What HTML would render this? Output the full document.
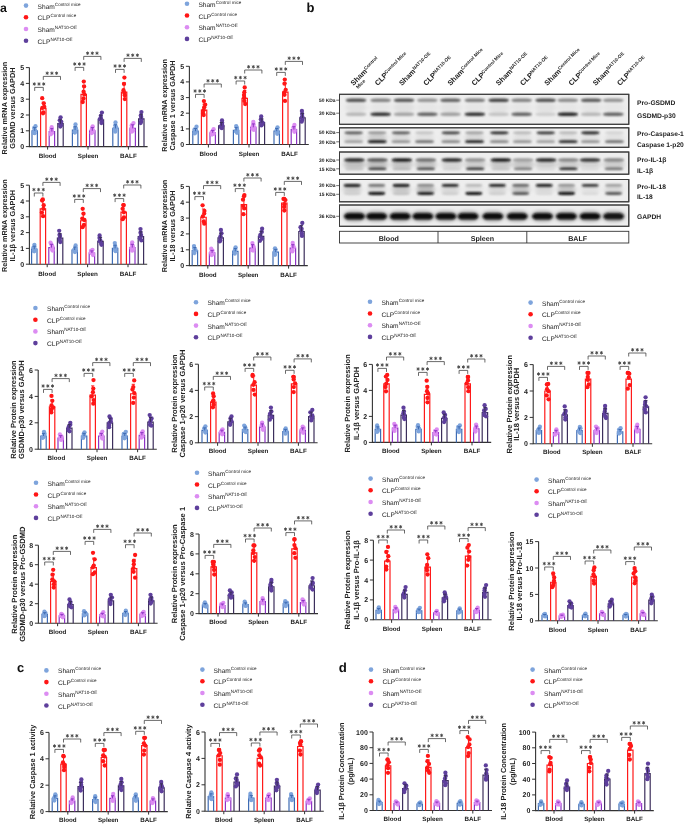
<!DOCTYPE html>
<html><head><meta charset="utf-8"><style>
html,body{margin:0;padding:0;background:#fff;}
svg{display:block;font-family:"Liberation Sans", sans-serif;will-change:transform;text-rendering:geometricPrecision;}
</style></head><body>
<svg width="685" height="824" viewBox="0 0 685 824">
<rect width="685" height="824" fill="#fff"/>
<text transform="translate(6.5,108.1) rotate(-90)" text-anchor="middle" font-size="7.3" font-weight="bold" fill="#222">Relative mRNA expression</text>
<text transform="translate(14.5,108.1) rotate(-90)" text-anchor="middle" font-size="7.3" font-weight="bold" fill="#222">GSDMD versus GAPDH</text>
<path d="M29.4,67.6V146.6H147.6" stroke="#333333" stroke-width="1.1" fill="none"/>
<path d="M25.9,146.6H29.4" stroke="#333333" stroke-width="1"/>
<text x="24.2" y="149.1" text-anchor="end" font-size="7" font-weight="bold" fill="#222">0</text>
<path d="M25.9,130.8H29.4" stroke="#333333" stroke-width="1"/>
<text x="24.2" y="133.3" text-anchor="end" font-size="7" font-weight="bold" fill="#222">1</text>
<path d="M25.9,115.0H29.4" stroke="#333333" stroke-width="1"/>
<text x="24.2" y="117.5" text-anchor="end" font-size="7" font-weight="bold" fill="#222">2</text>
<path d="M25.9,99.2H29.4" stroke="#333333" stroke-width="1"/>
<text x="24.2" y="101.7" text-anchor="end" font-size="7" font-weight="bold" fill="#222">3</text>
<path d="M25.9,83.4H29.4" stroke="#333333" stroke-width="1"/>
<text x="24.2" y="85.9" text-anchor="end" font-size="7" font-weight="bold" fill="#222">4</text>
<path d="M25.9,67.6H29.4" stroke="#333333" stroke-width="1"/>
<text x="24.2" y="70.1" text-anchor="end" font-size="7" font-weight="bold" fill="#222">5</text>
<path d="M47.6,146.6v3" stroke="#333333" stroke-width="1"/>
<text x="47.6" y="157.9" text-anchor="middle" font-size="6.25" font-weight="bold" fill="#222">Blood</text>
<path d="M32.00,146.60V130.80H37.40V146.60" fill="none" stroke="#3f6cb4" stroke-width="1.2"/>
<circle cx="35.5" cy="126.2" r="2.15" fill="#7ea4dc"/>
<circle cx="34.2" cy="127.9" r="2.15" fill="#7ea4dc"/>
<circle cx="34.6" cy="129.7" r="2.15" fill="#7ea4dc"/>
<circle cx="35.3" cy="130.7" r="2.15" fill="#7ea4dc"/>
<circle cx="33.7" cy="132.6" r="2.15" fill="#7ea4dc"/>
<circle cx="34.6" cy="133.2" r="2.15" fill="#7ea4dc"/>
<path d="M34.7,130.8V127.6M33.1,127.6h3.2" stroke="#3f6cb4" stroke-width="1"/>
<path d="M40.60,146.60V108.68H46.00V146.60" fill="none" stroke="#ff1a1a" stroke-width="1.2"/>
<circle cx="42.2" cy="98.2" r="2.15" fill="#ff1616"/>
<circle cx="43.8" cy="103.3" r="2.15" fill="#ff1616"/>
<circle cx="44.3" cy="106.9" r="2.15" fill="#ff1616"/>
<circle cx="42.3" cy="107.9" r="2.15" fill="#ff1616"/>
<circle cx="43.4" cy="112.5" r="2.15" fill="#ff1616"/>
<circle cx="43.0" cy="113.3" r="2.15" fill="#ff1616"/>
<path d="M43.3,108.7V102.2M41.7,102.2h3.2" stroke="#ff1a1a" stroke-width="1"/>
<path d="M49.20,146.60V131.59H54.60V146.60" fill="none" stroke="#8e34c4" stroke-width="1.2"/>
<circle cx="51.7" cy="127.2" r="2.15" fill="#dc8cf2"/>
<circle cx="51.3" cy="129.5" r="2.15" fill="#dc8cf2"/>
<circle cx="51.9" cy="130.6" r="2.15" fill="#dc8cf2"/>
<circle cx="51.3" cy="131.8" r="2.15" fill="#dc8cf2"/>
<circle cx="51.8" cy="133.2" r="2.15" fill="#dc8cf2"/>
<circle cx="50.8" cy="134.3" r="2.15" fill="#dc8cf2"/>
<path d="M51.9,131.6V128.6M50.3,128.6h3.2" stroke="#8e34c4" stroke-width="1"/>
<path d="M57.80,146.60V123.69H63.20V146.60" fill="none" stroke="#3c2f5c" stroke-width="1.2"/>
<circle cx="60.6" cy="117.3" r="2.15" fill="#5e3f9c"/>
<circle cx="59.8" cy="120.2" r="2.15" fill="#5e3f9c"/>
<circle cx="61.3" cy="121.8" r="2.15" fill="#5e3f9c"/>
<circle cx="60.1" cy="124.1" r="2.15" fill="#5e3f9c"/>
<circle cx="61.0" cy="125.2" r="2.15" fill="#5e3f9c"/>
<circle cx="60.3" cy="126.5" r="2.15" fill="#5e3f9c"/>
<path d="M60.5,123.7V119.8M58.9,119.8h3.2" stroke="#3c2f5c" stroke-width="1"/>
<path d="M34.7,90.9V87.4H43.3V90.9" stroke="#444" stroke-width="0.8" fill="none"/>
<path d="M34.30,82.30L34.30,85.70M32.83,83.15L35.77,84.85M32.83,84.85L35.77,83.15M39.00,82.30L39.00,85.70M37.53,83.15L40.47,84.85M37.53,84.85L40.47,83.15M43.70,82.30L43.70,85.70M42.23,83.15L45.17,84.85M42.23,84.85L45.17,83.15" stroke="#444" stroke-width="0.9" fill="none"/>
<path d="M43.3,79.9V76.4H60.5V79.9" stroke="#444" stroke-width="0.8" fill="none"/>
<path d="M47.20,71.50L47.20,74.90M45.73,72.35L48.67,74.05M45.73,74.05L48.67,72.35M51.90,71.50L51.90,74.90M50.43,72.35L53.37,74.05M50.43,74.05L53.37,72.35M56.60,71.50L56.60,74.90M55.13,72.35L58.07,74.05M55.13,74.05L58.07,72.35" stroke="#444" stroke-width="0.9" fill="none"/>
<path d="M88.0,146.6v3" stroke="#333333" stroke-width="1"/>
<text x="88.0" y="157.9" text-anchor="middle" font-size="6.25" font-weight="bold" fill="#222">Spleen</text>
<path d="M72.40,146.60V130.01H77.80V146.60" fill="none" stroke="#3f6cb4" stroke-width="1.2"/>
<circle cx="75.5" cy="124.5" r="2.15" fill="#7ea4dc"/>
<circle cx="75.3" cy="127.4" r="2.15" fill="#7ea4dc"/>
<circle cx="75.9" cy="128.5" r="2.15" fill="#7ea4dc"/>
<circle cx="75.3" cy="130.0" r="2.15" fill="#7ea4dc"/>
<circle cx="74.5" cy="132.0" r="2.15" fill="#7ea4dc"/>
<circle cx="74.9" cy="132.5" r="2.15" fill="#7ea4dc"/>
<path d="M75.1,130.0V126.7M73.5,126.7h3.2" stroke="#3f6cb4" stroke-width="1"/>
<path d="M81.00,146.60V94.46H86.40V146.60" fill="none" stroke="#ff1a1a" stroke-width="1.2"/>
<circle cx="83.8" cy="81.6" r="2.15" fill="#ff1616"/>
<circle cx="84.1" cy="86.4" r="2.15" fill="#ff1616"/>
<circle cx="83.6" cy="91.7" r="2.15" fill="#ff1616"/>
<circle cx="84.3" cy="94.4" r="2.15" fill="#ff1616"/>
<circle cx="83.5" cy="98.4" r="2.15" fill="#ff1616"/>
<circle cx="82.7" cy="102.0" r="2.15" fill="#ff1616"/>
<path d="M83.7,94.5V85.6M82.1,85.6h3.2" stroke="#ff1a1a" stroke-width="1"/>
<path d="M89.60,146.60V130.80H95.00V146.60" fill="none" stroke="#8e34c4" stroke-width="1.2"/>
<circle cx="92.7" cy="126.3" r="2.15" fill="#dc8cf2"/>
<circle cx="92.5" cy="127.7" r="2.15" fill="#dc8cf2"/>
<circle cx="91.6" cy="129.8" r="2.15" fill="#dc8cf2"/>
<circle cx="93.4" cy="130.8" r="2.15" fill="#dc8cf2"/>
<circle cx="92.4" cy="132.0" r="2.15" fill="#dc8cf2"/>
<circle cx="91.7" cy="133.1" r="2.15" fill="#dc8cf2"/>
<path d="M92.3,130.8V127.6M90.7,127.6h3.2" stroke="#8e34c4" stroke-width="1"/>
<path d="M98.20,146.60V119.74H103.60V146.60" fill="none" stroke="#3c2f5c" stroke-width="1.2"/>
<circle cx="101.9" cy="112.6" r="2.15" fill="#5e3f9c"/>
<circle cx="100.8" cy="115.8" r="2.15" fill="#5e3f9c"/>
<circle cx="101.0" cy="118.5" r="2.15" fill="#5e3f9c"/>
<circle cx="99.8" cy="119.1" r="2.15" fill="#5e3f9c"/>
<circle cx="101.6" cy="121.4" r="2.15" fill="#5e3f9c"/>
<circle cx="101.4" cy="123.1" r="2.15" fill="#5e3f9c"/>
<path d="M100.9,119.7V115.2M99.3,115.2h3.2" stroke="#3c2f5c" stroke-width="1"/>
<path d="M75.1,70.9V67.4H83.7V70.9" stroke="#444" stroke-width="0.8" fill="none"/>
<path d="M74.70,62.30L74.70,65.70M73.23,63.15L76.17,64.85M73.23,64.85L76.17,63.15M79.40,62.30L79.40,65.70M77.93,63.15L80.87,64.85M77.93,64.85L80.87,63.15M84.10,62.30L84.10,65.70M82.63,63.15L85.57,64.85M82.63,64.85L85.57,63.15" stroke="#444" stroke-width="0.9" fill="none"/>
<path d="M83.7,59.9V56.4H100.9V59.9" stroke="#444" stroke-width="0.8" fill="none"/>
<path d="M87.60,51.50L87.60,54.90M86.13,52.35L89.07,54.05M86.13,54.05L89.07,52.35M92.30,51.50L92.30,54.90M90.83,52.35L93.77,54.05M90.83,54.05L93.77,52.35M97.00,51.50L97.00,54.90M95.53,52.35L98.47,54.05M95.53,54.05L98.47,52.35" stroke="#444" stroke-width="0.9" fill="none"/>
<path d="M128.4,146.6v3" stroke="#333333" stroke-width="1"/>
<text x="128.4" y="157.9" text-anchor="middle" font-size="6.25" font-weight="bold" fill="#222">BALF</text>
<path d="M112.80,146.60V128.43H118.20V146.60" fill="none" stroke="#3f6cb4" stroke-width="1.2"/>
<circle cx="115.5" cy="122.5" r="2.15" fill="#7ea4dc"/>
<circle cx="115.3" cy="125.3" r="2.15" fill="#7ea4dc"/>
<circle cx="116.3" cy="127.6" r="2.15" fill="#7ea4dc"/>
<circle cx="114.8" cy="128.4" r="2.15" fill="#7ea4dc"/>
<circle cx="115.5" cy="130.1" r="2.15" fill="#7ea4dc"/>
<circle cx="115.2" cy="131.7" r="2.15" fill="#7ea4dc"/>
<path d="M115.5,128.4V124.8M113.9,124.8h3.2" stroke="#3f6cb4" stroke-width="1"/>
<path d="M121.40,146.60V92.09H126.80V146.60" fill="none" stroke="#ff1a1a" stroke-width="1.2"/>
<circle cx="124.4" cy="77.6" r="2.15" fill="#ff1616"/>
<circle cx="124.0" cy="83.9" r="2.15" fill="#ff1616"/>
<circle cx="123.5" cy="90.2" r="2.15" fill="#ff1616"/>
<circle cx="124.3" cy="93.0" r="2.15" fill="#ff1616"/>
<circle cx="124.8" cy="95.3" r="2.15" fill="#ff1616"/>
<circle cx="124.8" cy="99.1" r="2.15" fill="#ff1616"/>
<path d="M124.1,92.1V82.8M122.5,82.8h3.2" stroke="#ff1a1a" stroke-width="1"/>
<path d="M130.00,146.60V128.43H135.40V146.60" fill="none" stroke="#8e34c4" stroke-width="1.2"/>
<circle cx="133.5" cy="123.1" r="2.15" fill="#dc8cf2"/>
<circle cx="131.8" cy="125.2" r="2.15" fill="#dc8cf2"/>
<circle cx="131.6" cy="127.7" r="2.15" fill="#dc8cf2"/>
<circle cx="132.1" cy="128.2" r="2.15" fill="#dc8cf2"/>
<circle cx="133.0" cy="130.5" r="2.15" fill="#dc8cf2"/>
<circle cx="131.8" cy="131.7" r="2.15" fill="#dc8cf2"/>
<path d="M132.7,128.4V124.8M131.1,124.8h3.2" stroke="#8e34c4" stroke-width="1"/>
<path d="M138.60,146.60V118.95H144.00V146.60" fill="none" stroke="#3c2f5c" stroke-width="1.2"/>
<circle cx="141.4" cy="112.1" r="2.15" fill="#5e3f9c"/>
<circle cx="140.8" cy="115.4" r="2.15" fill="#5e3f9c"/>
<circle cx="141.2" cy="117.0" r="2.15" fill="#5e3f9c"/>
<circle cx="141.2" cy="119.2" r="2.15" fill="#5e3f9c"/>
<circle cx="141.1" cy="121.7" r="2.15" fill="#5e3f9c"/>
<circle cx="140.6" cy="123.1" r="2.15" fill="#5e3f9c"/>
<path d="M141.3,118.9V114.2M139.7,114.2h3.2" stroke="#3c2f5c" stroke-width="1"/>
<path d="M115.5,72.9V69.4H124.1V72.9" stroke="#444" stroke-width="0.8" fill="none"/>
<path d="M115.10,64.30L115.10,67.70M113.63,65.15L116.57,66.85M113.63,66.85L116.57,65.15M119.80,64.30L119.80,67.70M118.33,65.15L121.27,66.85M118.33,66.85L121.27,65.15M124.50,64.30L124.50,67.70M123.03,65.15L125.97,66.85M123.03,66.85L125.97,65.15" stroke="#444" stroke-width="0.9" fill="none"/>
<path d="M124.1,61.9V58.4H141.3V61.9" stroke="#444" stroke-width="0.8" fill="none"/>
<path d="M128.00,53.50L128.00,56.90M126.53,54.35L129.47,56.05M126.53,56.05L129.47,54.35M132.70,53.50L132.70,56.90M131.23,54.35L134.17,56.05M131.23,56.05L134.17,54.35M137.40,53.50L137.40,56.90M135.93,54.35L138.87,56.05M135.93,56.05L138.87,54.35" stroke="#444" stroke-width="0.9" fill="none"/>
<circle cx="26.0" cy="5.6" r="2.3" fill="#7ea4dc"/>
<text x="37.6" y="8.6" font-size="6.6" fill="#222">Sham<tspan font-size="4.6" dy="-3.0">Control mice</tspan></text>
<circle cx="26.0" cy="17.3" r="2.3" fill="#ff1616"/>
<text x="37.6" y="20.3" font-size="6.6" fill="#222">CLP<tspan font-size="4.6" dy="-3.0">Control mice</tspan></text>
<circle cx="26.0" cy="29.0" r="2.3" fill="#dc8cf2"/>
<text x="37.6" y="32.0" font-size="6.6" fill="#222">Sham<tspan font-size="4.6" dy="-3.0">NAT10-OE</tspan></text>
<circle cx="26.0" cy="40.7" r="2.3" fill="#5e3f9c"/>
<text x="37.6" y="43.7" font-size="6.6" fill="#222">CLP<tspan font-size="4.6" dy="-3.0">NAT10-OE</tspan></text>
<text transform="translate(167.0,105.4) rotate(-90)" text-anchor="middle" font-size="7.3" font-weight="bold" fill="#222">Relative mRNA expression</text>
<text transform="translate(175.0,105.4) rotate(-90)" text-anchor="middle" font-size="7.3" font-weight="bold" fill="#222">Caspase 1 versus GAPDH</text>
<path d="M189.4,66.3V144.5H308.8" stroke="#333333" stroke-width="1.1" fill="none"/>
<path d="M185.9,144.5H189.4" stroke="#333333" stroke-width="1"/>
<text x="184.2" y="147.0" text-anchor="end" font-size="7" font-weight="bold" fill="#222">0</text>
<path d="M185.9,128.9H189.4" stroke="#333333" stroke-width="1"/>
<text x="184.2" y="131.4" text-anchor="end" font-size="7" font-weight="bold" fill="#222">1</text>
<path d="M185.9,113.2H189.4" stroke="#333333" stroke-width="1"/>
<text x="184.2" y="115.7" text-anchor="end" font-size="7" font-weight="bold" fill="#222">2</text>
<path d="M185.9,97.6H189.4" stroke="#333333" stroke-width="1"/>
<text x="184.2" y="100.1" text-anchor="end" font-size="7" font-weight="bold" fill="#222">3</text>
<path d="M185.9,81.9H189.4" stroke="#333333" stroke-width="1"/>
<text x="184.2" y="84.4" text-anchor="end" font-size="7" font-weight="bold" fill="#222">4</text>
<path d="M185.9,66.3H189.4" stroke="#333333" stroke-width="1"/>
<text x="184.2" y="68.8" text-anchor="end" font-size="7" font-weight="bold" fill="#222">5</text>
<path d="M208.4,144.5v3" stroke="#333333" stroke-width="1"/>
<text x="208.4" y="155.8" text-anchor="middle" font-size="6.25" font-weight="bold" fill="#222">Blood</text>
<path d="M192.80,144.50V131.21H198.20V144.50" fill="none" stroke="#3f6cb4" stroke-width="1.2"/>
<circle cx="196.5" cy="126.7" r="2.15" fill="#7ea4dc"/>
<circle cx="194.6" cy="129.3" r="2.15" fill="#7ea4dc"/>
<circle cx="196.0" cy="130.0" r="2.15" fill="#7ea4dc"/>
<circle cx="195.1" cy="131.1" r="2.15" fill="#7ea4dc"/>
<circle cx="195.7" cy="132.3" r="2.15" fill="#7ea4dc"/>
<circle cx="194.7" cy="133.4" r="2.15" fill="#7ea4dc"/>
<path d="M195.5,131.2V128.5M193.9,128.5h3.2" stroke="#3f6cb4" stroke-width="1"/>
<path d="M201.40,144.50V110.09H206.80V144.50" fill="none" stroke="#ff1a1a" stroke-width="1.2"/>
<circle cx="203.9" cy="101.1" r="2.15" fill="#ff1616"/>
<circle cx="205.2" cy="104.7" r="2.15" fill="#ff1616"/>
<circle cx="204.2" cy="107.3" r="2.15" fill="#ff1616"/>
<circle cx="203.6" cy="110.2" r="2.15" fill="#ff1616"/>
<circle cx="203.1" cy="113.5" r="2.15" fill="#ff1616"/>
<circle cx="203.7" cy="115.1" r="2.15" fill="#ff1616"/>
<path d="M204.1,110.1V104.2M202.5,104.2h3.2" stroke="#ff1a1a" stroke-width="1"/>
<path d="M210.00,144.50V132.77H215.40V144.50" fill="none" stroke="#8e34c4" stroke-width="1.2"/>
<circle cx="213.6" cy="129.2" r="2.15" fill="#dc8cf2"/>
<circle cx="212.8" cy="130.8" r="2.15" fill="#dc8cf2"/>
<circle cx="211.7" cy="132.1" r="2.15" fill="#dc8cf2"/>
<circle cx="211.9" cy="132.9" r="2.15" fill="#dc8cf2"/>
<circle cx="213.8" cy="133.8" r="2.15" fill="#dc8cf2"/>
<circle cx="212.0" cy="134.6" r="2.15" fill="#dc8cf2"/>
<path d="M212.7,132.8V130.4M211.1,130.4h3.2" stroke="#8e34c4" stroke-width="1"/>
<path d="M218.60,144.50V125.73H224.00V144.50" fill="none" stroke="#3c2f5c" stroke-width="1.2"/>
<circle cx="222.0" cy="120.4" r="2.15" fill="#5e3f9c"/>
<circle cx="222.2" cy="122.8" r="2.15" fill="#5e3f9c"/>
<circle cx="221.9" cy="124.4" r="2.15" fill="#5e3f9c"/>
<circle cx="222.4" cy="125.9" r="2.15" fill="#5e3f9c"/>
<circle cx="220.6" cy="126.7" r="2.15" fill="#5e3f9c"/>
<circle cx="221.8" cy="128.2" r="2.15" fill="#5e3f9c"/>
<path d="M221.3,125.7V122.5M219.7,122.5h3.2" stroke="#3c2f5c" stroke-width="1"/>
<path d="M195.5,97.9V94.4H204.1V97.9" stroke="#444" stroke-width="0.8" fill="none"/>
<path d="M195.10,89.30L195.10,92.70M193.63,90.15L196.57,91.85M193.63,91.85L196.57,90.15M199.80,89.30L199.80,92.70M198.33,90.15L201.27,91.85M198.33,91.85L201.27,90.15M204.50,89.30L204.50,92.70M203.03,90.15L205.97,91.85M203.03,91.85L205.97,90.15" stroke="#444" stroke-width="0.9" fill="none"/>
<path d="M204.1,87.5V84.0H221.3V87.5" stroke="#444" stroke-width="0.8" fill="none"/>
<path d="M208.00,79.10L208.00,82.50M206.53,79.95L209.47,81.65M206.53,81.65L209.47,79.95M212.70,79.10L212.70,82.50M211.23,79.95L214.17,81.65M211.23,81.65L214.17,79.95M217.40,79.10L217.40,82.50M215.93,79.95L218.87,81.65M215.93,81.65L218.87,79.95" stroke="#444" stroke-width="0.9" fill="none"/>
<path d="M249.0,144.5v3" stroke="#333333" stroke-width="1"/>
<text x="249.0" y="155.8" text-anchor="middle" font-size="6.25" font-weight="bold" fill="#222">Spleen</text>
<path d="M233.40,144.50V130.42H238.80V144.50" fill="none" stroke="#3f6cb4" stroke-width="1.2"/>
<circle cx="236.2" cy="126.1" r="2.15" fill="#7ea4dc"/>
<circle cx="237.0" cy="128.0" r="2.15" fill="#7ea4dc"/>
<circle cx="236.8" cy="129.4" r="2.15" fill="#7ea4dc"/>
<circle cx="236.9" cy="130.5" r="2.15" fill="#7ea4dc"/>
<circle cx="236.0" cy="131.4" r="2.15" fill="#7ea4dc"/>
<circle cx="237.0" cy="132.8" r="2.15" fill="#7ea4dc"/>
<path d="M236.1,130.4V127.6M234.5,127.6h3.2" stroke="#3f6cb4" stroke-width="1"/>
<path d="M242.00,144.50V98.36H247.40V144.50" fill="none" stroke="#ff1a1a" stroke-width="1.2"/>
<circle cx="244.7" cy="87.5" r="2.15" fill="#ff1616"/>
<circle cx="244.3" cy="92.3" r="2.15" fill="#ff1616"/>
<circle cx="244.0" cy="95.1" r="2.15" fill="#ff1616"/>
<circle cx="244.2" cy="97.4" r="2.15" fill="#ff1616"/>
<circle cx="244.3" cy="100.9" r="2.15" fill="#ff1616"/>
<circle cx="245.2" cy="104.0" r="2.15" fill="#ff1616"/>
<path d="M244.7,98.4V90.5M243.1,90.5h3.2" stroke="#ff1a1a" stroke-width="1"/>
<path d="M250.60,144.50V127.30H256.00V144.50" fill="none" stroke="#8e34c4" stroke-width="1.2"/>
<circle cx="253.3" cy="122.0" r="2.15" fill="#dc8cf2"/>
<circle cx="253.5" cy="124.2" r="2.15" fill="#dc8cf2"/>
<circle cx="252.7" cy="126.3" r="2.15" fill="#dc8cf2"/>
<circle cx="254.3" cy="127.3" r="2.15" fill="#dc8cf2"/>
<circle cx="252.4" cy="128.7" r="2.15" fill="#dc8cf2"/>
<circle cx="253.8" cy="129.9" r="2.15" fill="#dc8cf2"/>
<path d="M253.3,127.3V123.9M251.7,123.9h3.2" stroke="#8e34c4" stroke-width="1"/>
<path d="M259.20,144.50V122.60H264.60V144.50" fill="none" stroke="#3c2f5c" stroke-width="1.2"/>
<circle cx="261.2" cy="116.4" r="2.15" fill="#5e3f9c"/>
<circle cx="260.9" cy="119.2" r="2.15" fill="#5e3f9c"/>
<circle cx="261.4" cy="121.1" r="2.15" fill="#5e3f9c"/>
<circle cx="262.7" cy="122.9" r="2.15" fill="#5e3f9c"/>
<circle cx="261.9" cy="124.7" r="2.15" fill="#5e3f9c"/>
<circle cx="261.3" cy="125.4" r="2.15" fill="#5e3f9c"/>
<path d="M261.9,122.6V118.9M260.3,118.9h3.2" stroke="#3c2f5c" stroke-width="1"/>
<path d="M236.1,84.5V81.0H244.7V84.5" stroke="#444" stroke-width="0.8" fill="none"/>
<path d="M235.70,75.90L235.70,79.30M234.23,76.75L237.17,78.45M234.23,78.45L237.17,76.75M240.40,75.90L240.40,79.30M238.93,76.75L241.87,78.45M238.93,78.45L241.87,76.75M245.10,75.90L245.10,79.30M243.63,76.75L246.57,78.45M243.63,78.45L246.57,76.75" stroke="#444" stroke-width="0.9" fill="none"/>
<path d="M244.7,73.5V70.0H261.9V73.5" stroke="#444" stroke-width="0.8" fill="none"/>
<path d="M248.60,65.10L248.60,68.50M247.13,65.95L250.07,67.65M247.13,67.65L250.07,65.95M253.30,65.10L253.30,68.50M251.83,65.95L254.77,67.65M251.83,67.65L254.77,65.95M258.00,65.10L258.00,68.50M256.53,65.95L259.47,67.65M256.53,67.65L259.47,65.95" stroke="#444" stroke-width="0.9" fill="none"/>
<path d="M289.6,144.5v3" stroke="#333333" stroke-width="1"/>
<text x="289.6" y="155.8" text-anchor="middle" font-size="6.25" font-weight="bold" fill="#222">BALF</text>
<path d="M274.00,144.50V131.21H279.40V144.50" fill="none" stroke="#3f6cb4" stroke-width="1.2"/>
<circle cx="277.5" cy="127.3" r="2.15" fill="#7ea4dc"/>
<circle cx="277.2" cy="129.0" r="2.15" fill="#7ea4dc"/>
<circle cx="276.4" cy="130.6" r="2.15" fill="#7ea4dc"/>
<circle cx="277.1" cy="131.5" r="2.15" fill="#7ea4dc"/>
<circle cx="277.7" cy="132.7" r="2.15" fill="#7ea4dc"/>
<circle cx="277.2" cy="133.8" r="2.15" fill="#7ea4dc"/>
<path d="M276.7,131.2V128.5M275.1,128.5h3.2" stroke="#3f6cb4" stroke-width="1"/>
<path d="M282.60,144.50V92.11H288.00V144.50" fill="none" stroke="#ff1a1a" stroke-width="1.2"/>
<circle cx="284.8" cy="79.6" r="2.15" fill="#ff1616"/>
<circle cx="284.5" cy="83.7" r="2.15" fill="#ff1616"/>
<circle cx="285.7" cy="89.8" r="2.15" fill="#ff1616"/>
<circle cx="284.3" cy="92.4" r="2.15" fill="#ff1616"/>
<circle cx="284.5" cy="94.8" r="2.15" fill="#ff1616"/>
<circle cx="285.0" cy="100.9" r="2.15" fill="#ff1616"/>
<path d="M285.3,92.1V83.2M283.7,83.2h3.2" stroke="#ff1a1a" stroke-width="1"/>
<path d="M291.20,144.50V129.64H296.60V144.50" fill="none" stroke="#8e34c4" stroke-width="1.2"/>
<circle cx="294.4" cy="124.9" r="2.15" fill="#dc8cf2"/>
<circle cx="293.5" cy="127.5" r="2.15" fill="#dc8cf2"/>
<circle cx="293.8" cy="129.0" r="2.15" fill="#dc8cf2"/>
<circle cx="294.4" cy="129.4" r="2.15" fill="#dc8cf2"/>
<circle cx="294.5" cy="130.6" r="2.15" fill="#dc8cf2"/>
<circle cx="294.4" cy="131.8" r="2.15" fill="#dc8cf2"/>
<path d="M293.9,129.6V126.7M292.3,126.7h3.2" stroke="#8e34c4" stroke-width="1"/>
<path d="M299.80,144.50V117.91H305.20V144.50" fill="none" stroke="#3c2f5c" stroke-width="1.2"/>
<circle cx="301.9" cy="110.9" r="2.15" fill="#5e3f9c"/>
<circle cx="302.1" cy="113.9" r="2.15" fill="#5e3f9c"/>
<circle cx="302.4" cy="116.9" r="2.15" fill="#5e3f9c"/>
<circle cx="301.7" cy="117.4" r="2.15" fill="#5e3f9c"/>
<circle cx="302.3" cy="119.8" r="2.15" fill="#5e3f9c"/>
<circle cx="301.7" cy="121.7" r="2.15" fill="#5e3f9c"/>
<path d="M302.5,117.9V113.4M300.9,113.4h3.2" stroke="#3c2f5c" stroke-width="1"/>
<path d="M276.7,75.9V72.4H285.3V75.9" stroke="#444" stroke-width="0.8" fill="none"/>
<path d="M276.30,67.30L276.30,70.70M274.83,68.15L277.77,69.85M274.83,69.85L277.77,68.15M281.00,67.30L281.00,70.70M279.53,68.15L282.47,69.85M279.53,69.85L282.47,68.15M285.70,67.30L285.70,70.70M284.23,68.15L287.17,69.85M284.23,69.85L287.17,68.15" stroke="#444" stroke-width="0.9" fill="none"/>
<path d="M285.3,64.9V61.4H302.5V64.9" stroke="#444" stroke-width="0.8" fill="none"/>
<path d="M289.20,56.50L289.20,59.90M287.73,57.35L290.67,59.05M287.73,59.05L290.67,57.35M293.90,56.50L293.90,59.90M292.43,57.35L295.37,59.05M292.43,59.05L295.37,57.35M298.60,56.50L298.60,59.90M297.13,57.35L300.07,59.05M297.13,59.05L300.07,57.35" stroke="#444" stroke-width="0.9" fill="none"/>
<circle cx="187.0" cy="3.8" r="2.3" fill="#7ea4dc"/>
<text x="198.4" y="6.8" font-size="6.6" fill="#222">Sham<tspan font-size="4.6" dy="-3.0">Control mice</tspan></text>
<circle cx="187.0" cy="15.5" r="2.3" fill="#ff1616"/>
<text x="198.4" y="18.5" font-size="6.6" fill="#222">CLP<tspan font-size="4.6" dy="-3.0">Control mice</tspan></text>
<circle cx="187.0" cy="27.2" r="2.3" fill="#dc8cf2"/>
<text x="198.4" y="30.2" font-size="6.6" fill="#222">Sham<tspan font-size="4.6" dy="-3.0">NAT10-OE</tspan></text>
<circle cx="187.0" cy="38.9" r="2.3" fill="#5e3f9c"/>
<text x="198.4" y="41.9" font-size="6.6" fill="#222">CLP<tspan font-size="4.6" dy="-3.0">NAT10-OE</tspan></text>
<text transform="translate(6.5,225.7) rotate(-90)" text-anchor="middle" font-size="7.3" font-weight="bold" fill="#222">Relative mRNA expression</text>
<text transform="translate(14.5,225.7) rotate(-90)" text-anchor="middle" font-size="7.3" font-weight="bold" fill="#222">IL-1β versus GAPDH</text>
<path d="M29.4,185.2V264.2H147.2" stroke="#333333" stroke-width="1.1" fill="none"/>
<path d="M25.9,264.2H29.4" stroke="#333333" stroke-width="1"/>
<text x="24.2" y="266.7" text-anchor="end" font-size="7" font-weight="bold" fill="#222">0</text>
<path d="M25.9,248.4H29.4" stroke="#333333" stroke-width="1"/>
<text x="24.2" y="250.9" text-anchor="end" font-size="7" font-weight="bold" fill="#222">1</text>
<path d="M25.9,232.6H29.4" stroke="#333333" stroke-width="1"/>
<text x="24.2" y="235.1" text-anchor="end" font-size="7" font-weight="bold" fill="#222">2</text>
<path d="M25.9,216.8H29.4" stroke="#333333" stroke-width="1"/>
<text x="24.2" y="219.3" text-anchor="end" font-size="7" font-weight="bold" fill="#222">3</text>
<path d="M25.9,201.0H29.4" stroke="#333333" stroke-width="1"/>
<text x="24.2" y="203.5" text-anchor="end" font-size="7" font-weight="bold" fill="#222">4</text>
<path d="M25.9,185.2H29.4" stroke="#333333" stroke-width="1"/>
<text x="24.2" y="187.7" text-anchor="end" font-size="7" font-weight="bold" fill="#222">5</text>
<path d="M47.2,264.2v3" stroke="#333333" stroke-width="1"/>
<text x="47.2" y="275.5" text-anchor="middle" font-size="6.25" font-weight="bold" fill="#222">Blood</text>
<path d="M31.60,264.20V249.19H37.00V264.20" fill="none" stroke="#3f6cb4" stroke-width="1.2"/>
<circle cx="34.4" cy="244.8" r="2.15" fill="#7ea4dc"/>
<circle cx="34.5" cy="246.8" r="2.15" fill="#7ea4dc"/>
<circle cx="33.3" cy="248.0" r="2.15" fill="#7ea4dc"/>
<circle cx="35.0" cy="249.6" r="2.15" fill="#7ea4dc"/>
<circle cx="33.7" cy="250.8" r="2.15" fill="#7ea4dc"/>
<circle cx="34.2" cy="251.3" r="2.15" fill="#7ea4dc"/>
<path d="M34.3,249.2V246.2M32.7,246.2h3.2" stroke="#3f6cb4" stroke-width="1"/>
<path d="M40.20,264.20V208.90H45.60V264.20" fill="none" stroke="#ff1a1a" stroke-width="1.2"/>
<circle cx="42.8" cy="199.5" r="2.15" fill="#ff1616"/>
<circle cx="42.1" cy="200.5" r="2.15" fill="#ff1616"/>
<circle cx="43.7" cy="205.2" r="2.15" fill="#ff1616"/>
<circle cx="43.4" cy="208.8" r="2.15" fill="#ff1616"/>
<circle cx="41.9" cy="212.6" r="2.15" fill="#ff1616"/>
<circle cx="43.1" cy="216.2" r="2.15" fill="#ff1616"/>
<path d="M42.9,208.9V200.5M41.3,200.5h3.2" stroke="#ff1a1a" stroke-width="1"/>
<path d="M48.80,264.20V247.61H54.20V264.20" fill="none" stroke="#8e34c4" stroke-width="1.2"/>
<circle cx="50.5" cy="242.7" r="2.15" fill="#dc8cf2"/>
<circle cx="51.4" cy="244.4" r="2.15" fill="#dc8cf2"/>
<circle cx="52.3" cy="246.2" r="2.15" fill="#dc8cf2"/>
<circle cx="52.4" cy="247.4" r="2.15" fill="#dc8cf2"/>
<circle cx="52.2" cy="249.2" r="2.15" fill="#dc8cf2"/>
<circle cx="52.5" cy="250.5" r="2.15" fill="#dc8cf2"/>
<path d="M51.5,247.6V244.3M49.9,244.3h3.2" stroke="#8e34c4" stroke-width="1"/>
<path d="M57.40,264.20V238.13H62.80V264.20" fill="none" stroke="#3c2f5c" stroke-width="1.2"/>
<circle cx="59.2" cy="230.8" r="2.15" fill="#5e3f9c"/>
<circle cx="59.5" cy="234.8" r="2.15" fill="#5e3f9c"/>
<circle cx="60.0" cy="236.0" r="2.15" fill="#5e3f9c"/>
<circle cx="59.7" cy="238.0" r="2.15" fill="#5e3f9c"/>
<circle cx="59.8" cy="240.1" r="2.15" fill="#5e3f9c"/>
<circle cx="60.3" cy="242.1" r="2.15" fill="#5e3f9c"/>
<path d="M60.1,238.1V233.7M58.5,233.7h3.2" stroke="#3c2f5c" stroke-width="1"/>
<path d="M34.3,196.5V193.0H42.9V196.5" stroke="#444" stroke-width="0.8" fill="none"/>
<path d="M33.90,187.90L33.90,191.30M32.43,188.75L35.37,190.45M32.43,190.45L35.37,188.75M38.60,187.90L38.60,191.30M37.13,188.75L40.07,190.45M37.13,190.45L40.07,188.75M43.30,187.90L43.30,191.30M41.83,188.75L44.77,190.45M41.83,190.45L44.77,188.75" stroke="#444" stroke-width="0.9" fill="none"/>
<path d="M42.9,185.9V182.4H60.1V185.9" stroke="#444" stroke-width="0.8" fill="none"/>
<path d="M46.80,177.50L46.80,180.90M45.33,178.35L48.27,180.05M45.33,180.05L48.27,178.35M51.50,177.50L51.50,180.90M50.03,178.35L52.97,180.05M50.03,180.05L52.97,178.35M56.20,177.50L56.20,180.90M54.73,178.35L57.67,180.05M54.73,180.05L57.67,178.35" stroke="#444" stroke-width="0.9" fill="none"/>
<path d="M87.6,264.2v3" stroke="#333333" stroke-width="1"/>
<text x="87.6" y="275.5" text-anchor="middle" font-size="6.25" font-weight="bold" fill="#222">Spleen</text>
<path d="M72.00,264.20V249.98H77.40V264.20" fill="none" stroke="#3f6cb4" stroke-width="1.2"/>
<circle cx="75.6" cy="245.5" r="2.15" fill="#7ea4dc"/>
<circle cx="75.6" cy="247.4" r="2.15" fill="#7ea4dc"/>
<circle cx="75.8" cy="248.7" r="2.15" fill="#7ea4dc"/>
<circle cx="74.0" cy="249.8" r="2.15" fill="#7ea4dc"/>
<circle cx="75.7" cy="251.0" r="2.15" fill="#7ea4dc"/>
<circle cx="74.9" cy="252.1" r="2.15" fill="#7ea4dc"/>
<path d="M74.7,250.0V247.1M73.1,247.1h3.2" stroke="#3f6cb4" stroke-width="1"/>
<path d="M80.60,264.20V220.75H86.00V264.20" fill="none" stroke="#ff1a1a" stroke-width="1.2"/>
<circle cx="82.7" cy="208.8" r="2.15" fill="#ff1616"/>
<circle cx="83.5" cy="213.7" r="2.15" fill="#ff1616"/>
<circle cx="82.3" cy="218.6" r="2.15" fill="#ff1616"/>
<circle cx="84.4" cy="220.0" r="2.15" fill="#ff1616"/>
<circle cx="84.0" cy="225.0" r="2.15" fill="#ff1616"/>
<circle cx="82.5" cy="227.2" r="2.15" fill="#ff1616"/>
<path d="M83.3,220.8V213.4M81.7,213.4h3.2" stroke="#ff1a1a" stroke-width="1"/>
<path d="M89.20,264.20V253.14H94.60V264.20" fill="none" stroke="#8e34c4" stroke-width="1.2"/>
<circle cx="92.5" cy="249.8" r="2.15" fill="#dc8cf2"/>
<circle cx="90.9" cy="251.0" r="2.15" fill="#dc8cf2"/>
<circle cx="90.9" cy="252.3" r="2.15" fill="#dc8cf2"/>
<circle cx="91.5" cy="253.0" r="2.15" fill="#dc8cf2"/>
<circle cx="93.0" cy="253.9" r="2.15" fill="#dc8cf2"/>
<circle cx="93.0" cy="255.0" r="2.15" fill="#dc8cf2"/>
<path d="M91.9,253.1V250.9M90.3,250.9h3.2" stroke="#8e34c4" stroke-width="1"/>
<path d="M97.80,264.20V241.29H103.20V264.20" fill="none" stroke="#3c2f5c" stroke-width="1.2"/>
<circle cx="99.6" cy="235.5" r="2.15" fill="#5e3f9c"/>
<circle cx="99.5" cy="237.9" r="2.15" fill="#5e3f9c"/>
<circle cx="100.3" cy="240.3" r="2.15" fill="#5e3f9c"/>
<circle cx="99.7" cy="241.2" r="2.15" fill="#5e3f9c"/>
<circle cx="101.3" cy="243.6" r="2.15" fill="#5e3f9c"/>
<circle cx="101.5" cy="244.8" r="2.15" fill="#5e3f9c"/>
<path d="M100.5,241.3V237.4M98.9,237.4h3.2" stroke="#3c2f5c" stroke-width="1"/>
<path d="M74.7,202.9V199.4H83.3V202.9" stroke="#444" stroke-width="0.8" fill="none"/>
<path d="M74.30,194.30L74.30,197.70M72.83,195.15L75.77,196.85M72.83,196.85L75.77,195.15M79.00,194.30L79.00,197.70M77.53,195.15L80.47,196.85M77.53,196.85L80.47,195.15M83.70,194.30L83.70,197.70M82.23,195.15L85.17,196.85M82.23,196.85L85.17,195.15" stroke="#444" stroke-width="0.9" fill="none"/>
<path d="M83.3,192.1V188.6H100.5V192.1" stroke="#444" stroke-width="0.8" fill="none"/>
<path d="M87.20,183.70L87.20,187.10M85.73,184.55L88.67,186.25M85.73,186.25L88.67,184.55M91.90,183.70L91.90,187.10M90.43,184.55L93.37,186.25M90.43,186.25L93.37,184.55M96.60,183.70L96.60,187.10M95.13,184.55L98.07,186.25M95.13,186.25L98.07,184.55" stroke="#444" stroke-width="0.9" fill="none"/>
<path d="M128.0,264.2v3" stroke="#333333" stroke-width="1"/>
<text x="128.0" y="275.5" text-anchor="middle" font-size="6.25" font-weight="bold" fill="#222">BALF</text>
<path d="M112.40,264.20V248.40H117.80V264.20" fill="none" stroke="#3f6cb4" stroke-width="1.2"/>
<circle cx="114.8" cy="243.1" r="2.15" fill="#7ea4dc"/>
<circle cx="115.1" cy="245.8" r="2.15" fill="#7ea4dc"/>
<circle cx="115.3" cy="247.2" r="2.15" fill="#7ea4dc"/>
<circle cx="115.4" cy="248.3" r="2.15" fill="#7ea4dc"/>
<circle cx="115.1" cy="249.4" r="2.15" fill="#7ea4dc"/>
<circle cx="115.6" cy="251.2" r="2.15" fill="#7ea4dc"/>
<path d="M115.1,248.4V245.2M113.5,245.2h3.2" stroke="#3f6cb4" stroke-width="1"/>
<path d="M121.00,264.20V212.06H126.40V264.20" fill="none" stroke="#ff1a1a" stroke-width="1.2"/>
<circle cx="123.3" cy="205.1" r="2.15" fill="#ff1616"/>
<circle cx="123.7" cy="205.1" r="2.15" fill="#ff1616"/>
<circle cx="122.6" cy="208.8" r="2.15" fill="#ff1616"/>
<circle cx="123.9" cy="212.3" r="2.15" fill="#ff1616"/>
<circle cx="124.0" cy="217.3" r="2.15" fill="#ff1616"/>
<circle cx="122.7" cy="219.2" r="2.15" fill="#ff1616"/>
<path d="M123.7,212.1V206.1M122.1,206.1h3.2" stroke="#ff1a1a" stroke-width="1"/>
<path d="M129.60,264.20V247.61H135.00V264.20" fill="none" stroke="#8e34c4" stroke-width="1.2"/>
<circle cx="132.2" cy="242.3" r="2.15" fill="#dc8cf2"/>
<circle cx="132.0" cy="244.6" r="2.15" fill="#dc8cf2"/>
<circle cx="132.8" cy="246.2" r="2.15" fill="#dc8cf2"/>
<circle cx="131.3" cy="248.1" r="2.15" fill="#dc8cf2"/>
<circle cx="133.3" cy="248.9" r="2.15" fill="#dc8cf2"/>
<circle cx="132.2" cy="250.7" r="2.15" fill="#dc8cf2"/>
<path d="M132.3,247.6V244.3M130.7,244.3h3.2" stroke="#8e34c4" stroke-width="1"/>
<path d="M138.20,264.20V236.55H143.60V264.20" fill="none" stroke="#3c2f5c" stroke-width="1.2"/>
<circle cx="140.5" cy="229.1" r="2.15" fill="#5e3f9c"/>
<circle cx="140.5" cy="232.7" r="2.15" fill="#5e3f9c"/>
<circle cx="141.1" cy="235.1" r="2.15" fill="#5e3f9c"/>
<circle cx="140.6" cy="236.8" r="2.15" fill="#5e3f9c"/>
<circle cx="139.9" cy="238.3" r="2.15" fill="#5e3f9c"/>
<circle cx="141.4" cy="240.4" r="2.15" fill="#5e3f9c"/>
<path d="M140.9,236.5V231.8M139.3,231.8h3.2" stroke="#3c2f5c" stroke-width="1"/>
<path d="M115.1,202.1V198.6H123.7V202.1" stroke="#444" stroke-width="0.8" fill="none"/>
<path d="M114.70,193.50L114.70,196.90M113.23,194.35L116.17,196.05M113.23,196.05L116.17,194.35M119.40,193.50L119.40,196.90M117.93,194.35L120.87,196.05M117.93,196.05L120.87,194.35M124.10,193.50L124.10,196.90M122.63,194.35L125.57,196.05M122.63,196.05L125.57,194.35" stroke="#444" stroke-width="0.9" fill="none"/>
<path d="M123.7,188.5V185.0H140.9V188.5" stroke="#444" stroke-width="0.8" fill="none"/>
<path d="M127.60,180.10L127.60,183.50M126.13,180.95L129.07,182.65M126.13,182.65L129.07,180.95M132.30,180.10L132.30,183.50M130.83,180.95L133.77,182.65M130.83,182.65L133.77,180.95M137.00,180.10L137.00,183.50M135.53,180.95L138.47,182.65M135.53,182.65L138.47,180.95" stroke="#444" stroke-width="0.9" fill="none"/>
<text transform="translate(167.0,226.0) rotate(-90)" text-anchor="middle" font-size="7.3" font-weight="bold" fill="#222">Relative mRNA expression</text>
<text transform="translate(175.0,226.0) rotate(-90)" text-anchor="middle" font-size="7.3" font-weight="bold" fill="#222">IL-18 versus GAPDH</text>
<path d="M189.4,186.4V265.6H307.8" stroke="#333333" stroke-width="1.1" fill="none"/>
<path d="M185.9,265.6H189.4" stroke="#333333" stroke-width="1"/>
<text x="184.2" y="268.1" text-anchor="end" font-size="7" font-weight="bold" fill="#222">0</text>
<path d="M185.9,249.8H189.4" stroke="#333333" stroke-width="1"/>
<text x="184.2" y="252.3" text-anchor="end" font-size="7" font-weight="bold" fill="#222">1</text>
<path d="M185.9,233.9H189.4" stroke="#333333" stroke-width="1"/>
<text x="184.2" y="236.4" text-anchor="end" font-size="7" font-weight="bold" fill="#222">2</text>
<path d="M185.9,218.1H189.4" stroke="#333333" stroke-width="1"/>
<text x="184.2" y="220.6" text-anchor="end" font-size="7" font-weight="bold" fill="#222">3</text>
<path d="M185.9,202.2H189.4" stroke="#333333" stroke-width="1"/>
<text x="184.2" y="204.7" text-anchor="end" font-size="7" font-weight="bold" fill="#222">4</text>
<path d="M185.9,186.4H189.4" stroke="#333333" stroke-width="1"/>
<text x="184.2" y="188.9" text-anchor="end" font-size="7" font-weight="bold" fill="#222">5</text>
<path d="M207.8,265.6v3" stroke="#333333" stroke-width="1"/>
<text x="207.8" y="276.9" text-anchor="middle" font-size="6.25" font-weight="bold" fill="#222">Blood</text>
<path d="M192.20,265.60V250.54H197.60V265.60" fill="none" stroke="#3f6cb4" stroke-width="1.2"/>
<circle cx="194.0" cy="246.1" r="2.15" fill="#7ea4dc"/>
<circle cx="194.1" cy="248.1" r="2.15" fill="#7ea4dc"/>
<circle cx="194.7" cy="249.9" r="2.15" fill="#7ea4dc"/>
<circle cx="195.6" cy="250.2" r="2.15" fill="#7ea4dc"/>
<circle cx="194.3" cy="251.7" r="2.15" fill="#7ea4dc"/>
<circle cx="194.4" cy="253.1" r="2.15" fill="#7ea4dc"/>
<path d="M194.9,250.5V247.5M193.3,247.5h3.2" stroke="#3f6cb4" stroke-width="1"/>
<path d="M200.80,265.60V217.26H206.20V265.60" fill="none" stroke="#ff1a1a" stroke-width="1.2"/>
<circle cx="202.6" cy="205.3" r="2.15" fill="#ff1616"/>
<circle cx="204.4" cy="211.0" r="2.15" fill="#ff1616"/>
<circle cx="204.2" cy="213.6" r="2.15" fill="#ff1616"/>
<circle cx="202.8" cy="216.5" r="2.15" fill="#ff1616"/>
<circle cx="203.8" cy="221.4" r="2.15" fill="#ff1616"/>
<circle cx="204.3" cy="223.7" r="2.15" fill="#ff1616"/>
<path d="M203.5,217.3V209.0M201.9,209.0h3.2" stroke="#ff1a1a" stroke-width="1"/>
<path d="M209.40,265.60V252.92H214.80V265.60" fill="none" stroke="#8e34c4" stroke-width="1.2"/>
<circle cx="211.2" cy="248.7" r="2.15" fill="#dc8cf2"/>
<circle cx="212.5" cy="250.7" r="2.15" fill="#dc8cf2"/>
<circle cx="211.4" cy="252.0" r="2.15" fill="#dc8cf2"/>
<circle cx="211.2" cy="252.9" r="2.15" fill="#dc8cf2"/>
<circle cx="212.9" cy="253.7" r="2.15" fill="#dc8cf2"/>
<circle cx="211.7" cy="255.0" r="2.15" fill="#dc8cf2"/>
<path d="M212.1,252.9V250.4M210.5,250.4h3.2" stroke="#8e34c4" stroke-width="1"/>
<path d="M218.00,265.60V237.86H223.40V265.60" fill="none" stroke="#3c2f5c" stroke-width="1.2"/>
<circle cx="220.9" cy="230.0" r="2.15" fill="#5e3f9c"/>
<circle cx="221.5" cy="233.3" r="2.15" fill="#5e3f9c"/>
<circle cx="220.5" cy="236.2" r="2.15" fill="#5e3f9c"/>
<circle cx="220.5" cy="237.7" r="2.15" fill="#5e3f9c"/>
<circle cx="220.3" cy="240.5" r="2.15" fill="#5e3f9c"/>
<circle cx="219.7" cy="241.4" r="2.15" fill="#5e3f9c"/>
<path d="M220.7,237.9V233.1M219.1,233.1h3.2" stroke="#3c2f5c" stroke-width="1"/>
<path d="M194.9,200.1V196.6H203.5V200.1" stroke="#444" stroke-width="0.8" fill="none"/>
<path d="M194.50,191.50L194.50,194.90M193.03,192.35L195.97,194.05M193.03,194.05L195.97,192.35M199.20,191.50L199.20,194.90M197.73,192.35L200.67,194.05M197.73,194.05L200.67,192.35M203.90,191.50L203.90,194.90M202.43,192.35L205.37,194.05M202.43,194.05L205.37,192.35" stroke="#444" stroke-width="0.9" fill="none"/>
<path d="M203.5,189.1V185.6H220.7V189.1" stroke="#444" stroke-width="0.8" fill="none"/>
<path d="M207.40,180.70L207.40,184.10M205.93,181.55L208.87,183.25M205.93,183.25L208.87,181.55M212.10,180.70L212.10,184.10M210.63,181.55L213.57,183.25M210.63,183.25L213.57,181.55M216.80,180.70L216.80,184.10M215.33,181.55L218.27,183.25M215.33,183.25L218.27,181.55" stroke="#444" stroke-width="0.9" fill="none"/>
<path d="M248.2,265.6v3" stroke="#333333" stroke-width="1"/>
<text x="248.2" y="276.9" text-anchor="middle" font-size="6.25" font-weight="bold" fill="#222">Spleen</text>
<path d="M232.60,265.60V251.34H238.00V265.60" fill="none" stroke="#3f6cb4" stroke-width="1.2"/>
<circle cx="235.6" cy="247.3" r="2.15" fill="#7ea4dc"/>
<circle cx="235.4" cy="249.1" r="2.15" fill="#7ea4dc"/>
<circle cx="235.0" cy="250.4" r="2.15" fill="#7ea4dc"/>
<circle cx="234.6" cy="250.9" r="2.15" fill="#7ea4dc"/>
<circle cx="234.6" cy="252.7" r="2.15" fill="#7ea4dc"/>
<circle cx="234.8" cy="253.6" r="2.15" fill="#7ea4dc"/>
<path d="M235.3,251.3V248.5M233.7,248.5h3.2" stroke="#3f6cb4" stroke-width="1"/>
<path d="M241.20,265.60V204.58H246.60V265.60" fill="none" stroke="#ff1a1a" stroke-width="1.2"/>
<circle cx="244.4" cy="195.1" r="2.15" fill="#ff1616"/>
<circle cx="244.0" cy="196.3" r="2.15" fill="#ff1616"/>
<circle cx="243.0" cy="199.7" r="2.15" fill="#ff1616"/>
<circle cx="243.3" cy="205.9" r="2.15" fill="#ff1616"/>
<circle cx="244.2" cy="208.4" r="2.15" fill="#ff1616"/>
<circle cx="243.5" cy="214.2" r="2.15" fill="#ff1616"/>
<path d="M243.9,204.6V196.1M242.3,196.1h3.2" stroke="#ff1a1a" stroke-width="1"/>
<path d="M249.80,265.60V248.17H255.20V265.60" fill="none" stroke="#8e34c4" stroke-width="1.2"/>
<circle cx="252.4" cy="243.1" r="2.15" fill="#dc8cf2"/>
<circle cx="252.9" cy="245.7" r="2.15" fill="#dc8cf2"/>
<circle cx="253.5" cy="246.5" r="2.15" fill="#dc8cf2"/>
<circle cx="253.5" cy="247.9" r="2.15" fill="#dc8cf2"/>
<circle cx="252.0" cy="250.2" r="2.15" fill="#dc8cf2"/>
<circle cx="253.1" cy="250.6" r="2.15" fill="#dc8cf2"/>
<path d="M252.5,248.2V244.7M250.9,244.7h3.2" stroke="#8e34c4" stroke-width="1"/>
<path d="M258.40,265.60V236.28H263.80V265.60" fill="none" stroke="#3c2f5c" stroke-width="1.2"/>
<circle cx="262.1" cy="228.7" r="2.15" fill="#5e3f9c"/>
<circle cx="261.8" cy="231.9" r="2.15" fill="#5e3f9c"/>
<circle cx="260.4" cy="234.8" r="2.15" fill="#5e3f9c"/>
<circle cx="260.3" cy="236.4" r="2.15" fill="#5e3f9c"/>
<circle cx="262.1" cy="238.7" r="2.15" fill="#5e3f9c"/>
<circle cx="260.0" cy="240.8" r="2.15" fill="#5e3f9c"/>
<path d="M261.1,236.3V231.3M259.5,231.3h3.2" stroke="#3c2f5c" stroke-width="1"/>
<path d="M235.3,192.1V188.6H243.9V192.1" stroke="#444" stroke-width="0.8" fill="none"/>
<path d="M234.90,183.50L234.90,186.90M233.43,184.35L236.37,186.05M233.43,186.05L236.37,184.35M239.60,183.50L239.60,186.90M238.13,184.35L241.07,186.05M238.13,186.05L241.07,184.35M244.30,183.50L244.30,186.90M242.83,184.35L245.77,186.05M242.83,186.05L245.77,184.35" stroke="#444" stroke-width="0.9" fill="none"/>
<path d="M243.9,181.5V178.0H261.1V181.5" stroke="#444" stroke-width="0.8" fill="none"/>
<path d="M247.80,173.10L247.80,176.50M246.33,173.95L249.27,175.65M246.33,175.65L249.27,173.95M252.50,173.10L252.50,176.50M251.03,173.95L253.97,175.65M251.03,175.65L253.97,173.95M257.20,173.10L257.20,176.50M255.73,173.95L258.67,175.65M255.73,175.65L258.67,173.95" stroke="#444" stroke-width="0.9" fill="none"/>
<path d="M288.6,265.6v3" stroke="#333333" stroke-width="1"/>
<text x="288.6" y="276.9" text-anchor="middle" font-size="6.25" font-weight="bold" fill="#222">BALF</text>
<path d="M273.00,265.60V252.13H278.40V265.60" fill="none" stroke="#3f6cb4" stroke-width="1.2"/>
<circle cx="275.0" cy="248.3" r="2.15" fill="#7ea4dc"/>
<circle cx="275.4" cy="249.6" r="2.15" fill="#7ea4dc"/>
<circle cx="274.8" cy="251.4" r="2.15" fill="#7ea4dc"/>
<circle cx="275.5" cy="251.7" r="2.15" fill="#7ea4dc"/>
<circle cx="274.7" cy="253.6" r="2.15" fill="#7ea4dc"/>
<circle cx="275.0" cy="254.8" r="2.15" fill="#7ea4dc"/>
<path d="M275.7,252.1V249.4M274.1,249.4h3.2" stroke="#3f6cb4" stroke-width="1"/>
<path d="M281.60,265.60V202.99H287.00V265.60" fill="none" stroke="#ff1a1a" stroke-width="1.2"/>
<circle cx="283.5" cy="198.9" r="2.15" fill="#ff1616"/>
<circle cx="284.3" cy="198.9" r="2.15" fill="#ff1616"/>
<circle cx="285.4" cy="200.1" r="2.15" fill="#ff1616"/>
<circle cx="284.4" cy="204.2" r="2.15" fill="#ff1616"/>
<circle cx="284.1" cy="206.9" r="2.15" fill="#ff1616"/>
<circle cx="284.3" cy="210.5" r="2.15" fill="#ff1616"/>
<path d="M284.3,203.0V199.9M282.7,199.9h3.2" stroke="#ff1a1a" stroke-width="1"/>
<path d="M290.20,265.60V248.17H295.60V265.60" fill="none" stroke="#8e34c4" stroke-width="1.2"/>
<circle cx="292.7" cy="243.0" r="2.15" fill="#dc8cf2"/>
<circle cx="292.7" cy="245.7" r="2.15" fill="#dc8cf2"/>
<circle cx="293.8" cy="247.2" r="2.15" fill="#dc8cf2"/>
<circle cx="292.9" cy="247.8" r="2.15" fill="#dc8cf2"/>
<circle cx="292.4" cy="250.2" r="2.15" fill="#dc8cf2"/>
<circle cx="292.3" cy="251.4" r="2.15" fill="#dc8cf2"/>
<path d="M292.9,248.2V244.7M291.3,244.7h3.2" stroke="#8e34c4" stroke-width="1"/>
<path d="M298.80,265.60V231.52H304.20V265.60" fill="none" stroke="#3c2f5c" stroke-width="1.2"/>
<circle cx="302.3" cy="223.0" r="2.15" fill="#5e3f9c"/>
<circle cx="300.5" cy="227.2" r="2.15" fill="#5e3f9c"/>
<circle cx="301.6" cy="228.8" r="2.15" fill="#5e3f9c"/>
<circle cx="301.3" cy="230.7" r="2.15" fill="#5e3f9c"/>
<circle cx="301.8" cy="233.4" r="2.15" fill="#5e3f9c"/>
<circle cx="302.0" cy="235.9" r="2.15" fill="#5e3f9c"/>
<path d="M301.5,231.5V225.7M299.9,225.7h3.2" stroke="#3c2f5c" stroke-width="1"/>
<path d="M275.7,195.9V192.4H284.3V195.9" stroke="#444" stroke-width="0.8" fill="none"/>
<path d="M275.30,187.30L275.30,190.70M273.83,188.15L276.77,189.85M273.83,189.85L276.77,188.15M280.00,187.30L280.00,190.70M278.53,188.15L281.47,189.85M278.53,189.85L281.47,188.15M284.70,187.30L284.70,190.70M283.23,188.15L286.17,189.85M283.23,189.85L286.17,188.15" stroke="#444" stroke-width="0.9" fill="none"/>
<path d="M284.3,184.9V181.4H301.5V184.9" stroke="#444" stroke-width="0.8" fill="none"/>
<path d="M288.20,176.50L288.20,179.90M286.73,177.35L289.67,179.05M286.73,179.05L289.67,177.35M292.90,176.50L292.90,179.90M291.43,177.35L294.37,179.05M291.43,179.05L294.37,177.35M297.60,176.50L297.60,179.90M296.13,177.35L299.07,179.05M296.13,179.05L299.07,177.35" stroke="#444" stroke-width="0.9" fill="none"/>
<text transform="translate(15.9,409.6) rotate(-90)" text-anchor="middle" font-size="7.5" font-weight="bold" fill="#222">Relative Protein expression</text>
<text transform="translate(23.9,409.6) rotate(-90)" text-anchor="middle" font-size="7.5" font-weight="bold" fill="#222">GSDMD-p30 versus GAPDH</text>
<path d="M38.2,370.0V449.2H156.8" stroke="#333333" stroke-width="1.1" fill="none"/>
<path d="M34.7,449.2H38.2" stroke="#333333" stroke-width="1"/>
<text x="33.0" y="451.7" text-anchor="end" font-size="7" font-weight="bold" fill="#222">0</text>
<path d="M34.7,422.8H38.2" stroke="#333333" stroke-width="1"/>
<text x="33.0" y="425.3" text-anchor="end" font-size="7" font-weight="bold" fill="#222">2</text>
<path d="M34.7,396.4H38.2" stroke="#333333" stroke-width="1"/>
<text x="33.0" y="398.9" text-anchor="end" font-size="7" font-weight="bold" fill="#222">4</text>
<path d="M34.7,370.0H38.2" stroke="#333333" stroke-width="1"/>
<text x="33.0" y="372.5" text-anchor="end" font-size="7" font-weight="bold" fill="#222">6</text>
<path d="M56.4,449.2v3" stroke="#333333" stroke-width="1"/>
<text x="56.4" y="459.5" text-anchor="middle" font-size="6.25" font-weight="bold" fill="#222">Blood</text>
<path d="M40.80,449.20V436.00H46.20V449.20" fill="none" stroke="#3f6cb4" stroke-width="1.2"/>
<circle cx="44.0" cy="431.8" r="2.15" fill="#7ea4dc"/>
<circle cx="44.5" cy="433.5" r="2.15" fill="#7ea4dc"/>
<circle cx="44.4" cy="434.9" r="2.15" fill="#7ea4dc"/>
<circle cx="43.4" cy="436.4" r="2.15" fill="#7ea4dc"/>
<circle cx="43.8" cy="436.8" r="2.15" fill="#7ea4dc"/>
<circle cx="42.6" cy="437.9" r="2.15" fill="#7ea4dc"/>
<path d="M43.5,436.0V433.4M41.9,433.4h3.2" stroke="#3f6cb4" stroke-width="1"/>
<path d="M49.40,449.20V406.96H54.80V449.20" fill="none" stroke="#ff1a1a" stroke-width="1.2"/>
<circle cx="51.5" cy="395.9" r="2.15" fill="#ff1616"/>
<circle cx="52.3" cy="400.8" r="2.15" fill="#ff1616"/>
<circle cx="51.5" cy="405.5" r="2.15" fill="#ff1616"/>
<circle cx="53.0" cy="407.4" r="2.15" fill="#ff1616"/>
<circle cx="51.4" cy="409.6" r="2.15" fill="#ff1616"/>
<circle cx="51.3" cy="412.4" r="2.15" fill="#ff1616"/>
<path d="M52.1,407.0V399.8M50.5,399.8h3.2" stroke="#ff1a1a" stroke-width="1"/>
<path d="M58.00,449.20V437.98H63.40V449.20" fill="none" stroke="#8e34c4" stroke-width="1.2"/>
<circle cx="59.9" cy="434.4" r="2.15" fill="#dc8cf2"/>
<circle cx="61.5" cy="436.4" r="2.15" fill="#dc8cf2"/>
<circle cx="60.1" cy="437.4" r="2.15" fill="#dc8cf2"/>
<circle cx="61.5" cy="437.7" r="2.15" fill="#dc8cf2"/>
<circle cx="61.7" cy="439.1" r="2.15" fill="#dc8cf2"/>
<circle cx="61.1" cy="439.9" r="2.15" fill="#dc8cf2"/>
<path d="M60.7,438.0V435.7M59.1,435.7h3.2" stroke="#8e34c4" stroke-width="1"/>
<path d="M66.60,449.20V428.08H72.00V449.20" fill="none" stroke="#3c2f5c" stroke-width="1.2"/>
<circle cx="70.3" cy="422.8" r="2.15" fill="#5e3f9c"/>
<circle cx="70.3" cy="424.8" r="2.15" fill="#5e3f9c"/>
<circle cx="68.9" cy="426.4" r="2.15" fill="#5e3f9c"/>
<circle cx="68.6" cy="428.2" r="2.15" fill="#5e3f9c"/>
<circle cx="68.3" cy="430.1" r="2.15" fill="#5e3f9c"/>
<circle cx="69.5" cy="431.3" r="2.15" fill="#5e3f9c"/>
<path d="M69.3,428.1V424.5M67.7,424.5h3.2" stroke="#3c2f5c" stroke-width="1"/>
<path d="M43.5,392.9V389.4H52.1V392.9" stroke="#444" stroke-width="0.8" fill="none"/>
<path d="M43.10,384.30L43.10,387.70M41.63,385.15L44.57,386.85M41.63,386.85L44.57,385.15M47.80,384.30L47.80,387.70M46.33,385.15L49.27,386.85M46.33,386.85L49.27,385.15M52.50,384.30L52.50,387.70M51.03,385.15L53.97,386.85M51.03,386.85L53.97,385.15" stroke="#444" stroke-width="0.9" fill="none"/>
<path d="M52.1,382.1V378.6H69.3V382.1" stroke="#444" stroke-width="0.8" fill="none"/>
<path d="M56.00,373.70L56.00,377.10M54.53,374.55L57.47,376.25M54.53,376.25L57.47,374.55M60.70,373.70L60.70,377.10M59.23,374.55L62.17,376.25M59.23,376.25L62.17,374.55M65.40,373.70L65.40,377.10M63.93,374.55L66.87,376.25M63.93,376.25L66.87,374.55" stroke="#444" stroke-width="0.9" fill="none"/>
<path d="M97.0,449.2v3" stroke="#333333" stroke-width="1"/>
<text x="97.0" y="459.5" text-anchor="middle" font-size="6.25" font-weight="bold" fill="#222">Spleen</text>
<path d="M81.40,449.20V436.00H86.80V449.20" fill="none" stroke="#3f6cb4" stroke-width="1.2"/>
<circle cx="84.5" cy="432.3" r="2.15" fill="#7ea4dc"/>
<circle cx="83.7" cy="433.9" r="2.15" fill="#7ea4dc"/>
<circle cx="84.1" cy="434.8" r="2.15" fill="#7ea4dc"/>
<circle cx="84.1" cy="436.1" r="2.15" fill="#7ea4dc"/>
<circle cx="83.1" cy="437.0" r="2.15" fill="#7ea4dc"/>
<circle cx="83.1" cy="437.9" r="2.15" fill="#7ea4dc"/>
<path d="M84.1,436.0V433.4M82.5,433.4h3.2" stroke="#3f6cb4" stroke-width="1"/>
<path d="M90.00,449.20V395.08H95.40V449.20" fill="none" stroke="#ff1a1a" stroke-width="1.2"/>
<circle cx="93.5" cy="380.1" r="2.15" fill="#ff1616"/>
<circle cx="93.3" cy="388.6" r="2.15" fill="#ff1616"/>
<circle cx="92.9" cy="392.2" r="2.15" fill="#ff1616"/>
<circle cx="91.7" cy="396.4" r="2.15" fill="#ff1616"/>
<circle cx="93.7" cy="400.1" r="2.15" fill="#ff1616"/>
<circle cx="93.3" cy="403.7" r="2.15" fill="#ff1616"/>
<path d="M92.7,395.1V385.9M91.1,385.9h3.2" stroke="#ff1a1a" stroke-width="1"/>
<path d="M98.60,449.20V436.00H104.00V449.20" fill="none" stroke="#8e34c4" stroke-width="1.2"/>
<circle cx="102.3" cy="431.6" r="2.15" fill="#dc8cf2"/>
<circle cx="101.0" cy="433.9" r="2.15" fill="#dc8cf2"/>
<circle cx="101.9" cy="435.1" r="2.15" fill="#dc8cf2"/>
<circle cx="101.8" cy="436.3" r="2.15" fill="#dc8cf2"/>
<circle cx="102.1" cy="437.0" r="2.15" fill="#dc8cf2"/>
<circle cx="102.3" cy="438.6" r="2.15" fill="#dc8cf2"/>
<path d="M101.3,436.0V433.4M99.7,433.4h3.2" stroke="#8e34c4" stroke-width="1"/>
<path d="M107.20,449.20V422.80H112.60V449.20" fill="none" stroke="#3c2f5c" stroke-width="1.2"/>
<circle cx="109.5" cy="416.4" r="2.15" fill="#5e3f9c"/>
<circle cx="110.8" cy="418.8" r="2.15" fill="#5e3f9c"/>
<circle cx="110.8" cy="421.4" r="2.15" fill="#5e3f9c"/>
<circle cx="109.5" cy="422.7" r="2.15" fill="#5e3f9c"/>
<circle cx="109.2" cy="425.1" r="2.15" fill="#5e3f9c"/>
<circle cx="109.1" cy="427.2" r="2.15" fill="#5e3f9c"/>
<path d="M109.9,422.8V418.3M108.3,418.3h3.2" stroke="#3c2f5c" stroke-width="1"/>
<path d="M84.1,376.9V373.4H92.7V376.9" stroke="#444" stroke-width="0.8" fill="none"/>
<path d="M83.70,368.30L83.70,371.70M82.23,369.15L85.17,370.85M82.23,370.85L85.17,369.15M88.40,368.30L88.40,371.70M86.93,369.15L89.87,370.85M86.93,370.85L89.87,369.15M93.10,368.30L93.10,371.70M91.63,369.15L94.57,370.85M91.63,370.85L94.57,369.15" stroke="#444" stroke-width="0.9" fill="none"/>
<path d="M92.7,366.1V362.6H109.9V366.1" stroke="#444" stroke-width="0.8" fill="none"/>
<path d="M96.60,357.70L96.60,361.10M95.13,358.55L98.07,360.25M95.13,360.25L98.07,358.55M101.30,357.70L101.30,361.10M99.83,358.55L102.77,360.25M99.83,360.25L102.77,358.55M106.00,357.70L106.00,361.10M104.53,358.55L107.47,360.25M104.53,360.25L107.47,358.55" stroke="#444" stroke-width="0.9" fill="none"/>
<path d="M137.6,449.2v3" stroke="#333333" stroke-width="1"/>
<text x="137.6" y="459.5" text-anchor="middle" font-size="6.25" font-weight="bold" fill="#222">BALF</text>
<path d="M122.00,449.20V436.00H127.40V449.20" fill="none" stroke="#3f6cb4" stroke-width="1.2"/>
<circle cx="125.8" cy="431.8" r="2.15" fill="#7ea4dc"/>
<circle cx="123.7" cy="434.0" r="2.15" fill="#7ea4dc"/>
<circle cx="124.8" cy="434.7" r="2.15" fill="#7ea4dc"/>
<circle cx="124.1" cy="436.1" r="2.15" fill="#7ea4dc"/>
<circle cx="125.4" cy="437.1" r="2.15" fill="#7ea4dc"/>
<circle cx="124.5" cy="438.3" r="2.15" fill="#7ea4dc"/>
<path d="M124.7,436.0V433.4M123.1,433.4h3.2" stroke="#3f6cb4" stroke-width="1"/>
<path d="M130.60,449.20V393.76H136.00V449.20" fill="none" stroke="#ff1a1a" stroke-width="1.2"/>
<circle cx="134.2" cy="380.4" r="2.15" fill="#ff1616"/>
<circle cx="133.3" cy="387.1" r="2.15" fill="#ff1616"/>
<circle cx="132.5" cy="389.5" r="2.15" fill="#ff1616"/>
<circle cx="134.3" cy="393.1" r="2.15" fill="#ff1616"/>
<circle cx="133.9" cy="397.6" r="2.15" fill="#ff1616"/>
<circle cx="133.2" cy="402.9" r="2.15" fill="#ff1616"/>
<path d="M133.3,393.8V384.3M131.7,384.3h3.2" stroke="#ff1a1a" stroke-width="1"/>
<path d="M139.20,449.20V435.34H144.60V449.20" fill="none" stroke="#8e34c4" stroke-width="1.2"/>
<circle cx="142.7" cy="431.3" r="2.15" fill="#dc8cf2"/>
<circle cx="141.8" cy="433.2" r="2.15" fill="#dc8cf2"/>
<circle cx="142.7" cy="434.0" r="2.15" fill="#dc8cf2"/>
<circle cx="141.8" cy="434.9" r="2.15" fill="#dc8cf2"/>
<circle cx="142.4" cy="436.6" r="2.15" fill="#dc8cf2"/>
<circle cx="141.4" cy="437.7" r="2.15" fill="#dc8cf2"/>
<path d="M141.9,435.3V432.6M140.3,432.6h3.2" stroke="#8e34c4" stroke-width="1"/>
<path d="M147.80,449.20V422.14H153.20V449.20" fill="none" stroke="#3c2f5c" stroke-width="1.2"/>
<circle cx="149.7" cy="415.1" r="2.15" fill="#5e3f9c"/>
<circle cx="151.6" cy="418.4" r="2.15" fill="#5e3f9c"/>
<circle cx="150.8" cy="419.9" r="2.15" fill="#5e3f9c"/>
<circle cx="150.1" cy="422.1" r="2.15" fill="#5e3f9c"/>
<circle cx="150.0" cy="424.8" r="2.15" fill="#5e3f9c"/>
<circle cx="151.3" cy="425.7" r="2.15" fill="#5e3f9c"/>
<path d="M150.5,422.1V417.5M148.9,417.5h3.2" stroke="#3c2f5c" stroke-width="1"/>
<path d="M124.7,376.9V373.4H133.3V376.9" stroke="#444" stroke-width="0.8" fill="none"/>
<path d="M124.30,368.30L124.30,371.70M122.83,369.15L125.77,370.85M122.83,370.85L125.77,369.15M129.00,368.30L129.00,371.70M127.53,369.15L130.47,370.85M127.53,370.85L130.47,369.15M133.70,368.30L133.70,371.70M132.23,369.15L135.17,370.85M132.23,370.85L135.17,369.15" stroke="#444" stroke-width="0.9" fill="none"/>
<path d="M133.3,366.1V362.6H150.5V366.1" stroke="#444" stroke-width="0.8" fill="none"/>
<path d="M137.20,357.70L137.20,361.10M135.73,358.55L138.67,360.25M135.73,360.25L138.67,358.55M141.90,357.70L141.90,361.10M140.43,358.55L143.37,360.25M140.43,360.25L143.37,358.55M146.60,357.70L146.60,361.10M145.13,358.55L148.07,360.25M145.13,360.25L148.07,358.55" stroke="#444" stroke-width="0.9" fill="none"/>
<circle cx="35.4" cy="308.0" r="2.3" fill="#7ea4dc"/>
<text x="47.0" y="311.0" font-size="6.6" fill="#222">Sham<tspan font-size="4.6" dy="-3.0">Control mice</tspan></text>
<circle cx="35.4" cy="319.7" r="2.3" fill="#ff1616"/>
<text x="47.0" y="322.7" font-size="6.6" fill="#222">CLP<tspan font-size="4.6" dy="-3.0">Control mice</tspan></text>
<circle cx="35.4" cy="331.4" r="2.3" fill="#dc8cf2"/>
<text x="47.0" y="334.4" font-size="6.6" fill="#222">Sham<tspan font-size="4.6" dy="-3.0">NAT10-OE</tspan></text>
<circle cx="35.4" cy="343.1" r="2.3" fill="#5e3f9c"/>
<text x="47.0" y="346.1" font-size="6.6" fill="#222">CLP<tspan font-size="4.6" dy="-3.0">NAT10-OE</tspan></text>
<text transform="translate(176.6,403.5) rotate(-90)" text-anchor="middle" font-size="7.5" font-weight="bold" fill="#222">Relative Protein expression</text>
<text transform="translate(185.1,403.5) rotate(-90)" text-anchor="middle" font-size="7.5" font-weight="bold" fill="#222">Caspase 1-p20 versus GAPDH</text>
<path d="M198.4,364.2V442.8H317.6" stroke="#333333" stroke-width="1.1" fill="none"/>
<path d="M194.9,442.8H198.4" stroke="#333333" stroke-width="1"/>
<text x="193.2" y="445.3" text-anchor="end" font-size="7" font-weight="bold" fill="#222">0</text>
<path d="M194.9,416.6H198.4" stroke="#333333" stroke-width="1"/>
<text x="193.2" y="419.1" text-anchor="end" font-size="7" font-weight="bold" fill="#222">2</text>
<path d="M194.9,390.4H198.4" stroke="#333333" stroke-width="1"/>
<text x="193.2" y="392.9" text-anchor="end" font-size="7" font-weight="bold" fill="#222">4</text>
<path d="M194.9,364.2H198.4" stroke="#333333" stroke-width="1"/>
<text x="193.2" y="366.7" text-anchor="end" font-size="7" font-weight="bold" fill="#222">6</text>
<path d="M217.6,442.8v3" stroke="#333333" stroke-width="1"/>
<text x="217.6" y="453.1" text-anchor="middle" font-size="6.25" font-weight="bold" fill="#222">Blood</text>
<path d="M202.00,442.80V430.36H207.40V442.80" fill="none" stroke="#3f6cb4" stroke-width="1.2"/>
<circle cx="205.4" cy="426.3" r="2.15" fill="#7ea4dc"/>
<circle cx="204.2" cy="428.3" r="2.15" fill="#7ea4dc"/>
<circle cx="205.1" cy="429.9" r="2.15" fill="#7ea4dc"/>
<circle cx="205.3" cy="430.4" r="2.15" fill="#7ea4dc"/>
<circle cx="205.3" cy="431.6" r="2.15" fill="#7ea4dc"/>
<circle cx="205.4" cy="432.6" r="2.15" fill="#7ea4dc"/>
<path d="M204.7,430.4V427.9M203.1,427.9h3.2" stroke="#3f6cb4" stroke-width="1"/>
<path d="M210.60,442.80V402.19H216.00V442.80" fill="none" stroke="#ff1a1a" stroke-width="1.2"/>
<circle cx="213.1" cy="393.5" r="2.15" fill="#ff1616"/>
<circle cx="213.7" cy="396.2" r="2.15" fill="#ff1616"/>
<circle cx="213.4" cy="400.4" r="2.15" fill="#ff1616"/>
<circle cx="212.8" cy="401.6" r="2.15" fill="#ff1616"/>
<circle cx="213.7" cy="404.7" r="2.15" fill="#ff1616"/>
<circle cx="212.9" cy="407.3" r="2.15" fill="#ff1616"/>
<path d="M213.3,402.2V395.3M211.7,395.3h3.2" stroke="#ff1a1a" stroke-width="1"/>
<path d="M219.20,442.80V432.32H224.60V442.80" fill="none" stroke="#8e34c4" stroke-width="1.2"/>
<circle cx="222.6" cy="429.3" r="2.15" fill="#dc8cf2"/>
<circle cx="221.8" cy="430.3" r="2.15" fill="#dc8cf2"/>
<circle cx="221.2" cy="431.8" r="2.15" fill="#dc8cf2"/>
<circle cx="221.4" cy="432.2" r="2.15" fill="#dc8cf2"/>
<circle cx="222.1" cy="433.0" r="2.15" fill="#dc8cf2"/>
<circle cx="222.2" cy="434.3" r="2.15" fill="#dc8cf2"/>
<path d="M221.9,432.3V430.2M220.3,430.2h3.2" stroke="#8e34c4" stroke-width="1"/>
<path d="M227.80,442.80V421.84H233.20V442.80" fill="none" stroke="#3c2f5c" stroke-width="1.2"/>
<circle cx="231.5" cy="416.5" r="2.15" fill="#5e3f9c"/>
<circle cx="230.5" cy="418.4" r="2.15" fill="#5e3f9c"/>
<circle cx="230.9" cy="420.4" r="2.15" fill="#5e3f9c"/>
<circle cx="231.5" cy="421.5" r="2.15" fill="#5e3f9c"/>
<circle cx="230.2" cy="423.9" r="2.15" fill="#5e3f9c"/>
<circle cx="230.1" cy="424.8" r="2.15" fill="#5e3f9c"/>
<path d="M230.5,421.8V418.3M228.9,418.3h3.2" stroke="#3c2f5c" stroke-width="1"/>
<path d="M204.7,390.5V387.0H213.3V390.5" stroke="#444" stroke-width="0.8" fill="none"/>
<path d="M204.30,381.90L204.30,385.30M202.83,382.75L205.77,384.45M202.83,384.45L205.77,382.75M209.00,381.90L209.00,385.30M207.53,382.75L210.47,384.45M207.53,384.45L210.47,382.75M213.70,381.90L213.70,385.30M212.23,382.75L215.17,384.45M212.23,384.45L215.17,382.75" stroke="#444" stroke-width="0.9" fill="none"/>
<path d="M213.3,379.9V376.4H230.5V379.9" stroke="#444" stroke-width="0.8" fill="none"/>
<path d="M217.20,371.50L217.20,374.90M215.73,372.35L218.67,374.05M215.73,374.05L218.67,372.35M221.90,371.50L221.90,374.90M220.43,372.35L223.37,374.05M220.43,374.05L223.37,372.35M226.60,371.50L226.60,374.90M225.13,372.35L228.07,374.05M225.13,374.05L228.07,372.35" stroke="#444" stroke-width="0.9" fill="none"/>
<path d="M258.0,442.8v3" stroke="#333333" stroke-width="1"/>
<text x="258.0" y="453.1" text-anchor="middle" font-size="6.25" font-weight="bold" fill="#222">Spleen</text>
<path d="M242.40,442.80V429.70H247.80V442.80" fill="none" stroke="#3f6cb4" stroke-width="1.2"/>
<circle cx="244.2" cy="425.6" r="2.15" fill="#7ea4dc"/>
<circle cx="245.2" cy="427.2" r="2.15" fill="#7ea4dc"/>
<circle cx="245.5" cy="429.1" r="2.15" fill="#7ea4dc"/>
<circle cx="244.4" cy="429.8" r="2.15" fill="#7ea4dc"/>
<circle cx="244.3" cy="430.9" r="2.15" fill="#7ea4dc"/>
<circle cx="245.9" cy="432.2" r="2.15" fill="#7ea4dc"/>
<path d="M245.1,429.7V427.1M243.5,427.1h3.2" stroke="#3f6cb4" stroke-width="1"/>
<path d="M251.00,442.80V385.16H256.40V442.80" fill="none" stroke="#ff1a1a" stroke-width="1.2"/>
<circle cx="252.6" cy="374.9" r="2.15" fill="#ff1616"/>
<circle cx="252.6" cy="376.0" r="2.15" fill="#ff1616"/>
<circle cx="254.6" cy="382.2" r="2.15" fill="#ff1616"/>
<circle cx="253.3" cy="384.8" r="2.15" fill="#ff1616"/>
<circle cx="253.5" cy="389.9" r="2.15" fill="#ff1616"/>
<circle cx="254.8" cy="394.6" r="2.15" fill="#ff1616"/>
<path d="M253.7,385.2V375.9M252.1,375.9h3.2" stroke="#ff1a1a" stroke-width="1"/>
<path d="M259.60,442.80V427.08H265.00V442.80" fill="none" stroke="#8e34c4" stroke-width="1.2"/>
<circle cx="262.1" cy="422.6" r="2.15" fill="#dc8cf2"/>
<circle cx="262.1" cy="424.2" r="2.15" fill="#dc8cf2"/>
<circle cx="261.7" cy="425.5" r="2.15" fill="#dc8cf2"/>
<circle cx="263.2" cy="426.6" r="2.15" fill="#dc8cf2"/>
<circle cx="263.2" cy="428.3" r="2.15" fill="#dc8cf2"/>
<circle cx="263.0" cy="429.8" r="2.15" fill="#dc8cf2"/>
<path d="M262.3,427.1V423.9M260.7,423.9h3.2" stroke="#8e34c4" stroke-width="1"/>
<path d="M268.20,442.80V415.29H273.60V442.80" fill="none" stroke="#3c2f5c" stroke-width="1.2"/>
<circle cx="270.9" cy="407.6" r="2.15" fill="#5e3f9c"/>
<circle cx="271.4" cy="411.4" r="2.15" fill="#5e3f9c"/>
<circle cx="270.0" cy="413.8" r="2.15" fill="#5e3f9c"/>
<circle cx="270.4" cy="414.9" r="2.15" fill="#5e3f9c"/>
<circle cx="271.5" cy="417.4" r="2.15" fill="#5e3f9c"/>
<circle cx="269.8" cy="419.7" r="2.15" fill="#5e3f9c"/>
<path d="M270.9,415.3V410.6M269.3,410.6h3.2" stroke="#3c2f5c" stroke-width="1"/>
<path d="M245.1,371.9V368.4H253.7V371.9" stroke="#444" stroke-width="0.8" fill="none"/>
<path d="M244.70,363.30L244.70,366.70M243.23,364.15L246.17,365.85M243.23,365.85L246.17,364.15M249.40,363.30L249.40,366.70M247.93,364.15L250.87,365.85M247.93,365.85L250.87,364.15M254.10,363.30L254.10,366.70M252.63,364.15L255.57,365.85M252.63,365.85L255.57,364.15" stroke="#444" stroke-width="0.9" fill="none"/>
<path d="M253.7,360.5V357.0H270.9V360.5" stroke="#444" stroke-width="0.8" fill="none"/>
<path d="M257.60,352.10L257.60,355.50M256.13,352.95L259.07,354.65M256.13,354.65L259.07,352.95M262.30,352.10L262.30,355.50M260.83,352.95L263.77,354.65M260.83,354.65L263.77,352.95M267.00,352.10L267.00,355.50M265.53,352.95L268.47,354.65M265.53,354.65L268.47,352.95" stroke="#444" stroke-width="0.9" fill="none"/>
<path d="M298.4,442.8v3" stroke="#333333" stroke-width="1"/>
<text x="298.4" y="453.1" text-anchor="middle" font-size="6.25" font-weight="bold" fill="#222">BALF</text>
<path d="M282.80,442.80V431.67H288.20V442.80" fill="none" stroke="#3f6cb4" stroke-width="1.2"/>
<circle cx="285.7" cy="428.5" r="2.15" fill="#7ea4dc"/>
<circle cx="285.0" cy="429.9" r="2.15" fill="#7ea4dc"/>
<circle cx="286.4" cy="430.9" r="2.15" fill="#7ea4dc"/>
<circle cx="285.3" cy="431.8" r="2.15" fill="#7ea4dc"/>
<circle cx="285.7" cy="432.4" r="2.15" fill="#7ea4dc"/>
<circle cx="285.4" cy="433.7" r="2.15" fill="#7ea4dc"/>
<path d="M285.5,431.7V429.4M283.9,429.4h3.2" stroke="#3f6cb4" stroke-width="1"/>
<path d="M291.40,442.80V383.85H296.80V442.80" fill="none" stroke="#ff1a1a" stroke-width="1.2"/>
<circle cx="293.3" cy="376.8" r="2.15" fill="#ff1616"/>
<circle cx="293.7" cy="376.8" r="2.15" fill="#ff1616"/>
<circle cx="293.7" cy="379.4" r="2.15" fill="#ff1616"/>
<circle cx="295.1" cy="383.4" r="2.15" fill="#ff1616"/>
<circle cx="293.8" cy="387.1" r="2.15" fill="#ff1616"/>
<circle cx="293.7" cy="392.1" r="2.15" fill="#ff1616"/>
<path d="M294.1,383.9V377.8M292.5,377.8h3.2" stroke="#ff1a1a" stroke-width="1"/>
<path d="M300.00,442.80V430.36H305.40V442.80" fill="none" stroke="#8e34c4" stroke-width="1.2"/>
<circle cx="302.7" cy="426.6" r="2.15" fill="#dc8cf2"/>
<circle cx="303.7" cy="428.0" r="2.15" fill="#dc8cf2"/>
<circle cx="301.6" cy="429.6" r="2.15" fill="#dc8cf2"/>
<circle cx="301.7" cy="430.4" r="2.15" fill="#dc8cf2"/>
<circle cx="303.3" cy="431.8" r="2.15" fill="#dc8cf2"/>
<circle cx="303.2" cy="432.8" r="2.15" fill="#dc8cf2"/>
<path d="M302.7,430.4V427.9M301.1,427.9h3.2" stroke="#8e34c4" stroke-width="1"/>
<path d="M308.60,442.80V416.60H314.00V442.80" fill="none" stroke="#3c2f5c" stroke-width="1.2"/>
<circle cx="312.3" cy="409.9" r="2.15" fill="#5e3f9c"/>
<circle cx="310.3" cy="412.3" r="2.15" fill="#5e3f9c"/>
<circle cx="312.3" cy="415.5" r="2.15" fill="#5e3f9c"/>
<circle cx="311.1" cy="416.4" r="2.15" fill="#5e3f9c"/>
<circle cx="312.0" cy="418.2" r="2.15" fill="#5e3f9c"/>
<circle cx="311.2" cy="420.4" r="2.15" fill="#5e3f9c"/>
<path d="M311.3,416.6V412.1M309.7,412.1h3.2" stroke="#3c2f5c" stroke-width="1"/>
<path d="M285.5,373.8V370.3H294.1V373.8" stroke="#444" stroke-width="0.8" fill="none"/>
<path d="M285.10,365.20L285.10,368.60M283.63,366.05L286.57,367.75M283.63,367.75L286.57,366.05M289.80,365.20L289.80,368.60M288.33,366.05L291.27,367.75M288.33,367.75L291.27,366.05M294.50,365.20L294.50,368.60M293.03,366.05L295.97,367.75M293.03,367.75L295.97,366.05" stroke="#444" stroke-width="0.9" fill="none"/>
<path d="M294.1,362.4V358.9H311.3V362.4" stroke="#444" stroke-width="0.8" fill="none"/>
<path d="M298.00,354.00L298.00,357.40M296.53,354.85L299.47,356.55M296.53,356.55L299.47,354.85M302.70,354.00L302.70,357.40M301.23,354.85L304.17,356.55M301.23,356.55L304.17,354.85M307.40,354.00L307.40,357.40M305.93,354.85L308.87,356.55M305.93,356.55L308.87,354.85" stroke="#444" stroke-width="0.9" fill="none"/>
<circle cx="196.0" cy="302.2" r="2.3" fill="#7ea4dc"/>
<text x="207.6" y="305.2" font-size="6.6" fill="#222">Sham<tspan font-size="4.6" dy="-3.0">Control mice</tspan></text>
<circle cx="196.0" cy="313.9" r="2.3" fill="#ff1616"/>
<text x="207.6" y="316.9" font-size="6.6" fill="#222">CLP<tspan font-size="4.6" dy="-3.0">Control mice</tspan></text>
<circle cx="196.0" cy="325.6" r="2.3" fill="#dc8cf2"/>
<text x="207.6" y="328.6" font-size="6.6" fill="#222">Sham<tspan font-size="4.6" dy="-3.0">NAT10-OE</tspan></text>
<circle cx="196.0" cy="337.3" r="2.3" fill="#5e3f9c"/>
<text x="207.6" y="340.3" font-size="6.6" fill="#222">CLP<tspan font-size="4.6" dy="-3.0">NAT10-OE</tspan></text>
<text transform="translate(349.5,403.4) rotate(-90)" text-anchor="middle" font-size="7.5" font-weight="bold" fill="#222">Relative Protein expression</text>
<text transform="translate(359.0,403.4) rotate(-90)" text-anchor="middle" font-size="7.5" font-weight="bold" fill="#222">IL-1β versus GAPDH</text>
<path d="M372.4,364.4V442.4H491.2" stroke="#333333" stroke-width="1.1" fill="none"/>
<path d="M368.9,442.4H372.4" stroke="#333333" stroke-width="1"/>
<text x="367.2" y="444.9" text-anchor="end" font-size="7" font-weight="bold" fill="#222">0</text>
<path d="M368.9,416.4H372.4" stroke="#333333" stroke-width="1"/>
<text x="367.2" y="418.9" text-anchor="end" font-size="7" font-weight="bold" fill="#222">2</text>
<path d="M368.9,390.4H372.4" stroke="#333333" stroke-width="1"/>
<text x="367.2" y="392.9" text-anchor="end" font-size="7" font-weight="bold" fill="#222">4</text>
<path d="M368.9,364.4H372.4" stroke="#333333" stroke-width="1"/>
<text x="367.2" y="366.9" text-anchor="end" font-size="7" font-weight="bold" fill="#222">6</text>
<path d="M390.8,442.4v3" stroke="#333333" stroke-width="1"/>
<text x="390.8" y="452.7" text-anchor="middle" font-size="6.25" font-weight="bold" fill="#222">Blood</text>
<path d="M375.20,442.40V429.40H380.60V442.40" fill="none" stroke="#3f6cb4" stroke-width="1.2"/>
<circle cx="377.1" cy="425.5" r="2.15" fill="#7ea4dc"/>
<circle cx="377.0" cy="427.1" r="2.15" fill="#7ea4dc"/>
<circle cx="377.6" cy="428.5" r="2.15" fill="#7ea4dc"/>
<circle cx="377.9" cy="429.7" r="2.15" fill="#7ea4dc"/>
<circle cx="377.8" cy="430.9" r="2.15" fill="#7ea4dc"/>
<circle cx="377.0" cy="431.9" r="2.15" fill="#7ea4dc"/>
<path d="M377.9,429.4V426.8M376.3,426.8h3.2" stroke="#3f6cb4" stroke-width="1"/>
<path d="M383.80,442.40V383.90H389.20V442.40" fill="none" stroke="#ff1a1a" stroke-width="1.2"/>
<circle cx="387.2" cy="374.9" r="2.15" fill="#ff1616"/>
<circle cx="385.9" cy="376.6" r="2.15" fill="#ff1616"/>
<circle cx="387.5" cy="380.0" r="2.15" fill="#ff1616"/>
<circle cx="386.3" cy="383.7" r="2.15" fill="#ff1616"/>
<circle cx="385.5" cy="387.0" r="2.15" fill="#ff1616"/>
<circle cx="386.0" cy="391.3" r="2.15" fill="#ff1616"/>
<path d="M386.5,383.9V375.9M384.9,375.9h3.2" stroke="#ff1a1a" stroke-width="1"/>
<path d="M392.40,442.40V428.10H397.80V442.40" fill="none" stroke="#8e34c4" stroke-width="1.2"/>
<circle cx="394.3" cy="424.0" r="2.15" fill="#dc8cf2"/>
<circle cx="395.8" cy="425.8" r="2.15" fill="#dc8cf2"/>
<circle cx="395.3" cy="427.4" r="2.15" fill="#dc8cf2"/>
<circle cx="394.8" cy="428.0" r="2.15" fill="#dc8cf2"/>
<circle cx="394.1" cy="429.3" r="2.15" fill="#dc8cf2"/>
<circle cx="394.5" cy="430.9" r="2.15" fill="#dc8cf2"/>
<path d="M395.1,428.1V425.2M393.5,425.2h3.2" stroke="#8e34c4" stroke-width="1"/>
<path d="M401.00,442.40V415.10H406.40V442.40" fill="none" stroke="#3c2f5c" stroke-width="1.2"/>
<circle cx="403.5" cy="407.7" r="2.15" fill="#5e3f9c"/>
<circle cx="403.9" cy="411.4" r="2.15" fill="#5e3f9c"/>
<circle cx="403.3" cy="413.5" r="2.15" fill="#5e3f9c"/>
<circle cx="404.1" cy="414.7" r="2.15" fill="#5e3f9c"/>
<circle cx="403.9" cy="417.5" r="2.15" fill="#5e3f9c"/>
<circle cx="404.5" cy="419.0" r="2.15" fill="#5e3f9c"/>
<path d="M403.7,415.1V410.5M402.1,410.5h3.2" stroke="#3c2f5c" stroke-width="1"/>
<path d="M377.9,371.9V368.4H386.5V371.9" stroke="#444" stroke-width="0.8" fill="none"/>
<path d="M377.50,363.30L377.50,366.70M376.03,364.15L378.97,365.85M376.03,365.85L378.97,364.15M382.20,363.30L382.20,366.70M380.73,364.15L383.67,365.85M380.73,365.85L383.67,364.15M386.90,363.30L386.90,366.70M385.43,364.15L388.37,365.85M385.43,365.85L388.37,364.15" stroke="#444" stroke-width="0.9" fill="none"/>
<path d="M386.5,360.5V357.0H403.7V360.5" stroke="#444" stroke-width="0.8" fill="none"/>
<path d="M390.40,352.10L390.40,355.50M388.93,352.95L391.87,354.65M388.93,354.65L391.87,352.95M395.10,352.10L395.10,355.50M393.63,352.95L396.57,354.65M393.63,354.65L396.57,352.95M399.80,352.10L399.80,355.50M398.33,352.95L401.27,354.65M398.33,354.65L401.27,352.95" stroke="#444" stroke-width="0.9" fill="none"/>
<path d="M431.4,442.4v3" stroke="#333333" stroke-width="1"/>
<text x="431.4" y="452.7" text-anchor="middle" font-size="6.25" font-weight="bold" fill="#222">Spleen</text>
<path d="M415.80,442.40V429.40H421.20V442.40" fill="none" stroke="#3f6cb4" stroke-width="1.2"/>
<circle cx="418.0" cy="425.2" r="2.15" fill="#7ea4dc"/>
<circle cx="417.7" cy="426.8" r="2.15" fill="#7ea4dc"/>
<circle cx="419.1" cy="428.6" r="2.15" fill="#7ea4dc"/>
<circle cx="418.5" cy="429.7" r="2.15" fill="#7ea4dc"/>
<circle cx="418.9" cy="430.9" r="2.15" fill="#7ea4dc"/>
<circle cx="418.7" cy="431.4" r="2.15" fill="#7ea4dc"/>
<path d="M418.5,429.4V426.8M416.9,426.8h3.2" stroke="#3f6cb4" stroke-width="1"/>
<path d="M424.40,442.40V394.30H429.80V442.40" fill="none" stroke="#ff1a1a" stroke-width="1.2"/>
<circle cx="426.7" cy="380.7" r="2.15" fill="#ff1616"/>
<circle cx="427.3" cy="386.9" r="2.15" fill="#ff1616"/>
<circle cx="427.0" cy="391.2" r="2.15" fill="#ff1616"/>
<circle cx="428.1" cy="393.5" r="2.15" fill="#ff1616"/>
<circle cx="427.5" cy="398.0" r="2.15" fill="#ff1616"/>
<circle cx="427.5" cy="402.3" r="2.15" fill="#ff1616"/>
<path d="M427.1,394.3V386.1M425.5,386.1h3.2" stroke="#ff1a1a" stroke-width="1"/>
<path d="M433.00,442.40V432.65H438.40V442.40" fill="none" stroke="#8e34c4" stroke-width="1.2"/>
<circle cx="436.8" cy="429.5" r="2.15" fill="#dc8cf2"/>
<circle cx="435.2" cy="430.8" r="2.15" fill="#dc8cf2"/>
<circle cx="436.1" cy="432.0" r="2.15" fill="#dc8cf2"/>
<circle cx="435.6" cy="432.9" r="2.15" fill="#dc8cf2"/>
<circle cx="434.9" cy="433.7" r="2.15" fill="#dc8cf2"/>
<circle cx="436.3" cy="434.6" r="2.15" fill="#dc8cf2"/>
<path d="M435.7,432.6V430.7M434.1,430.7h3.2" stroke="#8e34c4" stroke-width="1"/>
<path d="M441.60,442.40V418.35H447.00V442.40" fill="none" stroke="#3c2f5c" stroke-width="1.2"/>
<circle cx="443.7" cy="412.5" r="2.15" fill="#5e3f9c"/>
<circle cx="445.1" cy="415.0" r="2.15" fill="#5e3f9c"/>
<circle cx="444.2" cy="417.4" r="2.15" fill="#5e3f9c"/>
<circle cx="445.1" cy="418.3" r="2.15" fill="#5e3f9c"/>
<circle cx="445.1" cy="419.8" r="2.15" fill="#5e3f9c"/>
<circle cx="444.1" cy="422.1" r="2.15" fill="#5e3f9c"/>
<path d="M444.3,418.3V414.3M442.7,414.3h3.2" stroke="#3c2f5c" stroke-width="1"/>
<path d="M418.5,375.9V372.4H427.1V375.9" stroke="#444" stroke-width="0.8" fill="none"/>
<path d="M418.10,367.30L418.10,370.70M416.63,368.15L419.57,369.85M416.63,369.85L419.57,368.15M422.80,367.30L422.80,370.70M421.33,368.15L424.27,369.85M421.33,369.85L424.27,368.15M427.50,367.30L427.50,370.70M426.03,368.15L428.97,369.85M426.03,369.85L428.97,368.15" stroke="#444" stroke-width="0.9" fill="none"/>
<path d="M427.1,365.1V361.6H444.3V365.1" stroke="#444" stroke-width="0.8" fill="none"/>
<path d="M431.00,356.70L431.00,360.10M429.53,357.55L432.47,359.25M429.53,359.25L432.47,357.55M435.70,356.70L435.70,360.10M434.23,357.55L437.17,359.25M434.23,359.25L437.17,357.55M440.40,356.70L440.40,360.10M438.93,357.55L441.87,359.25M438.93,359.25L441.87,357.55" stroke="#444" stroke-width="0.9" fill="none"/>
<path d="M472.0,442.4v3" stroke="#333333" stroke-width="1"/>
<text x="472.0" y="452.7" text-anchor="middle" font-size="6.25" font-weight="bold" fill="#222">BALF</text>
<path d="M456.40,442.40V429.40H461.80V442.40" fill="none" stroke="#3f6cb4" stroke-width="1.2"/>
<circle cx="459.9" cy="425.5" r="2.15" fill="#7ea4dc"/>
<circle cx="458.3" cy="426.8" r="2.15" fill="#7ea4dc"/>
<circle cx="458.5" cy="428.7" r="2.15" fill="#7ea4dc"/>
<circle cx="459.1" cy="429.6" r="2.15" fill="#7ea4dc"/>
<circle cx="458.6" cy="430.5" r="2.15" fill="#7ea4dc"/>
<circle cx="458.9" cy="432.0" r="2.15" fill="#7ea4dc"/>
<path d="M459.1,429.4V426.8M457.5,426.8h3.2" stroke="#3f6cb4" stroke-width="1"/>
<path d="M465.00,442.40V383.90H470.40V442.40" fill="none" stroke="#ff1a1a" stroke-width="1.2"/>
<circle cx="467.8" cy="376.9" r="2.15" fill="#ff1616"/>
<circle cx="468.1" cy="376.9" r="2.15" fill="#ff1616"/>
<circle cx="468.0" cy="380.4" r="2.15" fill="#ff1616"/>
<circle cx="466.7" cy="383.4" r="2.15" fill="#ff1616"/>
<circle cx="468.3" cy="387.2" r="2.15" fill="#ff1616"/>
<circle cx="468.4" cy="391.2" r="2.15" fill="#ff1616"/>
<path d="M467.7,383.9V377.9M466.1,377.9h3.2" stroke="#ff1a1a" stroke-width="1"/>
<path d="M473.60,442.40V428.75H479.00V442.40" fill="none" stroke="#8e34c4" stroke-width="1.2"/>
<circle cx="476.1" cy="424.6" r="2.15" fill="#dc8cf2"/>
<circle cx="476.6" cy="426.8" r="2.15" fill="#dc8cf2"/>
<circle cx="475.3" cy="428.2" r="2.15" fill="#dc8cf2"/>
<circle cx="475.6" cy="429.0" r="2.15" fill="#dc8cf2"/>
<circle cx="475.3" cy="430.1" r="2.15" fill="#dc8cf2"/>
<circle cx="475.5" cy="431.5" r="2.15" fill="#dc8cf2"/>
<path d="M476.3,428.8V426.0M474.7,426.0h3.2" stroke="#8e34c4" stroke-width="1"/>
<path d="M482.20,442.40V412.50H487.60V442.40" fill="none" stroke="#3c2f5c" stroke-width="1.2"/>
<circle cx="484.6" cy="405.2" r="2.15" fill="#5e3f9c"/>
<circle cx="485.7" cy="408.9" r="2.15" fill="#5e3f9c"/>
<circle cx="484.1" cy="410.5" r="2.15" fill="#5e3f9c"/>
<circle cx="484.6" cy="412.9" r="2.15" fill="#5e3f9c"/>
<circle cx="484.1" cy="415.0" r="2.15" fill="#5e3f9c"/>
<circle cx="486.0" cy="416.3" r="2.15" fill="#5e3f9c"/>
<path d="M484.9,412.5V407.4M483.3,407.4h3.2" stroke="#3c2f5c" stroke-width="1"/>
<path d="M459.1,373.9V370.4H467.7V373.9" stroke="#444" stroke-width="0.8" fill="none"/>
<path d="M458.70,365.30L458.70,368.70M457.23,366.15L460.17,367.85M457.23,367.85L460.17,366.15M463.40,365.30L463.40,368.70M461.93,366.15L464.87,367.85M461.93,367.85L464.87,366.15M468.10,365.30L468.10,368.70M466.63,366.15L469.57,367.85M466.63,367.85L469.57,366.15" stroke="#444" stroke-width="0.9" fill="none"/>
<path d="M467.7,362.5V359.0H484.9V362.5" stroke="#444" stroke-width="0.8" fill="none"/>
<path d="M471.60,354.10L471.60,357.50M470.13,354.95L473.07,356.65M470.13,356.65L473.07,354.95M476.30,354.10L476.30,357.50M474.83,354.95L477.77,356.65M474.83,356.65L477.77,354.95M481.00,354.10L481.00,357.50M479.53,354.95L482.47,356.65M479.53,356.65L482.47,354.95" stroke="#444" stroke-width="0.9" fill="none"/>
<circle cx="370.0" cy="301.8" r="2.3" fill="#7ea4dc"/>
<text x="381.4" y="304.8" font-size="6.6" fill="#222">Sham<tspan font-size="4.6" dy="-3.0">Control mice</tspan></text>
<circle cx="370.0" cy="313.5" r="2.3" fill="#ff1616"/>
<text x="381.4" y="316.5" font-size="6.6" fill="#222">CLP<tspan font-size="4.6" dy="-3.0">Control mice</tspan></text>
<circle cx="370.0" cy="325.2" r="2.3" fill="#dc8cf2"/>
<text x="381.4" y="328.2" font-size="6.6" fill="#222">Sham<tspan font-size="4.6" dy="-3.0">NAT10-OE</tspan></text>
<circle cx="370.0" cy="336.9" r="2.3" fill="#5e3f9c"/>
<text x="381.4" y="339.9" font-size="6.6" fill="#222">CLP<tspan font-size="4.6" dy="-3.0">NAT10-OE</tspan></text>
<text transform="translate(511.6,404.2) rotate(-90)" text-anchor="middle" font-size="7.5" font-weight="bold" fill="#222">Relative Protein expression</text>
<text transform="translate(518.8,404.2) rotate(-90)" text-anchor="middle" font-size="7.5" font-weight="bold" fill="#222">IL-18 versus GAPDH</text>
<path d="M533.2,364.6V443.8H652.2" stroke="#333333" stroke-width="1.1" fill="none"/>
<path d="M529.7,443.8H533.2" stroke="#333333" stroke-width="1"/>
<text x="528.0" y="446.3" text-anchor="end" font-size="7" font-weight="bold" fill="#222">0</text>
<path d="M529.7,417.4H533.2" stroke="#333333" stroke-width="1"/>
<text x="528.0" y="419.9" text-anchor="end" font-size="7" font-weight="bold" fill="#222">2</text>
<path d="M529.7,391.0H533.2" stroke="#333333" stroke-width="1"/>
<text x="528.0" y="393.5" text-anchor="end" font-size="7" font-weight="bold" fill="#222">4</text>
<path d="M529.7,364.6H533.2" stroke="#333333" stroke-width="1"/>
<text x="528.0" y="367.1" text-anchor="end" font-size="7" font-weight="bold" fill="#222">6</text>
<path d="M551.8,443.8v3" stroke="#333333" stroke-width="1"/>
<text x="551.8" y="454.1" text-anchor="middle" font-size="6.25" font-weight="bold" fill="#222">Blood</text>
<path d="M536.20,443.80V430.60H541.60V443.80" fill="none" stroke="#3f6cb4" stroke-width="1.2"/>
<circle cx="539.9" cy="426.7" r="2.15" fill="#7ea4dc"/>
<circle cx="539.4" cy="428.7" r="2.15" fill="#7ea4dc"/>
<circle cx="538.3" cy="430.0" r="2.15" fill="#7ea4dc"/>
<circle cx="538.3" cy="430.2" r="2.15" fill="#7ea4dc"/>
<circle cx="538.8" cy="431.7" r="2.15" fill="#7ea4dc"/>
<circle cx="538.9" cy="432.9" r="2.15" fill="#7ea4dc"/>
<path d="M538.9,430.6V428.0M537.3,428.0h3.2" stroke="#3f6cb4" stroke-width="1"/>
<path d="M544.80,443.80V391.00H550.20V443.80" fill="none" stroke="#ff1a1a" stroke-width="1.2"/>
<circle cx="548.2" cy="383.9" r="2.15" fill="#ff1616"/>
<circle cx="546.9" cy="384.5" r="2.15" fill="#ff1616"/>
<circle cx="547.0" cy="389.2" r="2.15" fill="#ff1616"/>
<circle cx="548.4" cy="391.2" r="2.15" fill="#ff1616"/>
<circle cx="546.7" cy="395.4" r="2.15" fill="#ff1616"/>
<circle cx="548.6" cy="399.3" r="2.15" fill="#ff1616"/>
<path d="M547.5,391.0V384.9M545.9,384.9h3.2" stroke="#ff1a1a" stroke-width="1"/>
<path d="M553.40,443.80V432.58H558.80V443.80" fill="none" stroke="#8e34c4" stroke-width="1.2"/>
<circle cx="556.4" cy="429.4" r="2.15" fill="#dc8cf2"/>
<circle cx="556.5" cy="430.8" r="2.15" fill="#dc8cf2"/>
<circle cx="556.5" cy="431.9" r="2.15" fill="#dc8cf2"/>
<circle cx="556.4" cy="432.6" r="2.15" fill="#dc8cf2"/>
<circle cx="556.3" cy="433.3" r="2.15" fill="#dc8cf2"/>
<circle cx="555.1" cy="434.7" r="2.15" fill="#dc8cf2"/>
<path d="M556.1,432.6V430.3M554.5,430.3h3.2" stroke="#8e34c4" stroke-width="1"/>
<path d="M562.00,443.80V414.76H567.40V443.80" fill="none" stroke="#3c2f5c" stroke-width="1.2"/>
<circle cx="564.7" cy="406.4" r="2.15" fill="#5e3f9c"/>
<circle cx="565.7" cy="411.0" r="2.15" fill="#5e3f9c"/>
<circle cx="565.2" cy="412.9" r="2.15" fill="#5e3f9c"/>
<circle cx="564.2" cy="414.2" r="2.15" fill="#5e3f9c"/>
<circle cx="565.5" cy="417.2" r="2.15" fill="#5e3f9c"/>
<circle cx="565.3" cy="419.5" r="2.15" fill="#5e3f9c"/>
<path d="M564.7,414.8V409.8M563.1,409.8h3.2" stroke="#3c2f5c" stroke-width="1"/>
<path d="M538.9,380.9V377.4H547.5V380.9" stroke="#444" stroke-width="0.8" fill="none"/>
<path d="M538.50,372.30L538.50,375.70M537.03,373.15L539.97,374.85M537.03,374.85L539.97,373.15M543.20,372.30L543.20,375.70M541.73,373.15L544.67,374.85M541.73,374.85L544.67,373.15M547.90,372.30L547.90,375.70M546.43,373.15L549.37,374.85M546.43,374.85L549.37,373.15" stroke="#444" stroke-width="0.9" fill="none"/>
<path d="M547.5,369.9V366.4H564.7V369.9" stroke="#444" stroke-width="0.8" fill="none"/>
<path d="M551.40,361.50L551.40,364.90M549.93,362.35L552.87,364.05M549.93,364.05L552.87,362.35M556.10,361.50L556.10,364.90M554.63,362.35L557.57,364.05M554.63,364.05L557.57,362.35M560.80,361.50L560.80,364.90M559.33,362.35L562.27,364.05M559.33,364.05L562.27,362.35" stroke="#444" stroke-width="0.9" fill="none"/>
<path d="M592.4,443.8v3" stroke="#333333" stroke-width="1"/>
<text x="592.4" y="454.1" text-anchor="middle" font-size="6.25" font-weight="bold" fill="#222">Spleen</text>
<path d="M576.80,443.80V430.60H582.20V443.80" fill="none" stroke="#3f6cb4" stroke-width="1.2"/>
<circle cx="579.9" cy="426.8" r="2.15" fill="#7ea4dc"/>
<circle cx="580.5" cy="428.2" r="2.15" fill="#7ea4dc"/>
<circle cx="579.5" cy="429.4" r="2.15" fill="#7ea4dc"/>
<circle cx="578.7" cy="430.8" r="2.15" fill="#7ea4dc"/>
<circle cx="579.5" cy="431.8" r="2.15" fill="#7ea4dc"/>
<circle cx="580.4" cy="433.2" r="2.15" fill="#7ea4dc"/>
<path d="M579.5,430.6V428.0M577.9,428.0h3.2" stroke="#3f6cb4" stroke-width="1"/>
<path d="M585.40,443.80V379.12H590.80V443.80" fill="none" stroke="#ff1a1a" stroke-width="1.2"/>
<circle cx="588.5" cy="372.9" r="2.15" fill="#ff1616"/>
<circle cx="587.5" cy="372.9" r="2.15" fill="#ff1616"/>
<circle cx="587.8" cy="376.9" r="2.15" fill="#ff1616"/>
<circle cx="587.9" cy="379.9" r="2.15" fill="#ff1616"/>
<circle cx="588.8" cy="384.5" r="2.15" fill="#ff1616"/>
<circle cx="587.4" cy="387.2" r="2.15" fill="#ff1616"/>
<path d="M588.1,379.1V373.9M586.5,373.9h3.2" stroke="#ff1a1a" stroke-width="1"/>
<path d="M594.00,443.80V430.60H599.40V443.80" fill="none" stroke="#8e34c4" stroke-width="1.2"/>
<circle cx="596.0" cy="426.6" r="2.15" fill="#dc8cf2"/>
<circle cx="597.7" cy="428.2" r="2.15" fill="#dc8cf2"/>
<circle cx="597.3" cy="429.9" r="2.15" fill="#dc8cf2"/>
<circle cx="595.6" cy="430.8" r="2.15" fill="#dc8cf2"/>
<circle cx="596.4" cy="431.6" r="2.15" fill="#dc8cf2"/>
<circle cx="596.6" cy="433.1" r="2.15" fill="#dc8cf2"/>
<path d="M596.7,430.6V428.0M595.1,428.0h3.2" stroke="#8e34c4" stroke-width="1"/>
<path d="M602.60,443.80V413.44H608.00V443.80" fill="none" stroke="#3c2f5c" stroke-width="1.2"/>
<circle cx="605.1" cy="405.9" r="2.15" fill="#5e3f9c"/>
<circle cx="605.1" cy="409.1" r="2.15" fill="#5e3f9c"/>
<circle cx="604.8" cy="411.5" r="2.15" fill="#5e3f9c"/>
<circle cx="604.4" cy="414.1" r="2.15" fill="#5e3f9c"/>
<circle cx="605.3" cy="416.4" r="2.15" fill="#5e3f9c"/>
<circle cx="606.0" cy="418.0" r="2.15" fill="#5e3f9c"/>
<path d="M605.3,413.4V408.3M603.7,408.3h3.2" stroke="#3c2f5c" stroke-width="1"/>
<path d="M579.5,369.9V366.4H588.1V369.9" stroke="#444" stroke-width="0.8" fill="none"/>
<path d="M579.10,361.30L579.10,364.70M577.63,362.15L580.57,363.85M577.63,363.85L580.57,362.15M583.80,361.30L583.80,364.70M582.33,362.15L585.27,363.85M582.33,363.85L585.27,362.15M588.50,361.30L588.50,364.70M587.03,362.15L589.97,363.85M587.03,363.85L589.97,362.15" stroke="#444" stroke-width="0.9" fill="none"/>
<path d="M588.1,359.5V356.0H605.3V359.5" stroke="#444" stroke-width="0.8" fill="none"/>
<path d="M592.00,351.10L592.00,354.50M590.53,351.95L593.47,353.65M590.53,353.65L593.47,351.95M596.70,351.10L596.70,354.50M595.23,351.95L598.17,353.65M595.23,353.65L598.17,351.95M601.40,351.10L601.40,354.50M599.93,351.95L602.87,353.65M599.93,353.65L602.87,351.95" stroke="#444" stroke-width="0.9" fill="none"/>
<path d="M633.0,443.8v3" stroke="#333333" stroke-width="1"/>
<text x="633.0" y="454.1" text-anchor="middle" font-size="6.25" font-weight="bold" fill="#222">BALF</text>
<path d="M617.40,443.80V431.92H622.80V443.80" fill="none" stroke="#3f6cb4" stroke-width="1.2"/>
<circle cx="620.6" cy="428.2" r="2.15" fill="#7ea4dc"/>
<circle cx="619.1" cy="429.6" r="2.15" fill="#7ea4dc"/>
<circle cx="619.3" cy="431.4" r="2.15" fill="#7ea4dc"/>
<circle cx="620.3" cy="432.0" r="2.15" fill="#7ea4dc"/>
<circle cx="619.8" cy="432.8" r="2.15" fill="#7ea4dc"/>
<circle cx="619.0" cy="433.6" r="2.15" fill="#7ea4dc"/>
<path d="M620.1,431.9V429.5M618.5,429.5h3.2" stroke="#3f6cb4" stroke-width="1"/>
<path d="M626.00,443.80V379.12H631.40V443.80" fill="none" stroke="#ff1a1a" stroke-width="1.2"/>
<circle cx="628.1" cy="372.9" r="2.15" fill="#ff1616"/>
<circle cx="627.7" cy="372.9" r="2.15" fill="#ff1616"/>
<circle cx="629.3" cy="373.7" r="2.15" fill="#ff1616"/>
<circle cx="628.9" cy="377.5" r="2.15" fill="#ff1616"/>
<circle cx="629.7" cy="385.1" r="2.15" fill="#ff1616"/>
<circle cx="627.8" cy="388.7" r="2.15" fill="#ff1616"/>
<path d="M628.7,379.1V373.9M627.1,373.9h3.2" stroke="#ff1a1a" stroke-width="1"/>
<path d="M634.60,443.80V429.28H640.00V443.80" fill="none" stroke="#8e34c4" stroke-width="1.2"/>
<circle cx="637.3" cy="424.7" r="2.15" fill="#dc8cf2"/>
<circle cx="636.5" cy="426.8" r="2.15" fill="#dc8cf2"/>
<circle cx="637.5" cy="428.6" r="2.15" fill="#dc8cf2"/>
<circle cx="636.5" cy="429.3" r="2.15" fill="#dc8cf2"/>
<circle cx="637.8" cy="430.6" r="2.15" fill="#dc8cf2"/>
<circle cx="637.2" cy="431.6" r="2.15" fill="#dc8cf2"/>
<path d="M637.3,429.3V426.4M635.7,426.4h3.2" stroke="#8e34c4" stroke-width="1"/>
<path d="M643.20,443.80V406.84H648.60V443.80" fill="none" stroke="#3c2f5c" stroke-width="1.2"/>
<circle cx="645.6" cy="397.3" r="2.15" fill="#5e3f9c"/>
<circle cx="645.2" cy="402.0" r="2.15" fill="#5e3f9c"/>
<circle cx="645.0" cy="404.7" r="2.15" fill="#5e3f9c"/>
<circle cx="646.4" cy="406.4" r="2.15" fill="#5e3f9c"/>
<circle cx="644.8" cy="409.5" r="2.15" fill="#5e3f9c"/>
<circle cx="645.8" cy="412.4" r="2.15" fill="#5e3f9c"/>
<path d="M645.9,406.8V400.6M644.3,400.6h3.2" stroke="#3c2f5c" stroke-width="1"/>
<path d="M620.1,369.9V366.4H628.7V369.9" stroke="#444" stroke-width="0.8" fill="none"/>
<path d="M619.70,361.30L619.70,364.70M618.23,362.15L621.17,363.85M618.23,363.85L621.17,362.15M624.40,361.30L624.40,364.70M622.93,362.15L625.87,363.85M622.93,363.85L625.87,362.15M629.10,361.30L629.10,364.70M627.63,362.15L630.57,363.85M627.63,363.85L630.57,362.15" stroke="#444" stroke-width="0.9" fill="none"/>
<path d="M628.7,356.5V353.0H645.9V356.5" stroke="#444" stroke-width="0.8" fill="none"/>
<path d="M632.60,348.10L632.60,351.50M631.13,348.95L634.07,350.65M631.13,350.65L634.07,348.95M637.30,348.10L637.30,351.50M635.83,348.95L638.77,350.65M635.83,350.65L638.77,348.95M642.00,348.10L642.00,351.50M640.53,348.95L643.47,350.65M640.53,350.65L643.47,348.95" stroke="#444" stroke-width="0.9" fill="none"/>
<circle cx="530.6" cy="302.6" r="2.3" fill="#7ea4dc"/>
<text x="542.0" y="305.6" font-size="6.6" fill="#222">Sham<tspan font-size="4.6" dy="-3.0">Control mice</tspan></text>
<circle cx="530.6" cy="314.3" r="2.3" fill="#ff1616"/>
<text x="542.0" y="317.3" font-size="6.6" fill="#222">CLP<tspan font-size="4.6" dy="-3.0">Control mice</tspan></text>
<circle cx="530.6" cy="326.0" r="2.3" fill="#dc8cf2"/>
<text x="542.0" y="329.0" font-size="6.6" fill="#222">Sham<tspan font-size="4.6" dy="-3.0">NAT10-OE</tspan></text>
<circle cx="530.6" cy="337.7" r="2.3" fill="#5e3f9c"/>
<text x="542.0" y="340.7" font-size="6.6" fill="#222">CLP<tspan font-size="4.6" dy="-3.0">NAT10-OE</tspan></text>
<text transform="translate(16.5,584.2) rotate(-90)" text-anchor="middle" font-size="7.55" font-weight="bold" fill="#222">Relative Protein expression</text>
<text transform="translate(24.8,584.2) rotate(-90)" text-anchor="middle" font-size="7.55" font-weight="bold" fill="#222">GSDMD-p30 versus Pro-GSDMD</text>
<path d="M38.4,545.2V623.2H157.6" stroke="#333333" stroke-width="1.1" fill="none"/>
<path d="M34.9,623.2H38.4" stroke="#333333" stroke-width="1"/>
<text x="33.2" y="625.7" text-anchor="end" font-size="7" font-weight="bold" fill="#222">0</text>
<path d="M34.9,603.7H38.4" stroke="#333333" stroke-width="1"/>
<text x="33.2" y="606.2" text-anchor="end" font-size="7" font-weight="bold" fill="#222">2</text>
<path d="M34.9,584.2H38.4" stroke="#333333" stroke-width="1"/>
<text x="33.2" y="586.7" text-anchor="end" font-size="7" font-weight="bold" fill="#222">4</text>
<path d="M34.9,564.7H38.4" stroke="#333333" stroke-width="1"/>
<text x="33.2" y="567.2" text-anchor="end" font-size="7" font-weight="bold" fill="#222">6</text>
<path d="M34.9,545.2H38.4" stroke="#333333" stroke-width="1"/>
<text x="33.2" y="547.7" text-anchor="end" font-size="7" font-weight="bold" fill="#222">8</text>
<path d="M57.6,623.2v3" stroke="#333333" stroke-width="1"/>
<text x="57.6" y="634.0" text-anchor="middle" font-size="6.25" font-weight="bold" fill="#222">Blood</text>
<path d="M42.00,623.20V614.43H47.40V623.20" fill="none" stroke="#3f6cb4" stroke-width="1.2"/>
<circle cx="44.4" cy="611.7" r="2.15" fill="#7ea4dc"/>
<circle cx="45.5" cy="613.1" r="2.15" fill="#7ea4dc"/>
<circle cx="44.7" cy="614.1" r="2.15" fill="#7ea4dc"/>
<circle cx="43.8" cy="614.2" r="2.15" fill="#7ea4dc"/>
<circle cx="45.0" cy="615.2" r="2.15" fill="#7ea4dc"/>
<circle cx="44.4" cy="616.2" r="2.15" fill="#7ea4dc"/>
<path d="M44.7,614.4V612.7M43.1,612.7h3.2" stroke="#3f6cb4" stroke-width="1"/>
<path d="M50.60,623.20V581.28H56.00V623.20" fill="none" stroke="#ff1a1a" stroke-width="1.2"/>
<circle cx="53.2" cy="569.8" r="2.15" fill="#ff1616"/>
<circle cx="52.5" cy="574.7" r="2.15" fill="#ff1616"/>
<circle cx="52.4" cy="579.3" r="2.15" fill="#ff1616"/>
<circle cx="54.2" cy="581.3" r="2.15" fill="#ff1616"/>
<circle cx="53.9" cy="584.3" r="2.15" fill="#ff1616"/>
<circle cx="53.8" cy="587.6" r="2.15" fill="#ff1616"/>
<path d="M53.3,581.3V574.1M51.7,574.1h3.2" stroke="#ff1a1a" stroke-width="1"/>
<path d="M59.20,623.20V615.89H64.60V623.20" fill="none" stroke="#8e34c4" stroke-width="1.2"/>
<circle cx="61.4" cy="613.8" r="2.15" fill="#dc8cf2"/>
<circle cx="62.4" cy="614.6" r="2.15" fill="#dc8cf2"/>
<circle cx="61.0" cy="615.4" r="2.15" fill="#dc8cf2"/>
<circle cx="61.3" cy="616.0" r="2.15" fill="#dc8cf2"/>
<circle cx="62.6" cy="616.6" r="2.15" fill="#dc8cf2"/>
<circle cx="62.8" cy="617.3" r="2.15" fill="#dc8cf2"/>
<path d="M61.9,615.9V614.4M60.3,614.4h3.2" stroke="#8e34c4" stroke-width="1"/>
<path d="M67.80,623.20V604.68H73.20V623.20" fill="none" stroke="#3c2f5c" stroke-width="1.2"/>
<circle cx="69.5" cy="599.4" r="2.15" fill="#5e3f9c"/>
<circle cx="70.5" cy="602.1" r="2.15" fill="#5e3f9c"/>
<circle cx="70.3" cy="604.0" r="2.15" fill="#5e3f9c"/>
<circle cx="69.6" cy="604.3" r="2.15" fill="#5e3f9c"/>
<circle cx="69.7" cy="606.0" r="2.15" fill="#5e3f9c"/>
<circle cx="71.4" cy="607.3" r="2.15" fill="#5e3f9c"/>
<path d="M70.5,604.7V601.5M68.9,601.5h3.2" stroke="#3c2f5c" stroke-width="1"/>
<path d="M44.7,565.5V562.0H53.3V565.5" stroke="#444" stroke-width="0.8" fill="none"/>
<path d="M44.30,556.90L44.30,560.30M42.83,557.75L45.77,559.45M42.83,559.45L45.77,557.75M49.00,556.90L49.00,560.30M47.53,557.75L50.47,559.45M47.53,559.45L50.47,557.75M53.70,556.90L53.70,560.30M52.23,557.75L55.17,559.45M52.23,559.45L55.17,557.75" stroke="#444" stroke-width="0.9" fill="none"/>
<path d="M53.3,554.9V551.4H70.5V554.9" stroke="#444" stroke-width="0.8" fill="none"/>
<path d="M57.20,546.50L57.20,549.90M55.73,547.35L58.67,549.05M55.73,549.05L58.67,547.35M61.90,546.50L61.90,549.90M60.43,547.35L63.37,549.05M60.43,549.05L63.37,547.35M66.60,546.50L66.60,549.90M65.13,547.35L68.07,549.05M65.13,549.05L68.07,547.35" stroke="#444" stroke-width="0.9" fill="none"/>
<path d="M98.0,623.2v3" stroke="#333333" stroke-width="1"/>
<text x="98.0" y="634.0" text-anchor="middle" font-size="6.25" font-weight="bold" fill="#222">Spleen</text>
<path d="M82.40,623.20V613.94H87.80V623.20" fill="none" stroke="#3f6cb4" stroke-width="1.2"/>
<circle cx="84.0" cy="611.2" r="2.15" fill="#7ea4dc"/>
<circle cx="85.2" cy="612.6" r="2.15" fill="#7ea4dc"/>
<circle cx="84.2" cy="613.6" r="2.15" fill="#7ea4dc"/>
<circle cx="86.0" cy="613.9" r="2.15" fill="#7ea4dc"/>
<circle cx="84.9" cy="614.8" r="2.15" fill="#7ea4dc"/>
<circle cx="84.2" cy="615.4" r="2.15" fill="#7ea4dc"/>
<path d="M85.1,613.9V612.1M83.5,612.1h3.2" stroke="#3f6cb4" stroke-width="1"/>
<path d="M91.00,623.20V567.62H96.40V623.20" fill="none" stroke="#ff1a1a" stroke-width="1.2"/>
<circle cx="93.0" cy="552.8" r="2.15" fill="#ff1616"/>
<circle cx="94.7" cy="559.3" r="2.15" fill="#ff1616"/>
<circle cx="93.8" cy="565.6" r="2.15" fill="#ff1616"/>
<circle cx="92.9" cy="567.3" r="2.15" fill="#ff1616"/>
<circle cx="94.8" cy="572.5" r="2.15" fill="#ff1616"/>
<circle cx="92.9" cy="574.2" r="2.15" fill="#ff1616"/>
<path d="M93.7,567.6V558.2M92.1,558.2h3.2" stroke="#ff1a1a" stroke-width="1"/>
<path d="M99.60,623.20V614.91H105.00V623.20" fill="none" stroke="#8e34c4" stroke-width="1.2"/>
<circle cx="103.3" cy="612.2" r="2.15" fill="#dc8cf2"/>
<circle cx="102.5" cy="613.6" r="2.15" fill="#dc8cf2"/>
<circle cx="102.0" cy="614.6" r="2.15" fill="#dc8cf2"/>
<circle cx="102.5" cy="614.8" r="2.15" fill="#dc8cf2"/>
<circle cx="101.4" cy="615.5" r="2.15" fill="#dc8cf2"/>
<circle cx="103.1" cy="616.4" r="2.15" fill="#dc8cf2"/>
<path d="M102.3,614.9V613.3M100.7,613.3h3.2" stroke="#8e34c4" stroke-width="1"/>
<path d="M108.20,623.20V600.78H113.60V623.20" fill="none" stroke="#3c2f5c" stroke-width="1.2"/>
<circle cx="110.8" cy="594.8" r="2.15" fill="#5e3f9c"/>
<circle cx="112.0" cy="597.6" r="2.15" fill="#5e3f9c"/>
<circle cx="109.8" cy="599.4" r="2.15" fill="#5e3f9c"/>
<circle cx="110.5" cy="600.4" r="2.15" fill="#5e3f9c"/>
<circle cx="110.3" cy="602.6" r="2.15" fill="#5e3f9c"/>
<circle cx="110.5" cy="604.1" r="2.15" fill="#5e3f9c"/>
<path d="M110.9,600.8V597.0M109.3,597.0h3.2" stroke="#3c2f5c" stroke-width="1"/>
<path d="M85.1,544.9V541.4H93.7V544.9" stroke="#444" stroke-width="0.8" fill="none"/>
<path d="M84.70,536.30L84.70,539.70M83.23,537.15L86.17,538.85M83.23,538.85L86.17,537.15M89.40,536.30L89.40,539.70M87.93,537.15L90.87,538.85M87.93,538.85L90.87,537.15M94.10,536.30L94.10,539.70M92.63,537.15L95.57,538.85M92.63,538.85L95.57,537.15" stroke="#444" stroke-width="0.9" fill="none"/>
<path d="M93.7,532.9V529.4H110.9V532.9" stroke="#444" stroke-width="0.8" fill="none"/>
<path d="M97.60,524.50L97.60,527.90M96.13,525.35L99.07,527.05M96.13,527.05L99.07,525.35M102.30,524.50L102.30,527.90M100.83,525.35L103.77,527.05M100.83,527.05L103.77,525.35M107.00,524.50L107.00,527.90M105.53,525.35L108.47,527.05M105.53,527.05L108.47,525.35" stroke="#444" stroke-width="0.9" fill="none"/>
<path d="M138.4,623.2v3" stroke="#333333" stroke-width="1"/>
<text x="138.4" y="634.0" text-anchor="middle" font-size="6.25" font-weight="bold" fill="#222">BALF</text>
<path d="M122.80,623.20V613.45H128.20V623.20" fill="none" stroke="#3f6cb4" stroke-width="1.2"/>
<circle cx="125.8" cy="610.7" r="2.15" fill="#7ea4dc"/>
<circle cx="126.1" cy="612.0" r="2.15" fill="#7ea4dc"/>
<circle cx="126.1" cy="613.0" r="2.15" fill="#7ea4dc"/>
<circle cx="125.5" cy="613.3" r="2.15" fill="#7ea4dc"/>
<circle cx="124.9" cy="614.2" r="2.15" fill="#7ea4dc"/>
<circle cx="125.3" cy="615.0" r="2.15" fill="#7ea4dc"/>
<path d="M125.5,613.5V611.5M123.9,611.5h3.2" stroke="#3f6cb4" stroke-width="1"/>
<path d="M131.40,623.20V568.60H136.80V623.20" fill="none" stroke="#ff1a1a" stroke-width="1.2"/>
<circle cx="135.1" cy="555.0" r="2.15" fill="#ff1616"/>
<circle cx="133.8" cy="561.0" r="2.15" fill="#ff1616"/>
<circle cx="133.8" cy="564.3" r="2.15" fill="#ff1616"/>
<circle cx="133.4" cy="568.1" r="2.15" fill="#ff1616"/>
<circle cx="133.6" cy="571.8" r="2.15" fill="#ff1616"/>
<circle cx="135.1" cy="577.7" r="2.15" fill="#ff1616"/>
<path d="M134.1,568.6V559.3M132.5,559.3h3.2" stroke="#ff1a1a" stroke-width="1"/>
<path d="M140.00,623.20V614.43H145.40V623.20" fill="none" stroke="#8e34c4" stroke-width="1.2"/>
<circle cx="143.7" cy="611.9" r="2.15" fill="#dc8cf2"/>
<circle cx="142.9" cy="612.7" r="2.15" fill="#dc8cf2"/>
<circle cx="141.7" cy="614.1" r="2.15" fill="#dc8cf2"/>
<circle cx="142.5" cy="614.6" r="2.15" fill="#dc8cf2"/>
<circle cx="143.7" cy="615.2" r="2.15" fill="#dc8cf2"/>
<circle cx="141.9" cy="616.0" r="2.15" fill="#dc8cf2"/>
<path d="M142.7,614.4V612.7M141.1,612.7h3.2" stroke="#8e34c4" stroke-width="1"/>
<path d="M148.60,623.20V600.78H154.00V623.20" fill="none" stroke="#3c2f5c" stroke-width="1.2"/>
<circle cx="150.5" cy="594.8" r="2.15" fill="#5e3f9c"/>
<circle cx="151.4" cy="598.0" r="2.15" fill="#5e3f9c"/>
<circle cx="150.3" cy="599.2" r="2.15" fill="#5e3f9c"/>
<circle cx="151.7" cy="600.8" r="2.15" fill="#5e3f9c"/>
<circle cx="151.0" cy="602.2" r="2.15" fill="#5e3f9c"/>
<circle cx="150.6" cy="603.6" r="2.15" fill="#5e3f9c"/>
<path d="M151.3,600.8V597.0M149.7,597.0h3.2" stroke="#3c2f5c" stroke-width="1"/>
<path d="M125.5,548.2V544.7H134.1V548.2" stroke="#444" stroke-width="0.8" fill="none"/>
<path d="M125.10,539.60L125.10,543.00M123.63,540.45L126.57,542.15M123.63,542.15L126.57,540.45M129.80,539.60L129.80,543.00M128.33,540.45L131.27,542.15M128.33,542.15L131.27,540.45M134.50,539.60L134.50,543.00M133.03,540.45L135.97,542.15M133.03,542.15L135.97,540.45" stroke="#444" stroke-width="0.9" fill="none"/>
<path d="M134.1,536.5V533.0H151.3V536.5" stroke="#444" stroke-width="0.8" fill="none"/>
<path d="M138.00,528.10L138.00,531.50M136.53,528.95L139.47,530.65M136.53,530.65L139.47,528.95M142.70,528.10L142.70,531.50M141.23,528.95L144.17,530.65M141.23,530.65L144.17,528.95M147.40,528.10L147.40,531.50M145.93,528.95L148.87,530.65M145.93,530.65L148.87,528.95" stroke="#444" stroke-width="0.9" fill="none"/>
<circle cx="36.0" cy="482.8" r="2.3" fill="#7ea4dc"/>
<text x="47.6" y="485.8" font-size="6.6" fill="#222">Sham<tspan font-size="4.6" dy="-3.0">Control mice</tspan></text>
<circle cx="36.0" cy="494.5" r="2.3" fill="#ff1616"/>
<text x="47.6" y="497.5" font-size="6.6" fill="#222">CLP<tspan font-size="4.6" dy="-3.0">Control mice</tspan></text>
<circle cx="36.0" cy="506.2" r="2.3" fill="#dc8cf2"/>
<text x="47.6" y="509.2" font-size="6.6" fill="#222">Sham<tspan font-size="4.6" dy="-3.0">NAT10-OE</tspan></text>
<circle cx="36.0" cy="517.9" r="2.3" fill="#5e3f9c"/>
<text x="47.6" y="520.9" font-size="6.6" fill="#222">CLP<tspan font-size="4.6" dy="-3.0">NAT10-OE</tspan></text>
<text transform="translate(176.8,573.8) rotate(-90)" text-anchor="middle" font-size="7.55" font-weight="bold" fill="#222">Relative Protein expression</text>
<text transform="translate(185.4,573.8) rotate(-90)" text-anchor="middle" font-size="7.55" font-weight="bold" fill="#222">Caspase 1-p20 versus Pro-Caspase 1</text>
<path d="M199.0,534.0V613.6H318.0" stroke="#333333" stroke-width="1.1" fill="none"/>
<path d="M195.5,613.6H199.0" stroke="#333333" stroke-width="1"/>
<text x="193.8" y="616.1" text-anchor="end" font-size="7" font-weight="bold" fill="#222">0</text>
<path d="M195.5,593.7H199.0" stroke="#333333" stroke-width="1"/>
<text x="193.8" y="596.2" text-anchor="end" font-size="7" font-weight="bold" fill="#222">2</text>
<path d="M195.5,573.8H199.0" stroke="#333333" stroke-width="1"/>
<text x="193.8" y="576.3" text-anchor="end" font-size="7" font-weight="bold" fill="#222">4</text>
<path d="M195.5,553.9H199.0" stroke="#333333" stroke-width="1"/>
<text x="193.8" y="556.4" text-anchor="end" font-size="7" font-weight="bold" fill="#222">6</text>
<path d="M195.5,534.0H199.0" stroke="#333333" stroke-width="1"/>
<text x="193.8" y="536.5" text-anchor="end" font-size="7" font-weight="bold" fill="#222">8</text>
<path d="M218.0,613.6v3" stroke="#333333" stroke-width="1"/>
<text x="218.0" y="624.4" text-anchor="middle" font-size="6.25" font-weight="bold" fill="#222">Blood</text>
<path d="M202.40,613.60V605.14H207.80V613.60" fill="none" stroke="#3f6cb4" stroke-width="1.2"/>
<circle cx="204.9" cy="602.5" r="2.15" fill="#7ea4dc"/>
<circle cx="204.5" cy="603.7" r="2.15" fill="#7ea4dc"/>
<circle cx="205.8" cy="604.4" r="2.15" fill="#7ea4dc"/>
<circle cx="204.4" cy="605.1" r="2.15" fill="#7ea4dc"/>
<circle cx="204.7" cy="605.9" r="2.15" fill="#7ea4dc"/>
<circle cx="206.1" cy="606.7" r="2.15" fill="#7ea4dc"/>
<path d="M205.1,605.1V603.5M203.5,603.5h3.2" stroke="#3f6cb4" stroke-width="1"/>
<path d="M211.00,613.60V566.84H216.40V613.60" fill="none" stroke="#ff1a1a" stroke-width="1.2"/>
<circle cx="212.7" cy="561.9" r="2.15" fill="#ff1616"/>
<circle cx="213.9" cy="561.9" r="2.15" fill="#ff1616"/>
<circle cx="213.2" cy="564.3" r="2.15" fill="#ff1616"/>
<circle cx="213.6" cy="566.4" r="2.15" fill="#ff1616"/>
<circle cx="214.1" cy="570.0" r="2.15" fill="#ff1616"/>
<circle cx="214.3" cy="574.5" r="2.15" fill="#ff1616"/>
<path d="M213.7,566.8V562.9M212.1,562.9h3.2" stroke="#ff1a1a" stroke-width="1"/>
<path d="M219.60,613.60V605.64H225.00V613.60" fill="none" stroke="#8e34c4" stroke-width="1.2"/>
<circle cx="223.3" cy="602.9" r="2.15" fill="#dc8cf2"/>
<circle cx="221.3" cy="604.2" r="2.15" fill="#dc8cf2"/>
<circle cx="221.5" cy="605.3" r="2.15" fill="#dc8cf2"/>
<circle cx="221.9" cy="605.4" r="2.15" fill="#dc8cf2"/>
<circle cx="223.2" cy="606.4" r="2.15" fill="#dc8cf2"/>
<circle cx="222.4" cy="607.1" r="2.15" fill="#dc8cf2"/>
<path d="M222.3,605.6V604.0M220.7,604.0h3.2" stroke="#8e34c4" stroke-width="1"/>
<path d="M228.20,613.60V595.19H233.60V613.60" fill="none" stroke="#3c2f5c" stroke-width="1.2"/>
<circle cx="229.9" cy="590.4" r="2.15" fill="#5e3f9c"/>
<circle cx="231.7" cy="592.5" r="2.15" fill="#5e3f9c"/>
<circle cx="230.3" cy="594.4" r="2.15" fill="#5e3f9c"/>
<circle cx="229.9" cy="595.3" r="2.15" fill="#5e3f9c"/>
<circle cx="231.6" cy="596.6" r="2.15" fill="#5e3f9c"/>
<circle cx="231.0" cy="597.7" r="2.15" fill="#5e3f9c"/>
<path d="M230.9,595.2V592.1M229.3,592.1h3.2" stroke="#3c2f5c" stroke-width="1"/>
<path d="M205.1,558.9V555.4H213.7V558.9" stroke="#444" stroke-width="0.8" fill="none"/>
<path d="M204.70,550.30L204.70,553.70M203.23,551.15L206.17,552.85M203.23,552.85L206.17,551.15M209.40,550.30L209.40,553.70M207.93,551.15L210.87,552.85M207.93,552.85L210.87,551.15M214.10,550.30L214.10,553.70M212.63,551.15L215.57,552.85M212.63,552.85L215.57,551.15" stroke="#444" stroke-width="0.9" fill="none"/>
<path d="M213.7,547.9V544.4H230.9V547.9" stroke="#444" stroke-width="0.8" fill="none"/>
<path d="M217.60,539.50L217.60,542.90M216.13,540.35L219.07,542.05M216.13,542.05L219.07,540.35M222.30,539.50L222.30,542.90M220.83,540.35L223.77,542.05M220.83,542.05L223.77,540.35M227.00,539.50L227.00,542.90M225.53,540.35L228.47,542.05M225.53,542.05L228.47,540.35" stroke="#444" stroke-width="0.9" fill="none"/>
<path d="M258.4,613.6v3" stroke="#333333" stroke-width="1"/>
<text x="258.4" y="624.4" text-anchor="middle" font-size="6.25" font-weight="bold" fill="#222">Spleen</text>
<path d="M242.80,613.60V604.64H248.20V613.60" fill="none" stroke="#3f6cb4" stroke-width="1.2"/>
<circle cx="244.7" cy="601.7" r="2.15" fill="#7ea4dc"/>
<circle cx="245.2" cy="603.1" r="2.15" fill="#7ea4dc"/>
<circle cx="244.6" cy="604.0" r="2.15" fill="#7ea4dc"/>
<circle cx="244.6" cy="604.5" r="2.15" fill="#7ea4dc"/>
<circle cx="246.2" cy="605.6" r="2.15" fill="#7ea4dc"/>
<circle cx="245.4" cy="605.9" r="2.15" fill="#7ea4dc"/>
<path d="M245.5,604.6V602.9M243.9,602.9h3.2" stroke="#3f6cb4" stroke-width="1"/>
<path d="M251.40,613.60V552.90H256.80V613.60" fill="none" stroke="#ff1a1a" stroke-width="1.2"/>
<circle cx="253.5" cy="545.5" r="2.15" fill="#ff1616"/>
<circle cx="254.4" cy="545.5" r="2.15" fill="#ff1616"/>
<circle cx="253.3" cy="550.3" r="2.15" fill="#ff1616"/>
<circle cx="253.4" cy="553.0" r="2.15" fill="#ff1616"/>
<circle cx="254.8" cy="557.1" r="2.15" fill="#ff1616"/>
<circle cx="254.1" cy="560.8" r="2.15" fill="#ff1616"/>
<path d="M254.1,552.9V546.5M252.5,546.5h3.2" stroke="#ff1a1a" stroke-width="1"/>
<path d="M260.00,613.60V601.66H265.40V613.60" fill="none" stroke="#8e34c4" stroke-width="1.2"/>
<circle cx="262.6" cy="598.1" r="2.15" fill="#dc8cf2"/>
<circle cx="263.2" cy="600.0" r="2.15" fill="#dc8cf2"/>
<circle cx="262.3" cy="600.9" r="2.15" fill="#dc8cf2"/>
<circle cx="262.6" cy="602.0" r="2.15" fill="#dc8cf2"/>
<circle cx="262.5" cy="602.7" r="2.15" fill="#dc8cf2"/>
<circle cx="263.1" cy="603.4" r="2.15" fill="#dc8cf2"/>
<path d="M262.7,601.7V599.3M261.1,599.3h3.2" stroke="#8e34c4" stroke-width="1"/>
<path d="M268.60,613.60V586.74H274.00V613.60" fill="none" stroke="#3c2f5c" stroke-width="1.2"/>
<circle cx="271.4" cy="580.0" r="2.15" fill="#5e3f9c"/>
<circle cx="271.3" cy="582.3" r="2.15" fill="#5e3f9c"/>
<circle cx="270.3" cy="585.0" r="2.15" fill="#5e3f9c"/>
<circle cx="271.2" cy="586.7" r="2.15" fill="#5e3f9c"/>
<circle cx="271.1" cy="588.9" r="2.15" fill="#5e3f9c"/>
<circle cx="271.4" cy="590.5" r="2.15" fill="#5e3f9c"/>
<path d="M271.3,586.7V582.2M269.7,582.2h3.2" stroke="#3c2f5c" stroke-width="1"/>
<path d="M245.5,542.5V539.0H254.1V542.5" stroke="#444" stroke-width="0.8" fill="none"/>
<path d="M245.10,533.90L245.10,537.30M243.63,534.75L246.57,536.45M243.63,536.45L246.57,534.75M249.80,533.90L249.80,537.30M248.33,534.75L251.27,536.45M248.33,536.45L251.27,534.75M254.50,533.90L254.50,537.30M253.03,534.75L255.97,536.45M253.03,536.45L255.97,534.75" stroke="#444" stroke-width="0.9" fill="none"/>
<path d="M254.1,531.5V528.0H271.3V531.5" stroke="#444" stroke-width="0.8" fill="none"/>
<path d="M258.00,523.10L258.00,526.50M256.53,523.95L259.47,525.65M256.53,525.65L259.47,523.95M262.70,523.10L262.70,526.50M261.23,523.95L264.17,525.65M261.23,525.65L264.17,523.95M267.40,523.10L267.40,526.50M265.93,523.95L268.87,525.65M265.93,525.65L268.87,523.95" stroke="#444" stroke-width="0.9" fill="none"/>
<path d="M298.8,613.6v3" stroke="#333333" stroke-width="1"/>
<text x="298.8" y="624.4" text-anchor="middle" font-size="6.25" font-weight="bold" fill="#222">BALF</text>
<path d="M283.20,613.60V604.15H288.60V613.60" fill="none" stroke="#3f6cb4" stroke-width="1.2"/>
<circle cx="285.2" cy="601.2" r="2.15" fill="#7ea4dc"/>
<circle cx="286.9" cy="602.6" r="2.15" fill="#7ea4dc"/>
<circle cx="284.9" cy="603.5" r="2.15" fill="#7ea4dc"/>
<circle cx="286.0" cy="604.4" r="2.15" fill="#7ea4dc"/>
<circle cx="285.0" cy="605.3" r="2.15" fill="#7ea4dc"/>
<circle cx="285.8" cy="606.0" r="2.15" fill="#7ea4dc"/>
<path d="M285.9,604.1V602.3M284.3,602.3h3.2" stroke="#3f6cb4" stroke-width="1"/>
<path d="M291.80,613.60V548.93H297.20V613.60" fill="none" stroke="#ff1a1a" stroke-width="1.2"/>
<circle cx="294.5" cy="539.1" r="2.15" fill="#ff1616"/>
<circle cx="294.4" cy="539.7" r="2.15" fill="#ff1616"/>
<circle cx="294.4" cy="545.1" r="2.15" fill="#ff1616"/>
<circle cx="295.4" cy="548.2" r="2.15" fill="#ff1616"/>
<circle cx="294.3" cy="553.2" r="2.15" fill="#ff1616"/>
<circle cx="295.4" cy="557.8" r="2.15" fill="#ff1616"/>
<path d="M294.5,548.9V540.1M292.9,540.1h3.2" stroke="#ff1a1a" stroke-width="1"/>
<path d="M300.40,613.60V602.65H305.80V613.60" fill="none" stroke="#8e34c4" stroke-width="1.2"/>
<circle cx="302.5" cy="599.5" r="2.15" fill="#dc8cf2"/>
<circle cx="303.5" cy="600.7" r="2.15" fill="#dc8cf2"/>
<circle cx="303.3" cy="601.8" r="2.15" fill="#dc8cf2"/>
<circle cx="303.1" cy="602.4" r="2.15" fill="#dc8cf2"/>
<circle cx="304.1" cy="603.4" r="2.15" fill="#dc8cf2"/>
<circle cx="303.9" cy="604.6" r="2.15" fill="#dc8cf2"/>
<path d="M303.1,602.7V600.5M301.5,600.5h3.2" stroke="#8e34c4" stroke-width="1"/>
<path d="M309.00,613.60V585.74H314.40V613.60" fill="none" stroke="#3c2f5c" stroke-width="1.2"/>
<circle cx="312.6" cy="578.1" r="2.15" fill="#5e3f9c"/>
<circle cx="312.6" cy="582.4" r="2.15" fill="#5e3f9c"/>
<circle cx="312.7" cy="583.7" r="2.15" fill="#5e3f9c"/>
<circle cx="311.2" cy="585.1" r="2.15" fill="#5e3f9c"/>
<circle cx="310.9" cy="587.6" r="2.15" fill="#5e3f9c"/>
<circle cx="312.6" cy="589.6" r="2.15" fill="#5e3f9c"/>
<path d="M311.7,585.7V581.0M310.1,581.0h3.2" stroke="#3c2f5c" stroke-width="1"/>
<path d="M285.9,536.1V532.6H294.5V536.1" stroke="#444" stroke-width="0.8" fill="none"/>
<path d="M285.50,527.50L285.50,530.90M284.03,528.35L286.97,530.05M284.03,530.05L286.97,528.35M290.20,527.50L290.20,530.90M288.73,528.35L291.67,530.05M288.73,530.05L291.67,528.35M294.90,527.50L294.90,530.90M293.43,528.35L296.37,530.05M293.43,530.05L296.37,528.35" stroke="#444" stroke-width="0.9" fill="none"/>
<path d="M294.5,524.4V520.9H311.7V524.4" stroke="#444" stroke-width="0.8" fill="none"/>
<path d="M298.40,516.00L298.40,519.40M296.93,516.85L299.87,518.55M296.93,518.55L299.87,516.85M303.10,516.00L303.10,519.40M301.63,516.85L304.57,518.55M301.63,518.55L304.57,516.85M307.80,516.00L307.80,519.40M306.33,516.85L309.27,518.55M306.33,518.55L309.27,516.85" stroke="#444" stroke-width="0.9" fill="none"/>
<circle cx="197.0" cy="472.8" r="2.3" fill="#7ea4dc"/>
<text x="208.0" y="475.8" font-size="6.6" fill="#222">Sham<tspan font-size="4.6" dy="-3.0">Control mice</tspan></text>
<circle cx="197.0" cy="484.5" r="2.3" fill="#ff1616"/>
<text x="208.0" y="487.5" font-size="6.6" fill="#222">CLP<tspan font-size="4.6" dy="-3.0">Control mice</tspan></text>
<circle cx="197.0" cy="496.2" r="2.3" fill="#dc8cf2"/>
<text x="208.0" y="499.2" font-size="6.6" fill="#222">Sham<tspan font-size="4.6" dy="-3.0">NAT10-OE</tspan></text>
<circle cx="197.0" cy="507.9" r="2.3" fill="#5e3f9c"/>
<text x="208.0" y="510.9" font-size="6.6" fill="#222">CLP<tspan font-size="4.6" dy="-3.0">NAT10-OE</tspan></text>
<text transform="translate(349.9,580.0) rotate(-90)" text-anchor="middle" font-size="7.55" font-weight="bold" fill="#222">Relative Protein expression</text>
<text transform="translate(359.4,580.0) rotate(-90)" text-anchor="middle" font-size="7.55" font-weight="bold" fill="#222">IL-1β versus Pro-IL-1β</text>
<path d="M373.4,540.2V619.8H491.6" stroke="#333333" stroke-width="1.1" fill="none"/>
<path d="M369.9,619.8H373.4" stroke="#333333" stroke-width="1"/>
<text x="368.2" y="622.3" text-anchor="end" font-size="7" font-weight="bold" fill="#222">0</text>
<path d="M369.9,599.9H373.4" stroke="#333333" stroke-width="1"/>
<text x="368.2" y="602.4" text-anchor="end" font-size="7" font-weight="bold" fill="#222">2</text>
<path d="M369.9,580.0H373.4" stroke="#333333" stroke-width="1"/>
<text x="368.2" y="582.5" text-anchor="end" font-size="7" font-weight="bold" fill="#222">4</text>
<path d="M369.9,560.1H373.4" stroke="#333333" stroke-width="1"/>
<text x="368.2" y="562.6" text-anchor="end" font-size="7" font-weight="bold" fill="#222">6</text>
<path d="M369.9,540.2H373.4" stroke="#333333" stroke-width="1"/>
<text x="368.2" y="542.7" text-anchor="end" font-size="7" font-weight="bold" fill="#222">8</text>
<path d="M391.6,619.8v3" stroke="#333333" stroke-width="1"/>
<text x="391.6" y="630.6" text-anchor="middle" font-size="6.25" font-weight="bold" fill="#222">Blood</text>
<path d="M376.00,619.80V610.35H381.40V619.80" fill="none" stroke="#3f6cb4" stroke-width="1.2"/>
<circle cx="378.8" cy="607.4" r="2.15" fill="#7ea4dc"/>
<circle cx="378.6" cy="608.5" r="2.15" fill="#7ea4dc"/>
<circle cx="378.9" cy="609.7" r="2.15" fill="#7ea4dc"/>
<circle cx="378.7" cy="610.5" r="2.15" fill="#7ea4dc"/>
<circle cx="379.3" cy="611.1" r="2.15" fill="#7ea4dc"/>
<circle cx="378.3" cy="612.2" r="2.15" fill="#7ea4dc"/>
<path d="M378.7,610.3V608.5M377.1,608.5h3.2" stroke="#3f6cb4" stroke-width="1"/>
<path d="M384.60,619.80V561.09H390.00V619.80" fill="none" stroke="#ff1a1a" stroke-width="1.2"/>
<circle cx="388.0" cy="546.9" r="2.15" fill="#ff1616"/>
<circle cx="386.3" cy="552.0" r="2.15" fill="#ff1616"/>
<circle cx="388.3" cy="556.2" r="2.15" fill="#ff1616"/>
<circle cx="387.6" cy="560.6" r="2.15" fill="#ff1616"/>
<circle cx="386.2" cy="566.6" r="2.15" fill="#ff1616"/>
<circle cx="386.3" cy="569.5" r="2.15" fill="#ff1616"/>
<path d="M387.3,561.1V551.1M385.7,551.1h3.2" stroke="#ff1a1a" stroke-width="1"/>
<path d="M393.20,619.80V609.85H398.60V619.80" fill="none" stroke="#8e34c4" stroke-width="1.2"/>
<circle cx="395.3" cy="607.0" r="2.15" fill="#dc8cf2"/>
<circle cx="395.8" cy="608.4" r="2.15" fill="#dc8cf2"/>
<circle cx="396.7" cy="609.2" r="2.15" fill="#dc8cf2"/>
<circle cx="396.2" cy="609.8" r="2.15" fill="#dc8cf2"/>
<circle cx="396.3" cy="610.7" r="2.15" fill="#dc8cf2"/>
<circle cx="395.4" cy="611.6" r="2.15" fill="#dc8cf2"/>
<path d="M395.9,609.8V607.9M394.3,607.9h3.2" stroke="#8e34c4" stroke-width="1"/>
<path d="M401.80,619.80V594.43H407.20V619.80" fill="none" stroke="#3c2f5c" stroke-width="1.2"/>
<circle cx="405.6" cy="587.1" r="2.15" fill="#5e3f9c"/>
<circle cx="405.0" cy="590.3" r="2.15" fill="#5e3f9c"/>
<circle cx="403.9" cy="593.2" r="2.15" fill="#5e3f9c"/>
<circle cx="403.6" cy="594.7" r="2.15" fill="#5e3f9c"/>
<circle cx="404.3" cy="596.0" r="2.15" fill="#5e3f9c"/>
<circle cx="404.3" cy="597.6" r="2.15" fill="#5e3f9c"/>
<path d="M404.5,594.4V590.1M402.9,590.1h3.2" stroke="#3c2f5c" stroke-width="1"/>
<path d="M378.7,543.5V540.0H387.3V543.5" stroke="#444" stroke-width="0.8" fill="none"/>
<path d="M378.30,534.90L378.30,538.30M376.83,535.75L379.77,537.45M376.83,537.45L379.77,535.75M383.00,534.90L383.00,538.30M381.53,535.75L384.47,537.45M381.53,537.45L384.47,535.75M387.70,534.90L387.70,538.30M386.23,535.75L389.17,537.45M386.23,537.45L389.17,535.75" stroke="#444" stroke-width="0.9" fill="none"/>
<path d="M387.3,533.5V530.0H404.5V533.5" stroke="#444" stroke-width="0.8" fill="none"/>
<path d="M391.20,525.10L391.20,528.50M389.73,525.95L392.67,527.65M389.73,527.65L392.67,525.95M395.90,525.10L395.90,528.50M394.43,525.95L397.37,527.65M394.43,527.65L397.37,525.95M400.60,525.10L400.60,528.50M399.13,525.95L402.07,527.65M399.13,527.65L402.07,525.95" stroke="#444" stroke-width="0.9" fill="none"/>
<path d="M432.0,619.8v3" stroke="#333333" stroke-width="1"/>
<text x="432.0" y="630.6" text-anchor="middle" font-size="6.25" font-weight="bold" fill="#222">Spleen</text>
<path d="M416.40,619.80V610.84H421.80V619.80" fill="none" stroke="#3f6cb4" stroke-width="1.2"/>
<circle cx="419.9" cy="607.8" r="2.15" fill="#7ea4dc"/>
<circle cx="418.5" cy="609.6" r="2.15" fill="#7ea4dc"/>
<circle cx="419.0" cy="610.0" r="2.15" fill="#7ea4dc"/>
<circle cx="418.9" cy="610.6" r="2.15" fill="#7ea4dc"/>
<circle cx="419.4" cy="611.9" r="2.15" fill="#7ea4dc"/>
<circle cx="418.6" cy="612.2" r="2.15" fill="#7ea4dc"/>
<path d="M419.1,610.8V609.1M417.5,609.1h3.2" stroke="#3f6cb4" stroke-width="1"/>
<path d="M425.00,619.80V567.06H430.40V619.80" fill="none" stroke="#ff1a1a" stroke-width="1.2"/>
<circle cx="427.3" cy="554.3" r="2.15" fill="#ff1616"/>
<circle cx="428.3" cy="558.2" r="2.15" fill="#ff1616"/>
<circle cx="427.1" cy="565.0" r="2.15" fill="#ff1616"/>
<circle cx="426.7" cy="568.1" r="2.15" fill="#ff1616"/>
<circle cx="427.0" cy="570.3" r="2.15" fill="#ff1616"/>
<circle cx="427.6" cy="574.5" r="2.15" fill="#ff1616"/>
<path d="M427.7,567.1V558.1M426.1,558.1h3.2" stroke="#ff1a1a" stroke-width="1"/>
<path d="M433.60,619.80V612.83H439.00V619.80" fill="none" stroke="#8e34c4" stroke-width="1.2"/>
<circle cx="436.8" cy="610.8" r="2.15" fill="#dc8cf2"/>
<circle cx="436.6" cy="611.8" r="2.15" fill="#dc8cf2"/>
<circle cx="436.1" cy="612.5" r="2.15" fill="#dc8cf2"/>
<circle cx="435.8" cy="613.0" r="2.15" fill="#dc8cf2"/>
<circle cx="437.0" cy="613.3" r="2.15" fill="#dc8cf2"/>
<circle cx="437.1" cy="614.1" r="2.15" fill="#dc8cf2"/>
<path d="M436.3,612.8V611.4M434.7,611.4h3.2" stroke="#8e34c4" stroke-width="1"/>
<path d="M442.20,619.80V597.91H447.60V619.80" fill="none" stroke="#3c2f5c" stroke-width="1.2"/>
<circle cx="444.7" cy="592.5" r="2.15" fill="#5e3f9c"/>
<circle cx="445.2" cy="594.4" r="2.15" fill="#5e3f9c"/>
<circle cx="446.0" cy="597.1" r="2.15" fill="#5e3f9c"/>
<circle cx="444.4" cy="598.2" r="2.15" fill="#5e3f9c"/>
<circle cx="444.5" cy="599.3" r="2.15" fill="#5e3f9c"/>
<circle cx="444.0" cy="601.3" r="2.15" fill="#5e3f9c"/>
<path d="M444.9,597.9V594.2M443.3,594.2h3.2" stroke="#3c2f5c" stroke-width="1"/>
<path d="M419.1,543.5V540.0H427.7V543.5" stroke="#444" stroke-width="0.8" fill="none"/>
<path d="M418.70,534.90L418.70,538.30M417.23,535.75L420.17,537.45M417.23,537.45L420.17,535.75M423.40,534.90L423.40,538.30M421.93,535.75L424.87,537.45M421.93,537.45L424.87,535.75M428.10,534.90L428.10,538.30M426.63,535.75L429.57,537.45M426.63,537.45L429.57,535.75" stroke="#444" stroke-width="0.9" fill="none"/>
<path d="M427.7,529.5V526.0H444.9V529.5" stroke="#444" stroke-width="0.8" fill="none"/>
<path d="M431.60,521.10L431.60,524.50M430.13,521.95L433.07,523.65M430.13,523.65L433.07,521.95M436.30,521.10L436.30,524.50M434.83,521.95L437.77,523.65M434.83,523.65L437.77,521.95M441.00,521.10L441.00,524.50M439.53,521.95L442.47,523.65M439.53,523.65L442.47,521.95" stroke="#444" stroke-width="0.9" fill="none"/>
<path d="M472.4,619.8v3" stroke="#333333" stroke-width="1"/>
<text x="472.4" y="630.6" text-anchor="middle" font-size="6.25" font-weight="bold" fill="#222">BALF</text>
<path d="M456.80,619.80V610.84H462.20V619.80" fill="none" stroke="#3f6cb4" stroke-width="1.2"/>
<circle cx="459.7" cy="608.3" r="2.15" fill="#7ea4dc"/>
<circle cx="459.7" cy="609.5" r="2.15" fill="#7ea4dc"/>
<circle cx="459.4" cy="610.3" r="2.15" fill="#7ea4dc"/>
<circle cx="459.5" cy="610.6" r="2.15" fill="#7ea4dc"/>
<circle cx="460.3" cy="611.6" r="2.15" fill="#7ea4dc"/>
<circle cx="458.7" cy="612.5" r="2.15" fill="#7ea4dc"/>
<path d="M459.5,610.8V609.1M457.9,609.1h3.2" stroke="#3f6cb4" stroke-width="1"/>
<path d="M465.40,619.80V556.12H470.80V619.80" fill="none" stroke="#ff1a1a" stroke-width="1.2"/>
<circle cx="468.8" cy="545.1" r="2.15" fill="#ff1616"/>
<circle cx="467.4" cy="547.7" r="2.15" fill="#ff1616"/>
<circle cx="469.1" cy="551.6" r="2.15" fill="#ff1616"/>
<circle cx="469.1" cy="557.1" r="2.15" fill="#ff1616"/>
<circle cx="468.3" cy="559.8" r="2.15" fill="#ff1616"/>
<circle cx="467.2" cy="565.6" r="2.15" fill="#ff1616"/>
<path d="M468.1,556.1V546.1M466.5,546.1h3.2" stroke="#ff1a1a" stroke-width="1"/>
<path d="M474.00,619.80V610.35H479.40V619.80" fill="none" stroke="#8e34c4" stroke-width="1.2"/>
<circle cx="477.7" cy="607.7" r="2.15" fill="#dc8cf2"/>
<circle cx="477.2" cy="608.9" r="2.15" fill="#dc8cf2"/>
<circle cx="477.4" cy="609.8" r="2.15" fill="#dc8cf2"/>
<circle cx="476.2" cy="610.3" r="2.15" fill="#dc8cf2"/>
<circle cx="477.2" cy="611.4" r="2.15" fill="#dc8cf2"/>
<circle cx="476.1" cy="612.2" r="2.15" fill="#dc8cf2"/>
<path d="M476.7,610.3V608.5M475.1,608.5h3.2" stroke="#8e34c4" stroke-width="1"/>
<path d="M482.60,619.80V592.44H488.00V619.80" fill="none" stroke="#3c2f5c" stroke-width="1.2"/>
<circle cx="486.1" cy="585.1" r="2.15" fill="#5e3f9c"/>
<circle cx="484.8" cy="588.3" r="2.15" fill="#5e3f9c"/>
<circle cx="484.6" cy="590.2" r="2.15" fill="#5e3f9c"/>
<circle cx="484.8" cy="593.1" r="2.15" fill="#5e3f9c"/>
<circle cx="484.3" cy="594.6" r="2.15" fill="#5e3f9c"/>
<circle cx="485.0" cy="596.8" r="2.15" fill="#5e3f9c"/>
<path d="M485.3,592.4V587.8M483.7,587.8h3.2" stroke="#3c2f5c" stroke-width="1"/>
<path d="M459.5,542.1V538.6H468.1V542.1" stroke="#444" stroke-width="0.8" fill="none"/>
<path d="M459.10,533.50L459.10,536.90M457.63,534.35L460.57,536.05M457.63,536.05L460.57,534.35M463.80,533.50L463.80,536.90M462.33,534.35L465.27,536.05M462.33,536.05L465.27,534.35M468.50,533.50L468.50,536.90M467.03,534.35L469.97,536.05M467.03,536.05L469.97,534.35" stroke="#444" stroke-width="0.9" fill="none"/>
<path d="M468.1,531.1V527.6H485.3V531.1" stroke="#444" stroke-width="0.8" fill="none"/>
<path d="M472.00,522.70L472.00,526.10M470.53,523.55L473.47,525.25M470.53,525.25L473.47,523.55M476.70,522.70L476.70,526.10M475.23,523.55L478.17,525.25M475.23,525.25L478.17,523.55M481.40,522.70L481.40,526.10M479.93,523.55L482.87,525.25M479.93,525.25L482.87,523.55" stroke="#444" stroke-width="0.9" fill="none"/>
<circle cx="370.6" cy="478.6" r="2.3" fill="#7ea4dc"/>
<text x="382.0" y="481.6" font-size="6.6" fill="#222">Sham<tspan font-size="4.6" dy="-3.0">Control mice</tspan></text>
<circle cx="370.6" cy="490.3" r="2.3" fill="#ff1616"/>
<text x="382.0" y="493.3" font-size="6.6" fill="#222">CLP<tspan font-size="4.6" dy="-3.0">Control mice</tspan></text>
<circle cx="370.6" cy="502.0" r="2.3" fill="#dc8cf2"/>
<text x="382.0" y="505.0" font-size="6.6" fill="#222">Sham<tspan font-size="4.6" dy="-3.0">NAT10-OE</tspan></text>
<circle cx="370.6" cy="513.7" r="2.3" fill="#5e3f9c"/>
<text x="382.0" y="516.7" font-size="6.6" fill="#222">CLP<tspan font-size="4.6" dy="-3.0">NAT10-OE</tspan></text>
<text transform="translate(513.8,581.2) rotate(-90)" text-anchor="middle" font-size="7.55" font-weight="bold" fill="#222">Relative Protein expression</text>
<text transform="translate(521.8,581.2) rotate(-90)" text-anchor="middle" font-size="7.55" font-weight="bold" fill="#222">IL-18 versus Pro-IL-18</text>
<path d="M538.6,541.6V620.8H657.8" stroke="#333333" stroke-width="1.1" fill="none"/>
<path d="M535.1,620.8H538.6" stroke="#333333" stroke-width="1"/>
<text x="533.4" y="623.3" text-anchor="end" font-size="7" font-weight="bold" fill="#222">0</text>
<path d="M535.1,594.4H538.6" stroke="#333333" stroke-width="1"/>
<text x="533.4" y="596.9" text-anchor="end" font-size="7" font-weight="bold" fill="#222">5</text>
<path d="M535.1,568.0H538.6" stroke="#333333" stroke-width="1"/>
<text x="533.4" y="570.5" text-anchor="end" font-size="7" font-weight="bold" fill="#222">10</text>
<path d="M535.1,541.6H538.6" stroke="#333333" stroke-width="1"/>
<text x="533.4" y="544.1" text-anchor="end" font-size="7" font-weight="bold" fill="#222">15</text>
<path d="M557.6,620.8v3" stroke="#333333" stroke-width="1"/>
<text x="557.6" y="631.6" text-anchor="middle" font-size="6.25" font-weight="bold" fill="#222">Blood</text>
<path d="M542.00,620.80V615.52H547.40V620.80" fill="none" stroke="#3f6cb4" stroke-width="1.2"/>
<circle cx="545.0" cy="613.9" r="2.15" fill="#7ea4dc"/>
<circle cx="543.9" cy="614.6" r="2.15" fill="#7ea4dc"/>
<circle cx="544.4" cy="615.3" r="2.15" fill="#7ea4dc"/>
<circle cx="545.4" cy="615.6" r="2.15" fill="#7ea4dc"/>
<circle cx="544.9" cy="615.9" r="2.15" fill="#7ea4dc"/>
<circle cx="545.1" cy="616.4" r="2.15" fill="#7ea4dc"/>
<path d="M544.7,615.5V614.5M543.1,614.5h3.2" stroke="#3f6cb4" stroke-width="1"/>
<path d="M550.60,620.80V582.26H556.00V620.80" fill="none" stroke="#ff1a1a" stroke-width="1.2"/>
<circle cx="553.2" cy="573.5" r="2.15" fill="#ff1616"/>
<circle cx="554.2" cy="577.4" r="2.15" fill="#ff1616"/>
<circle cx="554.0" cy="580.8" r="2.15" fill="#ff1616"/>
<circle cx="553.7" cy="583.1" r="2.15" fill="#ff1616"/>
<circle cx="553.1" cy="585.5" r="2.15" fill="#ff1616"/>
<circle cx="552.2" cy="587.2" r="2.15" fill="#ff1616"/>
<path d="M553.3,582.3V575.7M551.7,575.7h3.2" stroke="#ff1a1a" stroke-width="1"/>
<path d="M559.20,620.80V616.05H564.60V620.80" fill="none" stroke="#8e34c4" stroke-width="1.2"/>
<circle cx="562.8" cy="614.7" r="2.15" fill="#dc8cf2"/>
<circle cx="561.0" cy="615.2" r="2.15" fill="#dc8cf2"/>
<circle cx="562.9" cy="615.6" r="2.15" fill="#dc8cf2"/>
<circle cx="561.7" cy="616.2" r="2.15" fill="#dc8cf2"/>
<circle cx="561.5" cy="616.6" r="2.15" fill="#dc8cf2"/>
<circle cx="561.2" cy="616.8" r="2.15" fill="#dc8cf2"/>
<path d="M561.9,616.0V615.1M560.3,615.1h3.2" stroke="#8e34c4" stroke-width="1"/>
<path d="M567.80,620.80V605.49H573.20V620.80" fill="none" stroke="#3c2f5c" stroke-width="1.2"/>
<circle cx="569.5" cy="601.3" r="2.15" fill="#5e3f9c"/>
<circle cx="571.2" cy="603.5" r="2.15" fill="#5e3f9c"/>
<circle cx="570.3" cy="604.7" r="2.15" fill="#5e3f9c"/>
<circle cx="570.4" cy="605.4" r="2.15" fill="#5e3f9c"/>
<circle cx="569.5" cy="606.7" r="2.15" fill="#5e3f9c"/>
<circle cx="571.5" cy="607.5" r="2.15" fill="#5e3f9c"/>
<path d="M570.5,605.5V602.9M568.9,602.9h3.2" stroke="#3c2f5c" stroke-width="1"/>
<path d="M544.7,570.5V567.0H553.3V570.5" stroke="#444" stroke-width="0.8" fill="none"/>
<path d="M544.30,561.90L544.30,565.30M542.83,562.75L545.77,564.45M542.83,564.45L545.77,562.75M549.00,561.90L549.00,565.30M547.53,562.75L550.47,564.45M547.53,564.45L550.47,562.75M553.70,561.90L553.70,565.30M552.23,562.75L555.17,564.45M552.23,564.45L555.17,562.75" stroke="#444" stroke-width="0.9" fill="none"/>
<path d="M553.3,559.9V556.4H570.5V559.9" stroke="#444" stroke-width="0.8" fill="none"/>
<path d="M557.20,551.50L557.20,554.90M555.73,552.35L558.67,554.05M555.73,554.05L558.67,552.35M561.90,551.50L561.90,554.90M560.43,552.35L563.37,554.05M560.43,554.05L563.37,552.35M566.60,551.50L566.60,554.90M565.13,552.35L568.07,554.05M565.13,554.05L568.07,552.35" stroke="#444" stroke-width="0.9" fill="none"/>
<path d="M598.0,620.8v3" stroke="#333333" stroke-width="1"/>
<text x="598.0" y="631.6" text-anchor="middle" font-size="6.25" font-weight="bold" fill="#222">Spleen</text>
<path d="M582.40,620.80V615.52H587.80V620.80" fill="none" stroke="#3f6cb4" stroke-width="1.2"/>
<circle cx="585.5" cy="613.7" r="2.15" fill="#7ea4dc"/>
<circle cx="584.8" cy="614.7" r="2.15" fill="#7ea4dc"/>
<circle cx="585.5" cy="615.1" r="2.15" fill="#7ea4dc"/>
<circle cx="584.5" cy="615.6" r="2.15" fill="#7ea4dc"/>
<circle cx="585.1" cy="616.0" r="2.15" fill="#7ea4dc"/>
<circle cx="585.1" cy="616.3" r="2.15" fill="#7ea4dc"/>
<path d="M585.1,615.5V614.5M583.5,614.5h3.2" stroke="#3f6cb4" stroke-width="1"/>
<path d="M591.00,620.80V576.45H596.40V620.80" fill="none" stroke="#ff1a1a" stroke-width="1.2"/>
<circle cx="594.4" cy="567.5" r="2.15" fill="#ff1616"/>
<circle cx="593.7" cy="570.2" r="2.15" fill="#ff1616"/>
<circle cx="593.5" cy="574.4" r="2.15" fill="#ff1616"/>
<circle cx="594.3" cy="576.7" r="2.15" fill="#ff1616"/>
<circle cx="593.8" cy="580.7" r="2.15" fill="#ff1616"/>
<circle cx="594.1" cy="583.6" r="2.15" fill="#ff1616"/>
<path d="M593.7,576.4V568.9M592.1,568.9h3.2" stroke="#ff1a1a" stroke-width="1"/>
<path d="M599.60,620.80V613.94H605.00V620.80" fill="none" stroke="#8e34c4" stroke-width="1.2"/>
<circle cx="601.8" cy="612.0" r="2.15" fill="#dc8cf2"/>
<circle cx="602.6" cy="612.8" r="2.15" fill="#dc8cf2"/>
<circle cx="602.2" cy="613.6" r="2.15" fill="#dc8cf2"/>
<circle cx="601.8" cy="614.1" r="2.15" fill="#dc8cf2"/>
<circle cx="603.3" cy="614.6" r="2.15" fill="#dc8cf2"/>
<circle cx="603.3" cy="615.1" r="2.15" fill="#dc8cf2"/>
<path d="M602.3,613.9V612.6M600.7,612.6h3.2" stroke="#8e34c4" stroke-width="1"/>
<path d="M608.20,620.80V603.90H613.60V620.80" fill="none" stroke="#3c2f5c" stroke-width="1.2"/>
<circle cx="611.8" cy="599.7" r="2.15" fill="#5e3f9c"/>
<circle cx="610.2" cy="601.6" r="2.15" fill="#5e3f9c"/>
<circle cx="611.8" cy="602.7" r="2.15" fill="#5e3f9c"/>
<circle cx="610.4" cy="604.3" r="2.15" fill="#5e3f9c"/>
<circle cx="610.6" cy="605.0" r="2.15" fill="#5e3f9c"/>
<circle cx="609.8" cy="606.6" r="2.15" fill="#5e3f9c"/>
<path d="M610.9,603.9V601.0M609.3,601.0h3.2" stroke="#3c2f5c" stroke-width="1"/>
<path d="M585.1,564.5V561.0H593.7V564.5" stroke="#444" stroke-width="0.8" fill="none"/>
<path d="M584.70,555.90L584.70,559.30M583.23,556.75L586.17,558.45M583.23,558.45L586.17,556.75M589.40,555.90L589.40,559.30M587.93,556.75L590.87,558.45M587.93,558.45L590.87,556.75M594.10,555.90L594.10,559.30M592.63,556.75L595.57,558.45M592.63,558.45L595.57,556.75" stroke="#444" stroke-width="0.9" fill="none"/>
<path d="M593.7,553.5V550.0H610.9V553.5" stroke="#444" stroke-width="0.8" fill="none"/>
<path d="M597.60,545.10L597.60,548.50M596.13,545.95L599.07,547.65M596.13,547.65L599.07,545.95M602.30,545.10L602.30,548.50M600.83,545.95L603.77,547.65M600.83,547.65L603.77,545.95M607.00,545.10L607.00,548.50M605.53,545.95L608.47,547.65M605.53,547.65L608.47,545.95" stroke="#444" stroke-width="0.9" fill="none"/>
<path d="M638.6,620.8v3" stroke="#333333" stroke-width="1"/>
<text x="638.6" y="631.6" text-anchor="middle" font-size="6.25" font-weight="bold" fill="#222">BALF</text>
<path d="M623.00,620.80V615.52H628.40V620.80" fill="none" stroke="#3f6cb4" stroke-width="1.2"/>
<circle cx="626.0" cy="614.0" r="2.15" fill="#7ea4dc"/>
<circle cx="626.8" cy="614.5" r="2.15" fill="#7ea4dc"/>
<circle cx="624.7" cy="615.1" r="2.15" fill="#7ea4dc"/>
<circle cx="626.3" cy="615.6" r="2.15" fill="#7ea4dc"/>
<circle cx="626.0" cy="615.9" r="2.15" fill="#7ea4dc"/>
<circle cx="625.8" cy="616.5" r="2.15" fill="#7ea4dc"/>
<path d="M625.7,615.5V614.5M624.1,614.5h3.2" stroke="#3f6cb4" stroke-width="1"/>
<path d="M631.60,620.80V576.98H637.00V620.80" fill="none" stroke="#ff1a1a" stroke-width="1.2"/>
<circle cx="634.6" cy="568.1" r="2.15" fill="#ff1616"/>
<circle cx="635.3" cy="571.2" r="2.15" fill="#ff1616"/>
<circle cx="633.6" cy="573.5" r="2.15" fill="#ff1616"/>
<circle cx="635.1" cy="577.4" r="2.15" fill="#ff1616"/>
<circle cx="635.3" cy="580.8" r="2.15" fill="#ff1616"/>
<circle cx="634.7" cy="583.3" r="2.15" fill="#ff1616"/>
<path d="M634.3,577.0V569.5M632.7,569.5h3.2" stroke="#ff1a1a" stroke-width="1"/>
<path d="M640.20,620.80V613.94H645.60V620.80" fill="none" stroke="#8e34c4" stroke-width="1.2"/>
<circle cx="642.3" cy="611.7" r="2.15" fill="#dc8cf2"/>
<circle cx="642.4" cy="612.9" r="2.15" fill="#dc8cf2"/>
<circle cx="643.3" cy="613.4" r="2.15" fill="#dc8cf2"/>
<circle cx="643.8" cy="614.1" r="2.15" fill="#dc8cf2"/>
<circle cx="642.3" cy="614.6" r="2.15" fill="#dc8cf2"/>
<circle cx="644.0" cy="615.1" r="2.15" fill="#dc8cf2"/>
<path d="M642.9,613.9V612.6M641.3,612.6h3.2" stroke="#8e34c4" stroke-width="1"/>
<path d="M648.80,620.80V600.21H654.20V620.80" fill="none" stroke="#3c2f5c" stroke-width="1.2"/>
<circle cx="651.8" cy="594.7" r="2.15" fill="#5e3f9c"/>
<circle cx="652.5" cy="596.8" r="2.15" fill="#5e3f9c"/>
<circle cx="651.3" cy="598.7" r="2.15" fill="#5e3f9c"/>
<circle cx="652.4" cy="600.1" r="2.15" fill="#5e3f9c"/>
<circle cx="651.7" cy="601.5" r="2.15" fill="#5e3f9c"/>
<circle cx="651.2" cy="603.3" r="2.15" fill="#5e3f9c"/>
<path d="M651.5,600.2V596.7M649.9,596.7h3.2" stroke="#3c2f5c" stroke-width="1"/>
<path d="M625.7,565.1V561.6H634.3V565.1" stroke="#444" stroke-width="0.8" fill="none"/>
<path d="M625.30,556.50L625.30,559.90M623.83,557.35L626.77,559.05M623.83,559.05L626.77,557.35M630.00,556.50L630.00,559.90M628.53,557.35L631.47,559.05M628.53,559.05L631.47,557.35M634.70,556.50L634.70,559.90M633.23,557.35L636.17,559.05M633.23,559.05L636.17,557.35" stroke="#444" stroke-width="0.9" fill="none"/>
<path d="M634.3,550.5V547.0H651.5V550.5" stroke="#444" stroke-width="0.8" fill="none"/>
<path d="M638.20,542.10L638.20,545.50M636.73,542.95L639.67,544.65M636.73,544.65L639.67,542.95M642.90,542.10L642.90,545.50M641.43,542.95L644.37,544.65M641.43,544.65L644.37,542.95M647.60,542.10L647.60,545.50M646.13,542.95L649.07,544.65M646.13,544.65L649.07,542.95" stroke="#444" stroke-width="0.9" fill="none"/>
<circle cx="536.6" cy="479.6" r="2.3" fill="#7ea4dc"/>
<text x="548.0" y="482.6" font-size="6.6" fill="#222">Sham<tspan font-size="4.6" dy="-3.0">Control mice</tspan></text>
<circle cx="536.6" cy="491.3" r="2.3" fill="#ff1616"/>
<text x="548.0" y="494.3" font-size="6.6" fill="#222">CLP<tspan font-size="4.6" dy="-3.0">Control mice</tspan></text>
<circle cx="536.6" cy="503.0" r="2.3" fill="#dc8cf2"/>
<text x="548.0" y="506.0" font-size="6.6" fill="#222">Sham<tspan font-size="4.6" dy="-3.0">NAT10-OE</tspan></text>
<circle cx="536.6" cy="514.7" r="2.3" fill="#5e3f9c"/>
<text x="548.0" y="517.7" font-size="6.6" fill="#222">CLP<tspan font-size="4.6" dy="-3.0">NAT10-OE</tspan></text>
<text transform="translate(35.0,772.0) rotate(-90)" text-anchor="middle" font-size="7.4" font-weight="bold" fill="#222">Relative Caspase 1 activity</text>
<path d="M49.0,732.4V811.6H167.8" stroke="#333333" stroke-width="1.1" fill="none"/>
<path d="M45.5,811.6H49.0" stroke="#333333" stroke-width="1"/>
<text x="43.8" y="814.1" text-anchor="end" font-size="7" font-weight="bold" fill="#222">0</text>
<path d="M45.5,785.2H49.0" stroke="#333333" stroke-width="1"/>
<text x="43.8" y="787.7" text-anchor="end" font-size="7" font-weight="bold" fill="#222">2</text>
<path d="M45.5,758.8H49.0" stroke="#333333" stroke-width="1"/>
<text x="43.8" y="761.3" text-anchor="end" font-size="7" font-weight="bold" fill="#222">4</text>
<path d="M45.5,732.4H49.0" stroke="#333333" stroke-width="1"/>
<text x="43.8" y="734.9" text-anchor="end" font-size="7" font-weight="bold" fill="#222">6</text>
<path d="M67.8,811.6v3" stroke="#333333" stroke-width="1"/>
<text x="67.8" y="822.0" text-anchor="middle" font-size="6.25" font-weight="bold" fill="#222">Blood</text>
<path d="M52.20,811.60V798.40H57.60V811.60" fill="none" stroke="#3f6cb4" stroke-width="1.2"/>
<circle cx="55.3" cy="794.5" r="2.15" fill="#7ea4dc"/>
<circle cx="55.7" cy="796.0" r="2.15" fill="#7ea4dc"/>
<circle cx="54.3" cy="797.7" r="2.15" fill="#7ea4dc"/>
<circle cx="54.3" cy="798.7" r="2.15" fill="#7ea4dc"/>
<circle cx="54.1" cy="799.4" r="2.15" fill="#7ea4dc"/>
<circle cx="54.3" cy="800.6" r="2.15" fill="#7ea4dc"/>
<path d="M54.9,798.4V795.8M53.3,795.8h3.2" stroke="#3f6cb4" stroke-width="1"/>
<path d="M60.80,811.60V764.08H66.20V811.60" fill="none" stroke="#ff1a1a" stroke-width="1.2"/>
<circle cx="63.3" cy="755.9" r="2.15" fill="#ff1616"/>
<circle cx="63.7" cy="756.4" r="2.15" fill="#ff1616"/>
<circle cx="63.0" cy="762.4" r="2.15" fill="#ff1616"/>
<circle cx="64.3" cy="764.9" r="2.15" fill="#ff1616"/>
<circle cx="64.2" cy="767.0" r="2.15" fill="#ff1616"/>
<circle cx="64.0" cy="770.2" r="2.15" fill="#ff1616"/>
<path d="M63.5,764.1V756.9M61.9,756.9h3.2" stroke="#ff1a1a" stroke-width="1"/>
<path d="M69.40,811.60V801.04H74.80V811.60" fill="none" stroke="#8e34c4" stroke-width="1.2"/>
<circle cx="72.7" cy="797.5" r="2.15" fill="#dc8cf2"/>
<circle cx="72.9" cy="799.4" r="2.15" fill="#dc8cf2"/>
<circle cx="72.7" cy="800.3" r="2.15" fill="#dc8cf2"/>
<circle cx="71.9" cy="801.0" r="2.15" fill="#dc8cf2"/>
<circle cx="71.9" cy="802.1" r="2.15" fill="#dc8cf2"/>
<circle cx="71.3" cy="803.0" r="2.15" fill="#dc8cf2"/>
<path d="M72.1,801.0V798.9M70.5,798.9h3.2" stroke="#8e34c4" stroke-width="1"/>
<path d="M78.00,811.60V786.52H83.40V811.60" fill="none" stroke="#3c2f5c" stroke-width="1.2"/>
<circle cx="81.4" cy="779.5" r="2.15" fill="#5e3f9c"/>
<circle cx="81.1" cy="782.3" r="2.15" fill="#5e3f9c"/>
<circle cx="81.2" cy="785.0" r="2.15" fill="#5e3f9c"/>
<circle cx="81.1" cy="787.0" r="2.15" fill="#5e3f9c"/>
<circle cx="80.0" cy="788.5" r="2.15" fill="#5e3f9c"/>
<circle cx="80.7" cy="790.5" r="2.15" fill="#5e3f9c"/>
<path d="M80.7,786.5V782.3M79.1,782.3h3.2" stroke="#3c2f5c" stroke-width="1"/>
<path d="M54.9,752.9V749.4H63.5V752.9" stroke="#444" stroke-width="0.8" fill="none"/>
<path d="M54.50,744.30L54.50,747.70M53.03,745.15L55.97,746.85M53.03,746.85L55.97,745.15M59.20,744.30L59.20,747.70M57.73,745.15L60.67,746.85M57.73,746.85L60.67,745.15M63.90,744.30L63.90,747.70M62.43,745.15L65.37,746.85M62.43,746.85L65.37,745.15" stroke="#444" stroke-width="0.9" fill="none"/>
<path d="M63.5,742.5V739.0H80.7V742.5" stroke="#444" stroke-width="0.8" fill="none"/>
<path d="M67.40,734.10L67.40,737.50M65.93,734.95L68.87,736.65M65.93,736.65L68.87,734.95M72.10,734.10L72.10,737.50M70.63,734.95L73.57,736.65M70.63,736.65L73.57,734.95M76.80,734.10L76.80,737.50M75.33,734.95L78.27,736.65M75.33,736.65L78.27,734.95" stroke="#444" stroke-width="0.9" fill="none"/>
<path d="M108.2,811.6v3" stroke="#333333" stroke-width="1"/>
<text x="108.2" y="822.0" text-anchor="middle" font-size="6.25" font-weight="bold" fill="#222">Spleen</text>
<path d="M92.60,811.60V799.72H98.00V811.60" fill="none" stroke="#3f6cb4" stroke-width="1.2"/>
<circle cx="95.2" cy="796.2" r="2.15" fill="#7ea4dc"/>
<circle cx="95.1" cy="797.6" r="2.15" fill="#7ea4dc"/>
<circle cx="95.3" cy="799.2" r="2.15" fill="#7ea4dc"/>
<circle cx="94.7" cy="799.9" r="2.15" fill="#7ea4dc"/>
<circle cx="95.0" cy="801.0" r="2.15" fill="#7ea4dc"/>
<circle cx="95.6" cy="802.0" r="2.15" fill="#7ea4dc"/>
<path d="M95.3,799.7V797.3M93.7,797.3h3.2" stroke="#3f6cb4" stroke-width="1"/>
<path d="M101.20,811.60V757.48H106.60V811.60" fill="none" stroke="#ff1a1a" stroke-width="1.2"/>
<circle cx="103.7" cy="749.9" r="2.15" fill="#ff1616"/>
<circle cx="104.9" cy="749.9" r="2.15" fill="#ff1616"/>
<circle cx="103.1" cy="755.5" r="2.15" fill="#ff1616"/>
<circle cx="104.6" cy="756.6" r="2.15" fill="#ff1616"/>
<circle cx="103.2" cy="761.2" r="2.15" fill="#ff1616"/>
<circle cx="104.7" cy="765.5" r="2.15" fill="#ff1616"/>
<path d="M103.9,757.5V750.9M102.3,750.9h3.2" stroke="#ff1a1a" stroke-width="1"/>
<path d="M109.80,811.60V798.40H115.20V811.60" fill="none" stroke="#8e34c4" stroke-width="1.2"/>
<circle cx="113.2" cy="794.0" r="2.15" fill="#dc8cf2"/>
<circle cx="113.3" cy="796.4" r="2.15" fill="#dc8cf2"/>
<circle cx="113.0" cy="797.6" r="2.15" fill="#dc8cf2"/>
<circle cx="113.5" cy="798.7" r="2.15" fill="#dc8cf2"/>
<circle cx="113.0" cy="799.5" r="2.15" fill="#dc8cf2"/>
<circle cx="112.8" cy="800.9" r="2.15" fill="#dc8cf2"/>
<path d="M112.5,798.4V795.8M110.9,795.8h3.2" stroke="#8e34c4" stroke-width="1"/>
<path d="M118.40,811.60V785.86H123.80V811.60" fill="none" stroke="#3c2f5c" stroke-width="1.2"/>
<circle cx="121.3" cy="779.0" r="2.15" fill="#5e3f9c"/>
<circle cx="121.6" cy="782.3" r="2.15" fill="#5e3f9c"/>
<circle cx="120.6" cy="784.5" r="2.15" fill="#5e3f9c"/>
<circle cx="121.5" cy="786.3" r="2.15" fill="#5e3f9c"/>
<circle cx="120.5" cy="788.3" r="2.15" fill="#5e3f9c"/>
<circle cx="121.4" cy="790.1" r="2.15" fill="#5e3f9c"/>
<path d="M121.1,785.9V781.5M119.5,781.5h3.2" stroke="#3c2f5c" stroke-width="1"/>
<path d="M95.3,746.9V743.4H103.9V746.9" stroke="#444" stroke-width="0.8" fill="none"/>
<path d="M94.90,738.30L94.90,741.70M93.43,739.15L96.37,740.85M93.43,740.85L96.37,739.15M99.60,738.30L99.60,741.70M98.13,739.15L101.07,740.85M98.13,740.85L101.07,739.15M104.30,738.30L104.30,741.70M102.83,739.15L105.77,740.85M102.83,740.85L105.77,739.15" stroke="#444" stroke-width="0.9" fill="none"/>
<path d="M103.9,736.1V732.6H121.1V736.1" stroke="#444" stroke-width="0.8" fill="none"/>
<path d="M107.80,727.70L107.80,731.10M106.33,728.55L109.27,730.25M106.33,730.25L109.27,728.55M112.50,727.70L112.50,731.10M111.03,728.55L113.97,730.25M111.03,730.25L113.97,728.55M117.20,727.70L117.20,731.10M115.73,728.55L118.67,730.25M115.73,730.25L118.67,728.55" stroke="#444" stroke-width="0.9" fill="none"/>
<path d="M148.6,811.6v3" stroke="#333333" stroke-width="1"/>
<text x="148.6" y="822.0" text-anchor="middle" font-size="6.25" font-weight="bold" fill="#222">BALF</text>
<path d="M133.00,811.60V798.40H138.40V811.60" fill="none" stroke="#3f6cb4" stroke-width="1.2"/>
<circle cx="135.8" cy="794.3" r="2.15" fill="#7ea4dc"/>
<circle cx="135.6" cy="796.5" r="2.15" fill="#7ea4dc"/>
<circle cx="134.8" cy="797.6" r="2.15" fill="#7ea4dc"/>
<circle cx="136.8" cy="798.8" r="2.15" fill="#7ea4dc"/>
<circle cx="135.3" cy="799.9" r="2.15" fill="#7ea4dc"/>
<circle cx="135.9" cy="800.8" r="2.15" fill="#7ea4dc"/>
<path d="M135.7,798.4V795.8M134.1,795.8h3.2" stroke="#3f6cb4" stroke-width="1"/>
<path d="M141.60,811.60V745.60H147.00V811.60" fill="none" stroke="#ff1a1a" stroke-width="1.2"/>
<circle cx="144.2" cy="737.8" r="2.15" fill="#ff1616"/>
<circle cx="145.0" cy="737.8" r="2.15" fill="#ff1616"/>
<circle cx="143.9" cy="743.3" r="2.15" fill="#ff1616"/>
<circle cx="145.3" cy="745.6" r="2.15" fill="#ff1616"/>
<circle cx="144.2" cy="750.6" r="2.15" fill="#ff1616"/>
<circle cx="143.9" cy="754.6" r="2.15" fill="#ff1616"/>
<path d="M144.3,745.6V738.8M142.7,738.8h3.2" stroke="#ff1a1a" stroke-width="1"/>
<path d="M150.20,811.60V801.04H155.60V811.60" fill="none" stroke="#8e34c4" stroke-width="1.2"/>
<circle cx="152.9" cy="798.1" r="2.15" fill="#dc8cf2"/>
<circle cx="153.4" cy="799.0" r="2.15" fill="#dc8cf2"/>
<circle cx="153.3" cy="800.5" r="2.15" fill="#dc8cf2"/>
<circle cx="152.4" cy="800.8" r="2.15" fill="#dc8cf2"/>
<circle cx="152.6" cy="801.9" r="2.15" fill="#dc8cf2"/>
<circle cx="152.4" cy="803.0" r="2.15" fill="#dc8cf2"/>
<path d="M152.9,801.0V798.9M151.3,798.9h3.2" stroke="#8e34c4" stroke-width="1"/>
<path d="M158.80,811.60V787.84H164.20V811.60" fill="none" stroke="#3c2f5c" stroke-width="1.2"/>
<circle cx="161.2" cy="781.9" r="2.15" fill="#5e3f9c"/>
<circle cx="161.3" cy="785.0" r="2.15" fill="#5e3f9c"/>
<circle cx="162.1" cy="786.9" r="2.15" fill="#5e3f9c"/>
<circle cx="160.4" cy="787.7" r="2.15" fill="#5e3f9c"/>
<circle cx="160.8" cy="789.3" r="2.15" fill="#5e3f9c"/>
<circle cx="161.6" cy="791.3" r="2.15" fill="#5e3f9c"/>
<path d="M161.5,787.8V783.8M159.9,783.8h3.2" stroke="#3c2f5c" stroke-width="1"/>
<path d="M135.7,734.8V731.3H144.3V734.8" stroke="#444" stroke-width="0.8" fill="none"/>
<path d="M135.30,726.20L135.30,729.60M133.83,727.05L136.77,728.75M133.83,728.75L136.77,727.05M140.00,726.20L140.00,729.60M138.53,727.05L141.47,728.75M138.53,728.75L141.47,727.05M144.70,726.20L144.70,729.60M143.23,727.05L146.17,728.75M143.23,728.75L146.17,727.05" stroke="#444" stroke-width="0.9" fill="none"/>
<path d="M144.3,723.9V720.4H161.5V723.9" stroke="#444" stroke-width="0.8" fill="none"/>
<path d="M148.20,715.50L148.20,718.90M146.73,716.35L149.67,718.05M146.73,718.05L149.67,716.35M152.90,715.50L152.90,718.90M151.43,716.35L154.37,718.05M151.43,718.05L154.37,716.35M157.60,715.50L157.60,718.90M156.13,716.35L159.07,718.05M156.13,718.05L159.07,716.35" stroke="#444" stroke-width="0.9" fill="none"/>
<circle cx="46.4" cy="670.4" r="2.3" fill="#7ea4dc"/>
<text x="58.0" y="673.4" font-size="6.6" fill="#222">Sham<tspan font-size="4.6" dy="-3.0">Control mice</tspan></text>
<circle cx="46.4" cy="682.1" r="2.3" fill="#ff1616"/>
<text x="58.0" y="685.1" font-size="6.6" fill="#222">CLP<tspan font-size="4.6" dy="-3.0">Control mice</tspan></text>
<circle cx="46.4" cy="693.8" r="2.3" fill="#dc8cf2"/>
<text x="58.0" y="696.8" font-size="6.6" fill="#222">Sham<tspan font-size="4.6" dy="-3.0">NAT10-OE</tspan></text>
<circle cx="46.4" cy="705.5" r="2.3" fill="#5e3f9c"/>
<text x="58.0" y="708.5" font-size="6.6" fill="#222">CLP<tspan font-size="4.6" dy="-3.0">NAT10-OE</tspan></text>
<text transform="translate(190.9,771.6) rotate(-90)" text-anchor="middle" font-size="7.4" font-weight="bold" fill="#222">Relative Caspase 4 activity</text>
<path d="M205.0,732.0V811.2H323.8" stroke="#333333" stroke-width="1.1" fill="none"/>
<path d="M201.5,811.2H205.0" stroke="#333333" stroke-width="1"/>
<text x="199.8" y="813.7" text-anchor="end" font-size="7" font-weight="bold" fill="#222">0</text>
<path d="M201.5,784.8H205.0" stroke="#333333" stroke-width="1"/>
<text x="199.8" y="787.3" text-anchor="end" font-size="7" font-weight="bold" fill="#222">2</text>
<path d="M201.5,758.4H205.0" stroke="#333333" stroke-width="1"/>
<text x="199.8" y="760.9" text-anchor="end" font-size="7" font-weight="bold" fill="#222">4</text>
<path d="M201.5,732.0H205.0" stroke="#333333" stroke-width="1"/>
<text x="199.8" y="734.5" text-anchor="end" font-size="7" font-weight="bold" fill="#222">6</text>
<path d="M223.8,811.2v3" stroke="#333333" stroke-width="1"/>
<text x="223.8" y="821.6" text-anchor="middle" font-size="6.25" font-weight="bold" fill="#222">Blood</text>
<path d="M208.20,811.20V796.68H213.60V811.20" fill="none" stroke="#3f6cb4" stroke-width="1.2"/>
<circle cx="211.3" cy="792.5" r="2.15" fill="#7ea4dc"/>
<circle cx="211.9" cy="794.1" r="2.15" fill="#7ea4dc"/>
<circle cx="210.4" cy="795.9" r="2.15" fill="#7ea4dc"/>
<circle cx="211.2" cy="796.5" r="2.15" fill="#7ea4dc"/>
<circle cx="211.3" cy="798.2" r="2.15" fill="#7ea4dc"/>
<circle cx="211.5" cy="799.2" r="2.15" fill="#7ea4dc"/>
<path d="M210.9,796.7V793.8M209.3,793.8h3.2" stroke="#3f6cb4" stroke-width="1"/>
<path d="M216.80,811.20V755.76H222.20V811.20" fill="none" stroke="#ff1a1a" stroke-width="1.2"/>
<circle cx="218.9" cy="749.9" r="2.15" fill="#ff1616"/>
<circle cx="219.2" cy="749.9" r="2.15" fill="#ff1616"/>
<circle cx="220.2" cy="753.1" r="2.15" fill="#ff1616"/>
<circle cx="218.7" cy="755.4" r="2.15" fill="#ff1616"/>
<circle cx="219.9" cy="759.9" r="2.15" fill="#ff1616"/>
<circle cx="219.8" cy="764.7" r="2.15" fill="#ff1616"/>
<path d="M219.5,755.8V750.9M217.9,750.9h3.2" stroke="#ff1a1a" stroke-width="1"/>
<path d="M225.40,811.20V798.00H230.80V811.20" fill="none" stroke="#8e34c4" stroke-width="1.2"/>
<circle cx="227.7" cy="794.2" r="2.15" fill="#dc8cf2"/>
<circle cx="227.4" cy="796.1" r="2.15" fill="#dc8cf2"/>
<circle cx="227.9" cy="796.7" r="2.15" fill="#dc8cf2"/>
<circle cx="228.0" cy="797.6" r="2.15" fill="#dc8cf2"/>
<circle cx="228.9" cy="799.1" r="2.15" fill="#dc8cf2"/>
<circle cx="227.2" cy="800.1" r="2.15" fill="#dc8cf2"/>
<path d="M228.1,798.0V795.4M226.5,795.4h3.2" stroke="#8e34c4" stroke-width="1"/>
<path d="M234.00,811.20V782.16H239.40V811.20" fill="none" stroke="#3c2f5c" stroke-width="1.2"/>
<circle cx="237.0" cy="774.4" r="2.15" fill="#5e3f9c"/>
<circle cx="235.8" cy="778.4" r="2.15" fill="#5e3f9c"/>
<circle cx="236.7" cy="779.9" r="2.15" fill="#5e3f9c"/>
<circle cx="236.6" cy="782.6" r="2.15" fill="#5e3f9c"/>
<circle cx="237.4" cy="784.8" r="2.15" fill="#5e3f9c"/>
<circle cx="235.8" cy="786.4" r="2.15" fill="#5e3f9c"/>
<path d="M236.7,782.2V777.2M235.1,777.2h3.2" stroke="#3c2f5c" stroke-width="1"/>
<path d="M210.9,746.9V743.4H219.5V746.9" stroke="#444" stroke-width="0.8" fill="none"/>
<path d="M210.50,738.30L210.50,741.70M209.03,739.15L211.97,740.85M209.03,740.85L211.97,739.15M215.20,738.30L215.20,741.70M213.73,739.15L216.67,740.85M213.73,740.85L216.67,739.15M219.90,738.30L219.90,741.70M218.43,739.15L221.37,740.85M218.43,740.85L221.37,739.15" stroke="#444" stroke-width="0.9" fill="none"/>
<path d="M219.5,736.1V732.6H236.7V736.1" stroke="#444" stroke-width="0.8" fill="none"/>
<path d="M223.40,727.70L223.40,731.10M221.93,728.55L224.87,730.25M221.93,730.25L224.87,728.55M228.10,727.70L228.10,731.10M226.63,728.55L229.57,730.25M226.63,730.25L229.57,728.55M232.80,727.70L232.80,731.10M231.33,728.55L234.27,730.25M231.33,730.25L234.27,728.55" stroke="#444" stroke-width="0.9" fill="none"/>
<path d="M264.2,811.2v3" stroke="#333333" stroke-width="1"/>
<text x="264.2" y="821.6" text-anchor="middle" font-size="6.25" font-weight="bold" fill="#222">Spleen</text>
<path d="M248.60,811.20V798.00H254.00V811.20" fill="none" stroke="#3f6cb4" stroke-width="1.2"/>
<circle cx="250.4" cy="793.7" r="2.15" fill="#7ea4dc"/>
<circle cx="250.3" cy="795.9" r="2.15" fill="#7ea4dc"/>
<circle cx="250.5" cy="796.9" r="2.15" fill="#7ea4dc"/>
<circle cx="250.4" cy="798.0" r="2.15" fill="#7ea4dc"/>
<circle cx="251.7" cy="799.2" r="2.15" fill="#7ea4dc"/>
<circle cx="251.2" cy="800.2" r="2.15" fill="#7ea4dc"/>
<path d="M251.3,798.0V795.4M249.7,795.4h3.2" stroke="#3f6cb4" stroke-width="1"/>
<path d="M257.20,811.20V758.40H262.60V811.20" fill="none" stroke="#ff1a1a" stroke-width="1.2"/>
<circle cx="259.8" cy="749.5" r="2.15" fill="#ff1616"/>
<circle cx="259.0" cy="750.5" r="2.15" fill="#ff1616"/>
<circle cx="259.3" cy="755.3" r="2.15" fill="#ff1616"/>
<circle cx="260.9" cy="757.4" r="2.15" fill="#ff1616"/>
<circle cx="259.1" cy="763.6" r="2.15" fill="#ff1616"/>
<circle cx="260.1" cy="765.5" r="2.15" fill="#ff1616"/>
<path d="M259.9,758.4V750.5M258.3,750.5h3.2" stroke="#ff1a1a" stroke-width="1"/>
<path d="M265.80,811.20V798.00H271.20V811.20" fill="none" stroke="#8e34c4" stroke-width="1.2"/>
<circle cx="269.0" cy="794.3" r="2.15" fill="#dc8cf2"/>
<circle cx="268.3" cy="795.4" r="2.15" fill="#dc8cf2"/>
<circle cx="268.7" cy="797.2" r="2.15" fill="#dc8cf2"/>
<circle cx="268.0" cy="797.7" r="2.15" fill="#dc8cf2"/>
<circle cx="267.8" cy="799.3" r="2.15" fill="#dc8cf2"/>
<circle cx="268.4" cy="800.1" r="2.15" fill="#dc8cf2"/>
<path d="M268.5,798.0V795.4M266.9,795.4h3.2" stroke="#8e34c4" stroke-width="1"/>
<path d="M274.40,811.20V786.12H279.80V811.20" fill="none" stroke="#3c2f5c" stroke-width="1.2"/>
<circle cx="276.9" cy="779.8" r="2.15" fill="#5e3f9c"/>
<circle cx="276.7" cy="783.1" r="2.15" fill="#5e3f9c"/>
<circle cx="277.3" cy="784.0" r="2.15" fill="#5e3f9c"/>
<circle cx="278.1" cy="786.4" r="2.15" fill="#5e3f9c"/>
<circle cx="276.6" cy="788.2" r="2.15" fill="#5e3f9c"/>
<circle cx="276.3" cy="790.3" r="2.15" fill="#5e3f9c"/>
<path d="M277.1,786.1V781.9M275.5,781.9h3.2" stroke="#3c2f5c" stroke-width="1"/>
<path d="M251.3,746.5V743.0H259.9V746.5" stroke="#444" stroke-width="0.8" fill="none"/>
<path d="M250.90,737.90L250.90,741.30M249.43,738.75L252.37,740.45M249.43,740.45L252.37,738.75M255.60,737.90L255.60,741.30M254.13,738.75L257.07,740.45M254.13,740.45L257.07,738.75M260.30,737.90L260.30,741.30M258.83,738.75L261.77,740.45M258.83,740.45L261.77,738.75" stroke="#444" stroke-width="0.9" fill="none"/>
<path d="M259.9,735.5V732.0H277.1V735.5" stroke="#444" stroke-width="0.8" fill="none"/>
<path d="M263.80,727.10L263.80,730.50M262.33,727.95L265.27,729.65M262.33,729.65L265.27,727.95M268.50,727.10L268.50,730.50M267.03,727.95L269.97,729.65M267.03,729.65L269.97,727.95M273.20,727.10L273.20,730.50M271.73,727.95L274.67,729.65M271.73,729.65L274.67,727.95" stroke="#444" stroke-width="0.9" fill="none"/>
<path d="M304.6,811.2v3" stroke="#333333" stroke-width="1"/>
<text x="304.6" y="821.6" text-anchor="middle" font-size="6.25" font-weight="bold" fill="#222">BALF</text>
<path d="M289.00,811.20V798.00H294.40V811.20" fill="none" stroke="#3f6cb4" stroke-width="1.2"/>
<circle cx="291.1" cy="794.1" r="2.15" fill="#7ea4dc"/>
<circle cx="291.2" cy="795.5" r="2.15" fill="#7ea4dc"/>
<circle cx="291.9" cy="797.3" r="2.15" fill="#7ea4dc"/>
<circle cx="291.2" cy="797.7" r="2.15" fill="#7ea4dc"/>
<circle cx="291.4" cy="799.0" r="2.15" fill="#7ea4dc"/>
<circle cx="291.9" cy="800.2" r="2.15" fill="#7ea4dc"/>
<path d="M291.7,798.0V795.4M290.1,795.4h3.2" stroke="#3f6cb4" stroke-width="1"/>
<path d="M297.60,811.20V746.52H303.00V811.20" fill="none" stroke="#ff1a1a" stroke-width="1.2"/>
<circle cx="300.9" cy="741.5" r="2.15" fill="#ff1616"/>
<circle cx="301.1" cy="741.5" r="2.15" fill="#ff1616"/>
<circle cx="300.0" cy="743.1" r="2.15" fill="#ff1616"/>
<circle cx="300.4" cy="745.0" r="2.15" fill="#ff1616"/>
<circle cx="299.9" cy="750.6" r="2.15" fill="#ff1616"/>
<circle cx="300.5" cy="754.5" r="2.15" fill="#ff1616"/>
<path d="M300.3,746.5V742.5M298.7,742.5h3.2" stroke="#ff1a1a" stroke-width="1"/>
<path d="M306.20,811.20V801.30H311.60V811.20" fill="none" stroke="#8e34c4" stroke-width="1.2"/>
<circle cx="309.9" cy="798.4" r="2.15" fill="#dc8cf2"/>
<circle cx="308.5" cy="799.6" r="2.15" fill="#dc8cf2"/>
<circle cx="308.0" cy="800.7" r="2.15" fill="#dc8cf2"/>
<circle cx="309.3" cy="801.5" r="2.15" fill="#dc8cf2"/>
<circle cx="308.4" cy="802.4" r="2.15" fill="#dc8cf2"/>
<circle cx="309.0" cy="803.0" r="2.15" fill="#dc8cf2"/>
<path d="M308.9,801.3V799.3M307.3,799.3h3.2" stroke="#8e34c4" stroke-width="1"/>
<path d="M314.80,811.20V790.08H320.20V811.20" fill="none" stroke="#3c2f5c" stroke-width="1.2"/>
<circle cx="318.1" cy="784.6" r="2.15" fill="#5e3f9c"/>
<circle cx="317.2" cy="787.3" r="2.15" fill="#5e3f9c"/>
<circle cx="316.7" cy="788.9" r="2.15" fill="#5e3f9c"/>
<circle cx="316.7" cy="790.4" r="2.15" fill="#5e3f9c"/>
<circle cx="316.7" cy="791.5" r="2.15" fill="#5e3f9c"/>
<circle cx="316.9" cy="793.0" r="2.15" fill="#5e3f9c"/>
<path d="M317.5,790.1V786.5M315.9,786.5h3.2" stroke="#3c2f5c" stroke-width="1"/>
<path d="M291.7,738.5V735.0H300.3V738.5" stroke="#444" stroke-width="0.8" fill="none"/>
<path d="M291.30,729.90L291.30,733.30M289.83,730.75L292.77,732.45M289.83,732.45L292.77,730.75M296.00,729.90L296.00,733.30M294.53,730.75L297.47,732.45M294.53,732.45L297.47,730.75M300.70,729.90L300.70,733.30M299.23,730.75L302.17,732.45M299.23,732.45L302.17,730.75" stroke="#444" stroke-width="0.9" fill="none"/>
<path d="M300.3,727.5V724.0H317.5V727.5" stroke="#444" stroke-width="0.8" fill="none"/>
<path d="M304.20,719.10L304.20,722.50M302.73,719.95L305.67,721.65M302.73,721.65L305.67,719.95M308.90,719.10L308.90,722.50M307.43,719.95L310.37,721.65M307.43,721.65L310.37,719.95M313.60,719.10L313.60,722.50M312.13,719.95L315.07,721.65M312.13,721.65L315.07,719.95" stroke="#444" stroke-width="0.9" fill="none"/>
<circle cx="202.4" cy="669.6" r="2.3" fill="#7ea4dc"/>
<text x="213.6" y="672.6" font-size="6.6" fill="#222">Sham<tspan font-size="4.6" dy="-3.0">Control mice</tspan></text>
<circle cx="202.4" cy="681.3" r="2.3" fill="#ff1616"/>
<text x="213.6" y="684.3" font-size="6.6" fill="#222">CLP<tspan font-size="4.6" dy="-3.0">Control mice</tspan></text>
<circle cx="202.4" cy="693.0" r="2.3" fill="#dc8cf2"/>
<text x="213.6" y="696.0" font-size="6.6" fill="#222">Sham<tspan font-size="4.6" dy="-3.0">NAT10-OE</tspan></text>
<circle cx="202.4" cy="704.7" r="2.3" fill="#5e3f9c"/>
<text x="213.6" y="707.7" font-size="6.6" fill="#222">CLP<tspan font-size="4.6" dy="-3.0">NAT10-OE</tspan></text>
<text transform="translate(344.4,771.2) rotate(-90)" text-anchor="middle" font-size="7.4" font-weight="bold" fill="#222">IL-1β Protein Concentration</text>
<text transform="translate(353.0,771.2) rotate(-90)" text-anchor="middle" font-size="7.4" font-weight="bold" fill="#222">(pg/mL)</text>
<path d="M373.0,732.0V810.5H492.0" stroke="#333333" stroke-width="1.1" fill="none"/>
<path d="M369.5,810.5H373.0" stroke="#333333" stroke-width="1"/>
<text x="367.8" y="813.0" text-anchor="end" font-size="7" font-weight="bold" fill="#222">0</text>
<path d="M369.5,794.8H373.0" stroke="#333333" stroke-width="1"/>
<text x="367.8" y="797.3" text-anchor="end" font-size="7" font-weight="bold" fill="#222">20</text>
<path d="M369.5,779.1H373.0" stroke="#333333" stroke-width="1"/>
<text x="367.8" y="781.6" text-anchor="end" font-size="7" font-weight="bold" fill="#222">40</text>
<path d="M369.5,763.4H373.0" stroke="#333333" stroke-width="1"/>
<text x="367.8" y="765.9" text-anchor="end" font-size="7" font-weight="bold" fill="#222">60</text>
<path d="M369.5,747.7H373.0" stroke="#333333" stroke-width="1"/>
<text x="367.8" y="750.2" text-anchor="end" font-size="7" font-weight="bold" fill="#222">80</text>
<path d="M369.5,732.0H373.0" stroke="#333333" stroke-width="1"/>
<text x="367.8" y="734.5" text-anchor="end" font-size="7" font-weight="bold" fill="#222">100</text>
<path d="M392.4,810.5v3" stroke="#333333" stroke-width="1"/>
<text x="392.4" y="820.9" text-anchor="middle" font-size="6.25" font-weight="bold" fill="#222">Blood</text>
<path d="M376.80,810.50V802.65H382.20V810.50" fill="none" stroke="#3f6cb4" stroke-width="1.2"/>
<circle cx="378.4" cy="800.0" r="2.15" fill="#7ea4dc"/>
<circle cx="378.7" cy="801.2" r="2.15" fill="#7ea4dc"/>
<circle cx="378.4" cy="801.9" r="2.15" fill="#7ea4dc"/>
<circle cx="379.9" cy="802.5" r="2.15" fill="#7ea4dc"/>
<circle cx="380.6" cy="803.2" r="2.15" fill="#7ea4dc"/>
<circle cx="379.1" cy="804.1" r="2.15" fill="#7ea4dc"/>
<path d="M379.5,802.6V801.1M377.9,801.1h3.2" stroke="#3f6cb4" stroke-width="1"/>
<path d="M385.40,810.50V765.75H390.80V810.50" fill="none" stroke="#ff1a1a" stroke-width="1.2"/>
<circle cx="387.6" cy="759.5" r="2.15" fill="#ff1616"/>
<circle cx="387.5" cy="759.8" r="2.15" fill="#ff1616"/>
<circle cx="388.9" cy="762.3" r="2.15" fill="#ff1616"/>
<circle cx="387.5" cy="765.1" r="2.15" fill="#ff1616"/>
<circle cx="388.1" cy="768.2" r="2.15" fill="#ff1616"/>
<circle cx="388.0" cy="772.8" r="2.15" fill="#ff1616"/>
<path d="M388.1,765.8V760.5M386.5,760.5h3.2" stroke="#ff1a1a" stroke-width="1"/>
<path d="M394.00,810.50V803.43H399.40V810.50" fill="none" stroke="#8e34c4" stroke-width="1.2"/>
<circle cx="395.8" cy="801.3" r="2.15" fill="#dc8cf2"/>
<circle cx="396.4" cy="802.2" r="2.15" fill="#dc8cf2"/>
<circle cx="397.6" cy="802.9" r="2.15" fill="#dc8cf2"/>
<circle cx="396.5" cy="803.4" r="2.15" fill="#dc8cf2"/>
<circle cx="397.8" cy="803.9" r="2.15" fill="#dc8cf2"/>
<circle cx="397.7" cy="804.6" r="2.15" fill="#dc8cf2"/>
<path d="M396.7,803.4V802.0M395.1,802.0h3.2" stroke="#8e34c4" stroke-width="1"/>
<path d="M402.60,810.50V788.52H408.00V810.50" fill="none" stroke="#3c2f5c" stroke-width="1.2"/>
<circle cx="404.5" cy="783.3" r="2.15" fill="#5e3f9c"/>
<circle cx="406.3" cy="785.7" r="2.15" fill="#5e3f9c"/>
<circle cx="405.8" cy="787.0" r="2.15" fill="#5e3f9c"/>
<circle cx="405.3" cy="788.8" r="2.15" fill="#5e3f9c"/>
<circle cx="404.4" cy="789.8" r="2.15" fill="#5e3f9c"/>
<circle cx="404.3" cy="792.1" r="2.15" fill="#5e3f9c"/>
<path d="M405.3,788.5V784.8M403.7,784.8h3.2" stroke="#3c2f5c" stroke-width="1"/>
<path d="M379.5,756.5V753.0H388.1V756.5" stroke="#444" stroke-width="0.8" fill="none"/>
<path d="M379.10,747.90L379.10,751.30M377.63,748.75L380.57,750.45M377.63,750.45L380.57,748.75M383.80,747.90L383.80,751.30M382.33,748.75L385.27,750.45M382.33,750.45L385.27,748.75M388.50,747.90L388.50,751.30M387.03,748.75L389.97,750.45M387.03,750.45L389.97,748.75" stroke="#444" stroke-width="0.9" fill="none"/>
<path d="M388.1,745.5V742.0H405.3V745.5" stroke="#444" stroke-width="0.8" fill="none"/>
<path d="M392.00,737.10L392.00,740.50M390.53,737.95L393.47,739.65M390.53,739.65L393.47,737.95M396.70,737.10L396.70,740.50M395.23,737.95L398.17,739.65M395.23,739.65L398.17,737.95M401.40,737.10L401.40,740.50M399.93,737.95L402.87,739.65M399.93,739.65L402.87,737.95" stroke="#444" stroke-width="0.9" fill="none"/>
<path d="M432.6,810.5v3" stroke="#333333" stroke-width="1"/>
<text x="432.6" y="820.9" text-anchor="middle" font-size="6.25" font-weight="bold" fill="#222">Spleen</text>
<path d="M417.00,810.50V804.22H422.40V810.50" fill="none" stroke="#3f6cb4" stroke-width="1.2"/>
<circle cx="420.4" cy="802.3" r="2.15" fill="#7ea4dc"/>
<circle cx="419.5" cy="803.1" r="2.15" fill="#7ea4dc"/>
<circle cx="419.0" cy="803.8" r="2.15" fill="#7ea4dc"/>
<circle cx="419.4" cy="804.1" r="2.15" fill="#7ea4dc"/>
<circle cx="419.3" cy="804.9" r="2.15" fill="#7ea4dc"/>
<circle cx="419.3" cy="805.2" r="2.15" fill="#7ea4dc"/>
<path d="M419.7,804.2V803.0M418.1,803.0h3.2" stroke="#3f6cb4" stroke-width="1"/>
<path d="M425.60,810.50V767.33H431.00V810.50" fill="none" stroke="#ff1a1a" stroke-width="1.2"/>
<circle cx="427.9" cy="755.9" r="2.15" fill="#ff1616"/>
<circle cx="427.4" cy="761.2" r="2.15" fill="#ff1616"/>
<circle cx="429.0" cy="763.9" r="2.15" fill="#ff1616"/>
<circle cx="427.5" cy="767.4" r="2.15" fill="#ff1616"/>
<circle cx="428.0" cy="770.6" r="2.15" fill="#ff1616"/>
<circle cx="429.2" cy="772.8" r="2.15" fill="#ff1616"/>
<path d="M428.3,767.3V760.0M426.7,760.0h3.2" stroke="#ff1a1a" stroke-width="1"/>
<path d="M434.20,810.50V803.43H439.60V810.50" fill="none" stroke="#8e34c4" stroke-width="1.2"/>
<circle cx="436.4" cy="801.1" r="2.15" fill="#dc8cf2"/>
<circle cx="437.8" cy="802.4" r="2.15" fill="#dc8cf2"/>
<circle cx="436.1" cy="802.8" r="2.15" fill="#dc8cf2"/>
<circle cx="436.9" cy="803.4" r="2.15" fill="#dc8cf2"/>
<circle cx="435.9" cy="803.9" r="2.15" fill="#dc8cf2"/>
<circle cx="437.7" cy="804.8" r="2.15" fill="#dc8cf2"/>
<path d="M436.9,803.4V802.0M435.3,802.0h3.2" stroke="#8e34c4" stroke-width="1"/>
<path d="M442.80,810.50V780.67H448.20V810.50" fill="none" stroke="#3c2f5c" stroke-width="1.2"/>
<circle cx="445.4" cy="772.7" r="2.15" fill="#5e3f9c"/>
<circle cx="445.7" cy="775.9" r="2.15" fill="#5e3f9c"/>
<circle cx="445.0" cy="778.6" r="2.15" fill="#5e3f9c"/>
<circle cx="444.4" cy="781.3" r="2.15" fill="#5e3f9c"/>
<circle cx="445.8" cy="783.2" r="2.15" fill="#5e3f9c"/>
<circle cx="445.2" cy="785.2" r="2.15" fill="#5e3f9c"/>
<path d="M445.5,780.7V775.6M443.9,775.6h3.2" stroke="#3c2f5c" stroke-width="1"/>
<path d="M419.7,752.9V749.4H428.3V752.9" stroke="#444" stroke-width="0.8" fill="none"/>
<path d="M419.30,744.30L419.30,747.70M417.83,745.15L420.77,746.85M417.83,746.85L420.77,745.15M424.00,744.30L424.00,747.70M422.53,745.15L425.47,746.85M422.53,746.85L425.47,745.15M428.70,744.30L428.70,747.70M427.23,745.15L430.17,746.85M427.23,746.85L430.17,745.15" stroke="#444" stroke-width="0.9" fill="none"/>
<path d="M428.3,742.1V738.6H445.5V742.1" stroke="#444" stroke-width="0.8" fill="none"/>
<path d="M432.20,733.70L432.20,737.10M430.73,734.55L433.67,736.25M430.73,736.25L433.67,734.55M436.90,733.70L436.90,737.10M435.43,734.55L438.37,736.25M435.43,736.25L438.37,734.55M441.60,733.70L441.60,737.10M440.13,734.55L443.07,736.25M440.13,736.25L443.07,734.55" stroke="#444" stroke-width="0.9" fill="none"/>
<path d="M472.8,810.5v3" stroke="#333333" stroke-width="1"/>
<text x="472.8" y="820.9" text-anchor="middle" font-size="6.25" font-weight="bold" fill="#222">BALF</text>
<path d="M457.20,810.50V803.43H462.60V810.50" fill="none" stroke="#3f6cb4" stroke-width="1.2"/>
<circle cx="460.4" cy="801.2" r="2.15" fill="#7ea4dc"/>
<circle cx="459.5" cy="802.2" r="2.15" fill="#7ea4dc"/>
<circle cx="460.6" cy="802.8" r="2.15" fill="#7ea4dc"/>
<circle cx="460.8" cy="803.3" r="2.15" fill="#7ea4dc"/>
<circle cx="460.3" cy="804.3" r="2.15" fill="#7ea4dc"/>
<circle cx="459.7" cy="804.7" r="2.15" fill="#7ea4dc"/>
<path d="M459.9,803.4V802.0M458.3,802.0h3.2" stroke="#3f6cb4" stroke-width="1"/>
<path d="M465.80,810.50V747.70H471.20V810.50" fill="none" stroke="#ff1a1a" stroke-width="1.2"/>
<circle cx="467.7" cy="737.1" r="2.15" fill="#ff1616"/>
<circle cx="469.6" cy="739.4" r="2.15" fill="#ff1616"/>
<circle cx="469.4" cy="744.5" r="2.15" fill="#ff1616"/>
<circle cx="468.1" cy="747.1" r="2.15" fill="#ff1616"/>
<circle cx="468.7" cy="753.1" r="2.15" fill="#ff1616"/>
<circle cx="468.1" cy="756.1" r="2.15" fill="#ff1616"/>
<path d="M468.5,747.7V738.1M466.9,738.1h3.2" stroke="#ff1a1a" stroke-width="1"/>
<path d="M474.40,810.50V802.65H479.80V810.50" fill="none" stroke="#8e34c4" stroke-width="1.2"/>
<circle cx="476.4" cy="800.4" r="2.15" fill="#dc8cf2"/>
<circle cx="477.6" cy="801.1" r="2.15" fill="#dc8cf2"/>
<circle cx="477.8" cy="802.3" r="2.15" fill="#dc8cf2"/>
<circle cx="476.7" cy="802.6" r="2.15" fill="#dc8cf2"/>
<circle cx="476.3" cy="803.2" r="2.15" fill="#dc8cf2"/>
<circle cx="476.8" cy="804.2" r="2.15" fill="#dc8cf2"/>
<path d="M477.1,802.6V801.1M475.5,801.1h3.2" stroke="#8e34c4" stroke-width="1"/>
<path d="M483.00,810.50V775.17H488.40V810.50" fill="none" stroke="#3c2f5c" stroke-width="1.2"/>
<circle cx="485.8" cy="765.4" r="2.15" fill="#5e3f9c"/>
<circle cx="486.6" cy="770.1" r="2.15" fill="#5e3f9c"/>
<circle cx="486.3" cy="773.3" r="2.15" fill="#5e3f9c"/>
<circle cx="486.3" cy="776.1" r="2.15" fill="#5e3f9c"/>
<circle cx="486.0" cy="778.5" r="2.15" fill="#5e3f9c"/>
<circle cx="486.0" cy="779.7" r="2.15" fill="#5e3f9c"/>
<path d="M485.7,775.2V769.2M484.1,769.2h3.2" stroke="#3c2f5c" stroke-width="1"/>
<path d="M459.9,734.1V730.6H468.5V734.1" stroke="#444" stroke-width="0.8" fill="none"/>
<path d="M459.50,725.50L459.50,728.90M458.03,726.35L460.97,728.05M458.03,728.05L460.97,726.35M464.20,725.50L464.20,728.90M462.73,726.35L465.67,728.05M462.73,728.05L465.67,726.35M468.90,725.50L468.90,728.90M467.43,726.35L470.37,728.05M467.43,728.05L470.37,726.35" stroke="#444" stroke-width="0.9" fill="none"/>
<path d="M468.5,723.9V720.4H485.7V723.9" stroke="#444" stroke-width="0.8" fill="none"/>
<path d="M472.40,715.50L472.40,718.90M470.93,716.35L473.87,718.05M470.93,718.05L473.87,716.35M477.10,715.50L477.10,718.90M475.63,716.35L478.57,718.05M475.63,718.05L478.57,716.35M481.80,715.50L481.80,718.90M480.33,716.35L483.27,718.05M480.33,718.05L483.27,716.35" stroke="#444" stroke-width="0.9" fill="none"/>
<circle cx="371.0" cy="669.6" r="2.3" fill="#7ea4dc"/>
<text x="382.4" y="672.6" font-size="6.6" fill="#222">Sham<tspan font-size="4.6" dy="-3.0">Control mice</tspan></text>
<circle cx="371.0" cy="681.3" r="2.3" fill="#ff1616"/>
<text x="382.4" y="684.3" font-size="6.6" fill="#222">CLP<tspan font-size="4.6" dy="-3.0">Control mice</tspan></text>
<circle cx="371.0" cy="693.0" r="2.3" fill="#dc8cf2"/>
<text x="382.4" y="696.0" font-size="6.6" fill="#222">Sham<tspan font-size="4.6" dy="-3.0">NAT10-OE</tspan></text>
<circle cx="371.0" cy="704.7" r="2.3" fill="#5e3f9c"/>
<text x="382.4" y="707.7" font-size="6.6" fill="#222">CLP<tspan font-size="4.6" dy="-3.0">NAT10-OE</tspan></text>
<text transform="translate(506.4,771.4) rotate(-90)" text-anchor="middle" font-size="7.4" font-weight="bold" fill="#222">IL-18 Protein Concentration</text>
<text transform="translate(515.0,771.4) rotate(-90)" text-anchor="middle" font-size="7.4" font-weight="bold" fill="#222">(pg/mL)</text>
<path d="M535.6,732.1V810.6H653.8" stroke="#333333" stroke-width="1.1" fill="none"/>
<path d="M532.1,810.6H535.6" stroke="#333333" stroke-width="1"/>
<text x="530.4" y="813.1" text-anchor="end" font-size="7" font-weight="bold" fill="#222">0</text>
<path d="M532.1,794.9H535.6" stroke="#333333" stroke-width="1"/>
<text x="530.4" y="797.4" text-anchor="end" font-size="7" font-weight="bold" fill="#222">20</text>
<path d="M532.1,779.2H535.6" stroke="#333333" stroke-width="1"/>
<text x="530.4" y="781.7" text-anchor="end" font-size="7" font-weight="bold" fill="#222">40</text>
<path d="M532.1,763.5H535.6" stroke="#333333" stroke-width="1"/>
<text x="530.4" y="766.0" text-anchor="end" font-size="7" font-weight="bold" fill="#222">60</text>
<path d="M532.1,747.8H535.6" stroke="#333333" stroke-width="1"/>
<text x="530.4" y="750.3" text-anchor="end" font-size="7" font-weight="bold" fill="#222">80</text>
<path d="M532.1,732.1H535.6" stroke="#333333" stroke-width="1"/>
<text x="530.4" y="734.6" text-anchor="end" font-size="7" font-weight="bold" fill="#222">100</text>
<path d="M554.0,810.6v3" stroke="#333333" stroke-width="1"/>
<text x="554.0" y="821.0" text-anchor="middle" font-size="6.25" font-weight="bold" fill="#222">Blood</text>
<path d="M538.40,810.60V803.53H543.80V810.60" fill="none" stroke="#3f6cb4" stroke-width="1.2"/>
<circle cx="541.1" cy="801.4" r="2.15" fill="#7ea4dc"/>
<circle cx="541.0" cy="802.4" r="2.15" fill="#7ea4dc"/>
<circle cx="541.4" cy="803.1" r="2.15" fill="#7ea4dc"/>
<circle cx="541.4" cy="803.6" r="2.15" fill="#7ea4dc"/>
<circle cx="540.7" cy="804.4" r="2.15" fill="#7ea4dc"/>
<circle cx="540.3" cy="804.8" r="2.15" fill="#7ea4dc"/>
<path d="M541.1,803.5V802.1M539.5,802.1h3.2" stroke="#3f6cb4" stroke-width="1"/>
<path d="M547.00,810.60V765.07H552.40V810.60" fill="none" stroke="#ff1a1a" stroke-width="1.2"/>
<circle cx="549.3" cy="757.1" r="2.15" fill="#ff1616"/>
<circle cx="550.7" cy="757.8" r="2.15" fill="#ff1616"/>
<circle cx="550.6" cy="762.9" r="2.15" fill="#ff1616"/>
<circle cx="550.1" cy="764.4" r="2.15" fill="#ff1616"/>
<circle cx="549.6" cy="769.7" r="2.15" fill="#ff1616"/>
<circle cx="549.3" cy="771.4" r="2.15" fill="#ff1616"/>
<path d="M549.7,765.1V758.1M548.1,758.1h3.2" stroke="#ff1a1a" stroke-width="1"/>
<path d="M555.60,810.60V803.53H561.00V810.60" fill="none" stroke="#8e34c4" stroke-width="1.2"/>
<circle cx="557.9" cy="801.5" r="2.15" fill="#dc8cf2"/>
<circle cx="558.9" cy="802.4" r="2.15" fill="#dc8cf2"/>
<circle cx="558.1" cy="803.1" r="2.15" fill="#dc8cf2"/>
<circle cx="559.3" cy="803.5" r="2.15" fill="#dc8cf2"/>
<circle cx="557.3" cy="804.3" r="2.15" fill="#dc8cf2"/>
<circle cx="559.0" cy="804.5" r="2.15" fill="#dc8cf2"/>
<path d="M558.3,803.5V802.1M556.7,802.1h3.2" stroke="#8e34c4" stroke-width="1"/>
<path d="M564.20,810.60V787.05H569.60V810.60" fill="none" stroke="#3c2f5c" stroke-width="1.2"/>
<circle cx="567.0" cy="780.5" r="2.15" fill="#5e3f9c"/>
<circle cx="566.1" cy="784.0" r="2.15" fill="#5e3f9c"/>
<circle cx="566.8" cy="785.9" r="2.15" fill="#5e3f9c"/>
<circle cx="567.3" cy="787.6" r="2.15" fill="#5e3f9c"/>
<circle cx="565.8" cy="788.6" r="2.15" fill="#5e3f9c"/>
<circle cx="566.9" cy="790.0" r="2.15" fill="#5e3f9c"/>
<path d="M566.9,787.1V783.0M565.3,783.0h3.2" stroke="#3c2f5c" stroke-width="1"/>
<path d="M541.1,754.1V750.6H549.7V754.1" stroke="#444" stroke-width="0.8" fill="none"/>
<path d="M540.70,745.50L540.70,748.90M539.23,746.35L542.17,748.05M539.23,748.05L542.17,746.35M545.40,745.50L545.40,748.90M543.93,746.35L546.87,748.05M543.93,748.05L546.87,746.35M550.10,745.50L550.10,748.90M548.63,746.35L551.57,748.05M548.63,748.05L551.57,746.35" stroke="#444" stroke-width="0.9" fill="none"/>
<path d="M549.7,742.9V739.4H566.9V742.9" stroke="#444" stroke-width="0.8" fill="none"/>
<path d="M553.60,734.50L553.60,737.90M552.13,735.35L555.07,737.05M552.13,737.05L555.07,735.35M558.30,734.50L558.30,737.90M556.83,735.35L559.77,737.05M556.83,737.05L559.77,735.35M563.00,734.50L563.00,737.90M561.53,735.35L564.47,737.05M561.53,737.05L564.47,735.35" stroke="#444" stroke-width="0.9" fill="none"/>
<path d="M594.4,810.6v3" stroke="#333333" stroke-width="1"/>
<text x="594.4" y="821.0" text-anchor="middle" font-size="6.25" font-weight="bold" fill="#222">Spleen</text>
<path d="M578.80,810.60V804.32H584.20V810.60" fill="none" stroke="#3f6cb4" stroke-width="1.2"/>
<circle cx="581.4" cy="802.2" r="2.15" fill="#7ea4dc"/>
<circle cx="581.4" cy="803.1" r="2.15" fill="#7ea4dc"/>
<circle cx="581.5" cy="803.8" r="2.15" fill="#7ea4dc"/>
<circle cx="580.7" cy="804.5" r="2.15" fill="#7ea4dc"/>
<circle cx="581.3" cy="805.0" r="2.15" fill="#7ea4dc"/>
<circle cx="581.6" cy="805.4" r="2.15" fill="#7ea4dc"/>
<path d="M581.5,804.3V803.1M579.9,803.1h3.2" stroke="#3f6cb4" stroke-width="1"/>
<path d="M587.40,810.60V763.50H592.80V810.60" fill="none" stroke="#ff1a1a" stroke-width="1.2"/>
<circle cx="589.9" cy="757.1" r="2.15" fill="#ff1616"/>
<circle cx="590.1" cy="757.1" r="2.15" fill="#ff1616"/>
<circle cx="590.7" cy="759.6" r="2.15" fill="#ff1616"/>
<circle cx="590.8" cy="763.1" r="2.15" fill="#ff1616"/>
<circle cx="589.2" cy="767.8" r="2.15" fill="#ff1616"/>
<circle cx="589.3" cy="771.3" r="2.15" fill="#ff1616"/>
<path d="M590.1,763.5V758.1M588.5,758.1h3.2" stroke="#ff1a1a" stroke-width="1"/>
<path d="M596.00,810.60V803.53H601.40V810.60" fill="none" stroke="#8e34c4" stroke-width="1.2"/>
<circle cx="599.0" cy="801.6" r="2.15" fill="#dc8cf2"/>
<circle cx="597.8" cy="802.2" r="2.15" fill="#dc8cf2"/>
<circle cx="599.7" cy="803.0" r="2.15" fill="#dc8cf2"/>
<circle cx="597.9" cy="803.4" r="2.15" fill="#dc8cf2"/>
<circle cx="598.2" cy="804.1" r="2.15" fill="#dc8cf2"/>
<circle cx="597.6" cy="804.9" r="2.15" fill="#dc8cf2"/>
<path d="M598.7,803.5V802.1M597.1,802.1h3.2" stroke="#8e34c4" stroke-width="1"/>
<path d="M604.60,810.60V779.20H610.00V810.60" fill="none" stroke="#3c2f5c" stroke-width="1.2"/>
<circle cx="608.2" cy="770.9" r="2.15" fill="#5e3f9c"/>
<circle cx="606.5" cy="775.3" r="2.15" fill="#5e3f9c"/>
<circle cx="606.3" cy="777.5" r="2.15" fill="#5e3f9c"/>
<circle cx="607.8" cy="779.3" r="2.15" fill="#5e3f9c"/>
<circle cx="606.3" cy="781.7" r="2.15" fill="#5e3f9c"/>
<circle cx="606.6" cy="784.5" r="2.15" fill="#5e3f9c"/>
<path d="M607.3,779.2V773.9M605.7,773.9h3.2" stroke="#3c2f5c" stroke-width="1"/>
<path d="M581.5,754.1V750.6H590.1V754.1" stroke="#444" stroke-width="0.8" fill="none"/>
<path d="M581.10,745.50L581.10,748.90M579.63,746.35L582.57,748.05M579.63,748.05L582.57,746.35M585.80,745.50L585.80,748.90M584.33,746.35L587.27,748.05M584.33,748.05L587.27,746.35M590.50,745.50L590.50,748.90M589.03,746.35L591.97,748.05M589.03,748.05L591.97,746.35" stroke="#444" stroke-width="0.9" fill="none"/>
<path d="M590.1,742.9V739.4H607.3V742.9" stroke="#444" stroke-width="0.8" fill="none"/>
<path d="M594.00,734.50L594.00,737.90M592.53,735.35L595.47,737.05M592.53,737.05L595.47,735.35M598.70,734.50L598.70,737.90M597.23,735.35L600.17,737.05M597.23,737.05L600.17,735.35M603.40,734.50L603.40,737.90M601.93,735.35L604.87,737.05M601.93,737.05L604.87,735.35" stroke="#444" stroke-width="0.9" fill="none"/>
<path d="M634.6,810.6v3" stroke="#333333" stroke-width="1"/>
<text x="634.6" y="821.0" text-anchor="middle" font-size="6.25" font-weight="bold" fill="#222">BALF</text>
<path d="M619.00,810.60V804.32H624.40V810.60" fill="none" stroke="#3f6cb4" stroke-width="1.2"/>
<circle cx="622.6" cy="802.3" r="2.15" fill="#7ea4dc"/>
<circle cx="620.8" cy="803.3" r="2.15" fill="#7ea4dc"/>
<circle cx="621.5" cy="804.0" r="2.15" fill="#7ea4dc"/>
<circle cx="620.9" cy="804.5" r="2.15" fill="#7ea4dc"/>
<circle cx="622.4" cy="804.9" r="2.15" fill="#7ea4dc"/>
<circle cx="622.5" cy="805.5" r="2.15" fill="#7ea4dc"/>
<path d="M621.7,804.3V803.1M620.1,803.1h3.2" stroke="#3f6cb4" stroke-width="1"/>
<path d="M627.60,810.60V750.15H633.00V810.60" fill="none" stroke="#ff1a1a" stroke-width="1.2"/>
<circle cx="630.2" cy="743.9" r="2.15" fill="#ff1616"/>
<circle cx="629.6" cy="743.9" r="2.15" fill="#ff1616"/>
<circle cx="631.0" cy="746.0" r="2.15" fill="#ff1616"/>
<circle cx="629.7" cy="749.0" r="2.15" fill="#ff1616"/>
<circle cx="629.2" cy="755.0" r="2.15" fill="#ff1616"/>
<circle cx="629.8" cy="759.5" r="2.15" fill="#ff1616"/>
<path d="M630.3,750.2V744.9M628.7,744.9h3.2" stroke="#ff1a1a" stroke-width="1"/>
<path d="M636.20,810.60V803.53H641.60V810.60" fill="none" stroke="#8e34c4" stroke-width="1.2"/>
<circle cx="638.0" cy="801.5" r="2.15" fill="#dc8cf2"/>
<circle cx="638.5" cy="802.1" r="2.15" fill="#dc8cf2"/>
<circle cx="639.0" cy="803.0" r="2.15" fill="#dc8cf2"/>
<circle cx="639.1" cy="803.5" r="2.15" fill="#dc8cf2"/>
<circle cx="638.9" cy="804.2" r="2.15" fill="#dc8cf2"/>
<circle cx="639.2" cy="804.9" r="2.15" fill="#dc8cf2"/>
<path d="M638.9,803.5V802.1M637.3,802.1h3.2" stroke="#8e34c4" stroke-width="1"/>
<path d="M644.80,810.60V773.71H650.20V810.60" fill="none" stroke="#3c2f5c" stroke-width="1.2"/>
<circle cx="648.0" cy="763.7" r="2.15" fill="#5e3f9c"/>
<circle cx="647.4" cy="768.7" r="2.15" fill="#5e3f9c"/>
<circle cx="648.0" cy="770.9" r="2.15" fill="#5e3f9c"/>
<circle cx="647.1" cy="774.5" r="2.15" fill="#5e3f9c"/>
<circle cx="648.0" cy="777.1" r="2.15" fill="#5e3f9c"/>
<circle cx="647.3" cy="779.2" r="2.15" fill="#5e3f9c"/>
<path d="M647.5,773.7V767.4M645.9,767.4h3.2" stroke="#3c2f5c" stroke-width="1"/>
<path d="M621.7,740.9V737.4H630.3V740.9" stroke="#444" stroke-width="0.8" fill="none"/>
<path d="M621.30,732.30L621.30,735.70M619.83,733.15L622.77,734.85M619.83,734.85L622.77,733.15M626.00,732.30L626.00,735.70M624.53,733.15L627.47,734.85M624.53,734.85L627.47,733.15M630.70,732.30L630.70,735.70M629.23,733.15L632.17,734.85M629.23,734.85L632.17,733.15" stroke="#444" stroke-width="0.9" fill="none"/>
<path d="M630.3,729.5V726.0H647.5V729.5" stroke="#444" stroke-width="0.8" fill="none"/>
<path d="M634.20,721.10L634.20,724.50M632.73,721.95L635.67,723.65M632.73,723.65L635.67,721.95M638.90,721.10L638.90,724.50M637.43,721.95L640.37,723.65M637.43,723.65L640.37,721.95M643.60,721.10L643.60,724.50M642.13,721.95L645.07,723.65M642.13,723.65L645.07,721.95" stroke="#444" stroke-width="0.9" fill="none"/>
<circle cx="532.6" cy="669.6" r="2.3" fill="#7ea4dc"/>
<text x="544.0" y="672.6" font-size="6.6" fill="#222">Sham<tspan font-size="4.6" dy="-3.0">Control mice</tspan></text>
<circle cx="532.6" cy="681.3" r="2.3" fill="#ff1616"/>
<text x="544.0" y="684.3" font-size="6.6" fill="#222">CLP<tspan font-size="4.6" dy="-3.0">Control mice</tspan></text>
<circle cx="532.6" cy="693.0" r="2.3" fill="#dc8cf2"/>
<text x="544.0" y="696.0" font-size="6.6" fill="#222">Sham<tspan font-size="4.6" dy="-3.0">NAT10-OE</tspan></text>
<circle cx="532.6" cy="704.7" r="2.3" fill="#5e3f9c"/>
<text x="544.0" y="707.7" font-size="6.6" fill="#222">CLP<tspan font-size="4.6" dy="-3.0">NAT10-OE</tspan></text>
<text x="0.1" y="11.6" font-size="12.3" font-weight="bold" fill="#111">a</text>
<text x="306.4" y="11.6" font-size="13" font-weight="bold" fill="#111">b</text>
<text x="16.9" y="671.8" font-size="12.9" font-weight="bold" fill="#111">c</text>
<text x="338.7" y="671.8" font-size="13.2" font-weight="bold" fill="#111">d</text>
<defs><filter id="bl" x="-20%" y="-100%" width="140%" height="300%"><feGaussianBlur stdDeviation="1.2 0.8"/></filter><filter id="bl2" x="-20%" y="-100%" width="140%" height="300%"><feGaussianBlur stdDeviation="2.0 1.5"/></filter></defs>
<rect x="339.5" y="94.3" width="289.29999999999995" height="30.0" fill="#eeeeee" stroke="#3a3a3a" stroke-width="1"/>
<rect x="339.5" y="127.8" width="289.29999999999995" height="19.500000000000014" fill="#eeeeee" stroke="#3a3a3a" stroke-width="1"/>
<rect x="339.5" y="152" width="289.29999999999995" height="22.19999999999999" fill="#eeeeee" stroke="#3a3a3a" stroke-width="1"/>
<rect x="339.5" y="179.5" width="289.29999999999995" height="22.30000000000001" fill="#eeeeee" stroke="#3a3a3a" stroke-width="1"/>
<rect x="339.5" y="205" width="289.29999999999995" height="21.30000000000001" fill="#eeeeee" stroke="#3a3a3a" stroke-width="1"/>
<g filter="url(#bl2)">
<rect x="345.5" y="102.5" width="21" height="10" rx="7.0" ry="5.0" fill="rgb(224,224,224)"/>
<rect x="370.1" y="102.5" width="21" height="10" rx="7.0" ry="5.0" fill="rgb(230,230,230)"/>
<rect x="393.5" y="102.5" width="21" height="10" rx="7.0" ry="5.0" fill="rgb(224,224,224)"/>
<rect x="416.9" y="102.5" width="21" height="10" rx="7.0" ry="5.0" fill="rgb(230,230,230)"/>
<rect x="440.0" y="102.5" width="21" height="10" rx="7.0" ry="5.0" fill="rgb(226,226,226)"/>
<rect x="464.4" y="102.5" width="21" height="10" rx="7.0" ry="5.0" fill="rgb(230,230,230)"/>
<rect x="488.1" y="102.5" width="21" height="10" rx="7.0" ry="5.0" fill="rgb(226,226,226)"/>
<rect x="511.1" y="102.5" width="21" height="10" rx="7.0" ry="5.0" fill="rgb(230,230,230)"/>
<rect x="535.1" y="102.5" width="21" height="10" rx="7.0" ry="5.0" fill="rgb(226,226,226)"/>
<rect x="557.3" y="102.5" width="21" height="10" rx="7.0" ry="5.0" fill="rgb(230,230,230)"/>
<rect x="580.6" y="102.5" width="21" height="10" rx="7.0" ry="5.0" fill="rgb(228,228,228)"/>
<rect x="602.8" y="102.5" width="21" height="10" rx="7.0" ry="5.0" fill="rgb(230,230,230)"/>
<rect x="344.2" y="133.5" width="19" height="8" rx="6.3" ry="4.0" fill="rgb(220,220,220)"/>
<rect x="367.7" y="133.5" width="19" height="8" rx="6.3" ry="4.0" fill="rgb(206,206,206)"/>
<rect x="391.5" y="133.5" width="19" height="8" rx="6.3" ry="4.0" fill="rgb(220,220,220)"/>
<rect x="415.0" y="133.5" width="19" height="8" rx="6.3" ry="4.0" fill="rgb(226,226,226)"/>
<rect x="441.3" y="133.5" width="19" height="8" rx="6.3" ry="4.0" fill="rgb(226,226,226)"/>
<rect x="465.0" y="133.5" width="19" height="8" rx="6.3" ry="4.0" fill="rgb(216,216,216)"/>
<rect x="489.8" y="133.5" width="19" height="8" rx="6.3" ry="4.0" fill="rgb(226,226,226)"/>
<rect x="512.9" y="133.5" width="19" height="8" rx="6.3" ry="4.0" fill="rgb(226,226,226)"/>
<rect x="536.2" y="133.5" width="19" height="8" rx="6.3" ry="4.0" fill="rgb(226,226,226)"/>
<rect x="558.6" y="133.5" width="19" height="8" rx="6.3" ry="4.0" fill="rgb(226,226,226)"/>
<rect x="580.9" y="133.5" width="19" height="8" rx="6.3" ry="4.0" fill="rgb(226,226,226)"/>
<rect x="604.9" y="133.5" width="19" height="8" rx="6.3" ry="4.0" fill="rgb(226,226,226)"/>
<rect x="343.9" y="160.0" width="21" height="9" rx="7.0" ry="4.5" fill="rgb(192,192,192)"/>
<rect x="366.8" y="160.0" width="21" height="9" rx="7.0" ry="4.5" fill="rgb(192,192,192)"/>
<rect x="391.3" y="160.0" width="21" height="9" rx="7.0" ry="4.5" fill="rgb(196,196,196)"/>
<rect x="415.4" y="160.0" width="21" height="9" rx="7.0" ry="4.5" fill="rgb(196,196,196)"/>
<rect x="441.4" y="160.0" width="21" height="9" rx="7.0" ry="4.5" fill="rgb(212,212,212)"/>
<rect x="464.7" y="160.0" width="21" height="9" rx="7.0" ry="4.5" fill="rgb(206,206,206)"/>
<rect x="490.3" y="160.0" width="21" height="9" rx="7.0" ry="4.5" fill="rgb(200,200,200)"/>
<rect x="512.5" y="160.0" width="21" height="9" rx="7.0" ry="4.5" fill="rgb(200,200,200)"/>
<rect x="535.5" y="160.0" width="21" height="9" rx="7.0" ry="4.5" fill="rgb(206,206,206)"/>
<rect x="557.9" y="160.0" width="21" height="9" rx="7.0" ry="4.5" fill="rgb(206,206,206)"/>
<rect x="579.5" y="160.0" width="21" height="9" rx="7.0" ry="4.5" fill="rgb(212,212,212)"/>
<rect x="603.4" y="160.0" width="21" height="9" rx="7.0" ry="4.5" fill="rgb(206,206,206)"/>
<rect x="343.2" y="185.5" width="18" height="8" rx="6.0" ry="4.0" fill="rgb(206,206,206)"/>
<rect x="367.7" y="185.5" width="18" height="8" rx="6.0" ry="4.0" fill="rgb(216,216,216)"/>
<rect x="392.2" y="185.5" width="18" height="8" rx="6.0" ry="4.0" fill="rgb(200,200,200)"/>
<rect x="416.6" y="185.5" width="18" height="8" rx="6.0" ry="4.0" fill="rgb(186,186,186)"/>
<rect x="441.2" y="185.5" width="18" height="8" rx="6.0" ry="4.0" fill="rgb(216,216,216)"/>
<rect x="464.8" y="185.5" width="18" height="8" rx="6.0" ry="4.0" fill="rgb(226,226,226)"/>
<rect x="488.3" y="185.5" width="18" height="8" rx="6.0" ry="4.0" fill="rgb(216,216,216)"/>
<rect x="511.7" y="185.5" width="18" height="8" rx="6.0" ry="4.0" fill="rgb(196,196,196)"/>
<rect x="535.2" y="185.5" width="18" height="8" rx="6.0" ry="4.0" fill="rgb(216,216,216)"/>
<rect x="557.5" y="185.5" width="18" height="8" rx="6.0" ry="4.0" fill="rgb(196,196,196)"/>
<rect x="581.2" y="185.5" width="18" height="8" rx="6.0" ry="4.0" fill="rgb(226,226,226)"/>
<rect x="604.6" y="185.5" width="18" height="8" rx="6.0" ry="4.0" fill="rgb(216,216,216)"/>
<rect x="343.0" y="210.3" width="23" height="12" rx="7.7" ry="6.0" fill="rgb(186,186,186)"/>
<rect x="365.1" y="210.3" width="23" height="12" rx="7.7" ry="6.0" fill="rgb(186,186,186)"/>
<rect x="388.7" y="210.3" width="23" height="12" rx="7.7" ry="6.0" fill="rgb(186,186,186)"/>
<rect x="411.3" y="210.3" width="23" height="12" rx="7.7" ry="6.0" fill="rgb(186,186,186)"/>
<rect x="434.3" y="210.3" width="23" height="12" rx="7.7" ry="6.0" fill="rgb(186,186,186)"/>
<rect x="456.5" y="210.3" width="23" height="12" rx="7.7" ry="6.0" fill="rgb(186,186,186)"/>
<rect x="481.4" y="210.3" width="23" height="12" rx="7.7" ry="6.0" fill="rgb(186,186,186)"/>
<rect x="505.7" y="210.3" width="23" height="12" rx="7.7" ry="6.0" fill="rgb(186,186,186)"/>
<rect x="531.0" y="210.3" width="23" height="12" rx="7.7" ry="6.0" fill="rgb(186,186,186)"/>
<rect x="554.9" y="210.3" width="23" height="12" rx="7.7" ry="6.0" fill="rgb(186,186,186)"/>
<rect x="578.5" y="210.3" width="23" height="12" rx="7.7" ry="6.0" fill="rgb(186,186,186)"/>
<rect x="602.1" y="210.3" width="23" height="12" rx="7.7" ry="6.0" fill="rgb(186,186,186)"/>
</g>
<g filter="url(#bl)">
<rect x="345.8" y="98.4" width="20.5" height="3.6" rx="5.1" ry="1.8" fill="rgb(81,81,81)"/>
<rect x="370.4" y="98.4" width="20.5" height="3.6" rx="5.1" ry="1.8" fill="rgb(129,129,129)"/>
<rect x="393.8" y="98.4" width="20.5" height="3.6" rx="5.1" ry="1.8" fill="rgb(86,86,86)"/>
<rect x="417.1" y="98.4" width="20.5" height="3.6" rx="5.1" ry="1.8" fill="rgb(146,146,146)"/>
<rect x="440.2" y="98.4" width="20.5" height="3.6" rx="5.1" ry="1.8" fill="rgb(98,98,98)"/>
<rect x="464.6" y="98.4" width="20.5" height="3.6" rx="5.1" ry="1.8" fill="rgb(122,122,122)"/>
<rect x="488.4" y="98.4" width="20.5" height="3.6" rx="5.1" ry="1.8" fill="rgb(66,66,66)"/>
<rect x="511.4" y="98.4" width="20.5" height="3.6" rx="5.1" ry="1.8" fill="rgb(129,129,129)"/>
<rect x="535.4" y="98.4" width="20.5" height="3.6" rx="5.1" ry="1.8" fill="rgb(81,81,81)"/>
<rect x="557.5" y="98.4" width="20.5" height="3.6" rx="5.1" ry="1.8" fill="rgb(138,138,138)"/>
<rect x="580.9" y="98.4" width="20.5" height="3.6" rx="5.1" ry="1.8" fill="rgb(90,90,90)"/>
<rect x="603.0" y="98.4" width="20.5" height="3.6" rx="5.1" ry="1.8" fill="rgb(146,146,146)"/>
<rect x="345.8" y="112.5" width="20.5" height="3.4" rx="5.1" ry="1.7" fill="rgb(182,182,182)"/>
<rect x="370.4" y="112.5" width="20.5" height="3.4" rx="5.1" ry="1.7" fill="rgb(50,50,50)"/>
<rect x="393.8" y="112.5" width="20.5" height="3.4" rx="5.1" ry="1.7" fill="rgb(162,162,162)"/>
<rect x="417.1" y="112.5" width="20.5" height="3.4" rx="5.1" ry="1.7" fill="rgb(98,98,98)"/>
<rect x="440.2" y="112.5" width="20.5" height="3.4" rx="5.1" ry="1.7" fill="rgb(158,158,158)"/>
<rect x="464.6" y="112.5" width="20.5" height="3.4" rx="5.1" ry="1.7" fill="rgb(50,50,50)"/>
<rect x="488.4" y="112.5" width="20.5" height="3.4" rx="5.1" ry="1.7" fill="rgb(194,194,194)"/>
<rect x="511.4" y="112.5" width="20.5" height="3.4" rx="5.1" ry="1.7" fill="rgb(98,98,98)"/>
<rect x="535.4" y="112.5" width="20.5" height="3.4" rx="5.1" ry="1.7" fill="rgb(206,206,206)"/>
<rect x="557.5" y="112.5" width="20.5" height="3.4" rx="5.1" ry="1.7" fill="rgb(38,38,38)"/>
<rect x="580.9" y="112.5" width="20.5" height="3.4" rx="5.1" ry="1.7" fill="rgb(182,182,182)"/>
<rect x="603.0" y="112.5" width="20.5" height="3.4" rx="5.1" ry="1.7" fill="rgb(98,98,98)"/>
<rect x="344.4" y="131.4" width="18.5" height="2.8" rx="4.6" ry="1.4" fill="rgb(86,86,86)"/>
<rect x="367.9" y="131.4" width="18.5" height="2.8" rx="4.6" ry="1.4" fill="rgb(146,146,146)"/>
<rect x="391.8" y="131.4" width="18.5" height="2.8" rx="4.6" ry="1.4" fill="rgb(86,86,86)"/>
<rect x="415.2" y="131.4" width="18.5" height="2.8" rx="4.6" ry="1.4" fill="rgb(194,194,194)"/>
<rect x="441.6" y="131.4" width="18.5" height="2.8" rx="4.6" ry="1.4" fill="rgb(62,62,62)"/>
<rect x="465.2" y="131.4" width="18.5" height="2.8" rx="4.6" ry="1.4" fill="rgb(158,158,158)"/>
<rect x="490.1" y="131.4" width="18.5" height="2.8" rx="4.6" ry="1.4" fill="rgb(38,38,38)"/>
<rect x="513.1" y="131.4" width="18.5" height="2.8" rx="4.6" ry="1.4" fill="rgb(182,182,182)"/>
<rect x="536.5" y="131.4" width="18.5" height="2.8" rx="4.6" ry="1.4" fill="rgb(50,50,50)"/>
<rect x="558.9" y="131.4" width="18.5" height="2.8" rx="4.6" ry="1.4" fill="rgb(182,182,182)"/>
<rect x="581.1" y="131.4" width="18.5" height="2.8" rx="4.6" ry="1.4" fill="rgb(26,26,26)"/>
<rect x="605.1" y="131.4" width="18.5" height="2.8" rx="4.6" ry="1.4" fill="rgb(210,210,210)"/>
<rect x="344.2" y="140.3" width="19" height="2.8" rx="4.8" ry="1.4" fill="rgb(158,158,158)"/>
<rect x="367.7" y="140.3" width="19" height="2.8" rx="4.8" ry="1.4" fill="rgb(14,14,14)"/>
<rect x="391.5" y="140.3" width="19" height="2.8" rx="4.8" ry="1.4" fill="rgb(146,146,146)"/>
<rect x="415.0" y="140.3" width="19" height="2.8" rx="4.8" ry="1.4" fill="rgb(110,110,110)"/>
<rect x="441.3" y="140.3" width="19" height="2.8" rx="4.8" ry="1.4" fill="rgb(134,134,134)"/>
<rect x="465.0" y="140.3" width="19" height="2.8" rx="4.8" ry="1.4" fill="rgb(26,26,26)"/>
<rect x="489.8" y="140.3" width="19" height="2.8" rx="4.8" ry="1.4" fill="rgb(134,134,134)"/>
<rect x="512.9" y="140.3" width="19" height="2.8" rx="4.8" ry="1.4" fill="rgb(146,146,146)"/>
<rect x="536.2" y="140.3" width="19" height="2.8" rx="4.8" ry="1.4" fill="rgb(158,158,158)"/>
<rect x="558.6" y="140.3" width="19" height="2.8" rx="4.8" ry="1.4" fill="rgb(38,38,38)"/>
<rect x="580.9" y="140.3" width="19" height="2.8" rx="4.8" ry="1.4" fill="rgb(146,146,146)"/>
<rect x="604.9" y="140.3" width="19" height="2.8" rx="4.8" ry="1.4" fill="rgb(110,110,110)"/>
<rect x="344.1" y="158.3" width="20.5" height="3.4" rx="5.1" ry="1.7" fill="rgb(38,38,38)"/>
<rect x="367.1" y="158.3" width="20.5" height="3.4" rx="5.1" ry="1.7" fill="rgb(86,86,86)"/>
<rect x="391.6" y="158.3" width="20.5" height="3.4" rx="5.1" ry="1.7" fill="rgb(26,26,26)"/>
<rect x="415.6" y="158.3" width="20.5" height="3.4" rx="5.1" ry="1.7" fill="rgb(110,110,110)"/>
<rect x="441.6" y="158.3" width="20.5" height="3.4" rx="5.1" ry="1.7" fill="rgb(38,38,38)"/>
<rect x="464.9" y="158.3" width="20.5" height="3.4" rx="5.1" ry="1.7" fill="rgb(146,146,146)"/>
<rect x="490.6" y="158.3" width="20.5" height="3.4" rx="5.1" ry="1.7" fill="rgb(26,26,26)"/>
<rect x="512.8" y="158.3" width="20.5" height="3.4" rx="5.1" ry="1.7" fill="rgb(158,158,158)"/>
<rect x="535.8" y="158.3" width="20.5" height="3.4" rx="5.1" ry="1.7" fill="rgb(38,38,38)"/>
<rect x="558.1" y="158.3" width="20.5" height="3.4" rx="5.1" ry="1.7" fill="rgb(134,134,134)"/>
<rect x="579.8" y="158.3" width="20.5" height="3.4" rx="5.1" ry="1.7" fill="rgb(50,50,50)"/>
<rect x="603.6" y="158.3" width="20.5" height="3.4" rx="5.1" ry="1.7" fill="rgb(134,134,134)"/>
<rect x="345.1" y="167.4" width="18.5" height="2.6" rx="4.6" ry="1.3" fill="rgb(194,194,194)"/>
<rect x="368.1" y="167.4" width="18.5" height="2.6" rx="4.6" ry="1.3" fill="rgb(62,62,62)"/>
<rect x="392.6" y="167.4" width="18.5" height="2.6" rx="4.6" ry="1.3" fill="rgb(182,182,182)"/>
<rect x="416.6" y="167.4" width="18.5" height="2.6" rx="4.6" ry="1.3" fill="rgb(74,74,74)"/>
<rect x="442.6" y="167.4" width="18.5" height="2.6" rx="4.6" ry="1.3" fill="rgb(206,206,206)"/>
<rect x="465.9" y="167.4" width="18.5" height="2.6" rx="4.6" ry="1.3" fill="rgb(50,50,50)"/>
<rect x="491.6" y="167.4" width="18.5" height="2.6" rx="4.6" ry="1.3" fill="rgb(194,194,194)"/>
<rect x="513.8" y="167.4" width="18.5" height="2.6" rx="4.6" ry="1.3" fill="rgb(122,122,122)"/>
<rect x="536.8" y="167.4" width="18.5" height="2.6" rx="4.6" ry="1.3" fill="rgb(218,218,218)"/>
<rect x="559.1" y="167.4" width="18.5" height="2.6" rx="4.6" ry="1.3" fill="rgb(38,38,38)"/>
<rect x="580.8" y="167.4" width="18.5" height="2.6" rx="4.6" ry="1.3" fill="rgb(218,218,218)"/>
<rect x="604.6" y="167.4" width="18.5" height="2.6" rx="4.6" ry="1.3" fill="rgb(110,110,110)"/>
<rect x="343.7" y="184.1" width="17" height="2.6" rx="4.2" ry="1.3" fill="rgb(9,9,9)"/>
<rect x="368.2" y="184.1" width="17" height="2.6" rx="4.2" ry="1.3" fill="rgb(110,110,110)"/>
<rect x="392.7" y="184.1" width="17" height="2.6" rx="4.2" ry="1.3" fill="rgb(8,8,8)"/>
<rect x="417.1" y="184.1" width="17" height="2.6" rx="4.2" ry="1.3" fill="rgb(134,134,134)"/>
<rect x="441.7" y="184.1" width="17" height="2.6" rx="4.2" ry="1.3" fill="rgb(26,26,26)"/>
<rect x="465.3" y="184.1" width="17" height="2.6" rx="4.2" ry="1.3" fill="rgb(182,182,182)"/>
<rect x="488.8" y="184.1" width="17" height="2.6" rx="4.2" ry="1.3" fill="rgb(26,26,26)"/>
<rect x="512.2" y="184.1" width="17" height="2.6" rx="4.2" ry="1.3" fill="rgb(98,98,98)"/>
<rect x="535.7" y="184.1" width="17" height="2.6" rx="4.2" ry="1.3" fill="rgb(14,14,14)"/>
<rect x="558.0" y="184.1" width="17" height="2.6" rx="4.2" ry="1.3" fill="rgb(146,146,146)"/>
<rect x="581.7" y="184.1" width="17" height="2.6" rx="4.2" ry="1.3" fill="rgb(50,50,50)"/>
<rect x="605.1" y="184.1" width="17" height="2.6" rx="4.2" ry="1.3" fill="rgb(158,158,158)"/>
<rect x="343.7" y="192.1" width="17" height="2.8" rx="4.2" ry="1.4" fill="rgb(206,206,206)"/>
<rect x="368.2" y="192.1" width="17" height="2.8" rx="4.2" ry="1.4" fill="rgb(8,8,8)"/>
<rect x="392.7" y="192.1" width="17" height="2.8" rx="4.2" ry="1.4" fill="rgb(194,194,194)"/>
<rect x="417.1" y="192.1" width="17" height="2.8" rx="4.2" ry="1.4" fill="rgb(26,26,26)"/>
<rect x="441.7" y="192.1" width="17" height="2.8" rx="4.2" ry="1.4" fill="rgb(206,206,206)"/>
<rect x="465.3" y="192.1" width="17" height="2.8" rx="4.2" ry="1.4" fill="rgb(8,8,8)"/>
<rect x="488.8" y="192.1" width="17" height="2.8" rx="4.2" ry="1.4" fill="rgb(206,206,206)"/>
<rect x="512.2" y="192.1" width="17" height="2.8" rx="4.2" ry="1.4" fill="rgb(86,86,86)"/>
<rect x="535.7" y="192.1" width="17" height="2.8" rx="4.2" ry="1.4" fill="rgb(218,218,218)"/>
<rect x="558.0" y="192.1" width="17" height="2.8" rx="4.2" ry="1.4" fill="rgb(8,8,8)"/>
<rect x="581.7" y="192.1" width="17" height="2.8" rx="4.2" ry="1.4" fill="rgb(218,218,218)"/>
<rect x="605.1" y="192.1" width="17" height="2.8" rx="4.2" ry="1.4" fill="rgb(86,86,86)"/>
<rect x="344.2" y="213.0" width="20.5" height="6.6" rx="5.1" ry="3.3" fill="rgb(8,8,8)"/>
<rect x="366.4" y="213.0" width="20.5" height="6.6" rx="5.1" ry="3.3" fill="rgb(8,8,8)"/>
<rect x="389.9" y="213.0" width="20.5" height="6.6" rx="5.1" ry="3.3" fill="rgb(8,8,8)"/>
<rect x="412.6" y="213.0" width="20.5" height="6.6" rx="5.1" ry="3.3" fill="rgb(8,8,8)"/>
<rect x="435.6" y="213.0" width="20.5" height="6.6" rx="5.1" ry="3.3" fill="rgb(9,9,9)"/>
<rect x="457.8" y="213.0" width="20.5" height="6.6" rx="5.1" ry="3.3" fill="rgb(8,8,8)"/>
<rect x="482.6" y="213.0" width="20.5" height="6.6" rx="5.1" ry="3.3" fill="rgb(8,8,8)"/>
<rect x="507.0" y="213.0" width="20.5" height="6.6" rx="5.1" ry="3.3" fill="rgb(9,9,9)"/>
<rect x="532.2" y="213.0" width="20.5" height="6.6" rx="5.1" ry="3.3" fill="rgb(9,9,9)"/>
<rect x="556.1" y="213.0" width="20.5" height="6.6" rx="5.1" ry="3.3" fill="rgb(9,9,9)"/>
<rect x="579.8" y="213.0" width="20.5" height="6.6" rx="5.1" ry="3.3" fill="rgb(14,14,14)"/>
<rect x="603.4" y="213.0" width="20.5" height="6.6" rx="5.1" ry="3.3" fill="rgb(18,18,18)"/>
</g>
<rect x="339.5" y="94.3" width="289.29999999999995" height="30.0" fill="none" stroke="#3a3a3a" stroke-width="1"/>
<rect x="339.5" y="127.8" width="289.29999999999995" height="19.500000000000014" fill="none" stroke="#3a3a3a" stroke-width="1"/>
<rect x="339.5" y="152" width="289.29999999999995" height="22.19999999999999" fill="none" stroke="#3a3a3a" stroke-width="1"/>
<rect x="339.5" y="179.5" width="289.29999999999995" height="22.30000000000001" fill="none" stroke="#3a3a3a" stroke-width="1"/>
<rect x="339.5" y="205" width="289.29999999999995" height="21.30000000000001" fill="none" stroke="#3a3a3a" stroke-width="1"/>
<text x="335.5" y="101.9" text-anchor="end" font-size="4.9" font-weight="bold" fill="#222">50 KDa</text>
<path d="M336.2,100.2H339.5" stroke="#333" stroke-width="0.7"/>
<text x="335.5" y="114.9" text-anchor="end" font-size="4.9" font-weight="bold" fill="#222">30 KDa</text>
<path d="M336.2,113.2H339.5" stroke="#333" stroke-width="0.7"/>
<text x="335.5" y="134.3" text-anchor="end" font-size="4.9" font-weight="bold" fill="#222">50 KDa</text>
<path d="M336.2,132.6H339.5" stroke="#333" stroke-width="0.7"/>
<text x="335.5" y="143.5" text-anchor="end" font-size="4.9" font-weight="bold" fill="#222">30 KDa</text>
<path d="M336.2,141.8H339.5" stroke="#333" stroke-width="0.7"/>
<text x="335.5" y="161.7" text-anchor="end" font-size="4.9" font-weight="bold" fill="#222">30 KDa</text>
<path d="M336.2,160.0H339.5" stroke="#333" stroke-width="0.7"/>
<text x="335.5" y="170.5" text-anchor="end" font-size="4.9" font-weight="bold" fill="#222">15 KDa</text>
<path d="M336.2,168.8H339.5" stroke="#333" stroke-width="0.7"/>
<text x="335.5" y="187.3" text-anchor="end" font-size="4.9" font-weight="bold" fill="#222">30 KDa</text>
<path d="M336.2,185.6H339.5" stroke="#333" stroke-width="0.7"/>
<text x="335.5" y="196.0" text-anchor="end" font-size="4.9" font-weight="bold" fill="#222">15 KDa</text>
<path d="M336.2,194.3H339.5" stroke="#333" stroke-width="0.7"/>
<text x="335.5" y="218.0" text-anchor="end" font-size="4.9" font-weight="bold" fill="#222">36 KDa</text>
<path d="M336.2,216.3H339.5" stroke="#333" stroke-width="0.7"/>
<text x="637" y="105.0" font-size="6.7" font-weight="bold" fill="#222">Pro-GSDMD</text>
<text x="637" y="117.5" font-size="6.7" font-weight="bold" fill="#222">GSDMD-p30</text>
<text x="637" y="135.5" font-size="6.7" font-weight="bold" fill="#222">Pro-Caspase-1</text>
<text x="637" y="146.8" font-size="6.7" font-weight="bold" fill="#222">Caspase 1-p20</text>
<text x="637" y="162.2" font-size="6.7" font-weight="bold" fill="#222">Pro-IL-1β</text>
<text x="637" y="173.4" font-size="6.7" font-weight="bold" fill="#222">IL-1β</text>
<text x="637" y="189.3" font-size="6.7" font-weight="bold" fill="#222">Pro-IL-18</text>
<text x="637" y="199.2" font-size="6.7" font-weight="bold" fill="#222">IL-18</text>
<text x="637" y="219.0" font-size="6.7" font-weight="bold" fill="#222">GAPDH</text>
<rect x="339.5" y="231.3" width="289.29999999999995" height="11.7" fill="#fff" stroke="#333" stroke-width="0.9"/>
<path d="M438,231.3V243M526.8,231.3V243" stroke="#333" stroke-width="0.9"/>
<text x="388.8" y="240.8" text-anchor="middle" font-size="7.1" font-weight="bold" fill="#222">Blood</text>
<text x="482.4" y="240.8" text-anchor="middle" font-size="7.1" font-weight="bold" fill="#222">Spleen</text>
<text x="577.7" y="240.8" text-anchor="middle" font-size="7.1" font-weight="bold" fill="#222">BALF</text>
<text transform="translate(353.5,85.9) rotate(-45)" font-size="7.3" font-weight="bold" fill="#222">Sham<tspan font-size="4.75" dy="-2.4">Control</tspan></text>
<text transform="translate(357.9,89.1) rotate(-45)" font-size="4.9" font-weight="bold" fill="#222">Mice</text>
<text transform="translate(377.7,85.9) rotate(-45)" font-size="7.3" font-weight="bold" fill="#222">CLP<tspan font-size="4.75" dy="-2.4">Control Mice</tspan></text>
<text transform="translate(401.9,85.9) rotate(-45)" font-size="7.3" font-weight="bold" fill="#222">Sham<tspan font-size="4.75" dy="-2.4">NAT10-OE</tspan></text>
<text transform="translate(426.2,85.9) rotate(-45)" font-size="7.3" font-weight="bold" fill="#222">CLP<tspan font-size="4.75" dy="-2.4">NAT10-OE</tspan></text>
<text transform="translate(450.4,85.9) rotate(-45)" font-size="7.3" font-weight="bold" fill="#222">Sham<tspan font-size="4.75" dy="-2.4">Control Mice</tspan></text>
<text transform="translate(474.6,85.9) rotate(-45)" font-size="7.3" font-weight="bold" fill="#222">CLP<tspan font-size="4.75" dy="-2.4">Control Mice</tspan></text>
<text transform="translate(498.8,85.9) rotate(-45)" font-size="7.3" font-weight="bold" fill="#222">Sham<tspan font-size="4.75" dy="-2.4">NAT10-OE</tspan></text>
<text transform="translate(523.0,85.9) rotate(-45)" font-size="7.3" font-weight="bold" fill="#222">CLP<tspan font-size="4.75" dy="-2.4">NAT10-OE</tspan></text>
<text transform="translate(547.3,85.9) rotate(-45)" font-size="7.3" font-weight="bold" fill="#222">Sham<tspan font-size="4.75" dy="-2.4">Control Mice</tspan></text>
<text transform="translate(571.5,85.9) rotate(-45)" font-size="7.3" font-weight="bold" fill="#222">CLP<tspan font-size="4.75" dy="-2.4">Control Mice</tspan></text>
<text transform="translate(595.7,85.9) rotate(-45)" font-size="7.3" font-weight="bold" fill="#222">Sham<tspan font-size="4.75" dy="-2.4">NAT10-OE</tspan></text>
<text transform="translate(619.9,85.9) rotate(-45)" font-size="7.3" font-weight="bold" fill="#222">CLP<tspan font-size="4.75" dy="-2.4">NAT10-OE</tspan></text>
</svg>
</body></html>
